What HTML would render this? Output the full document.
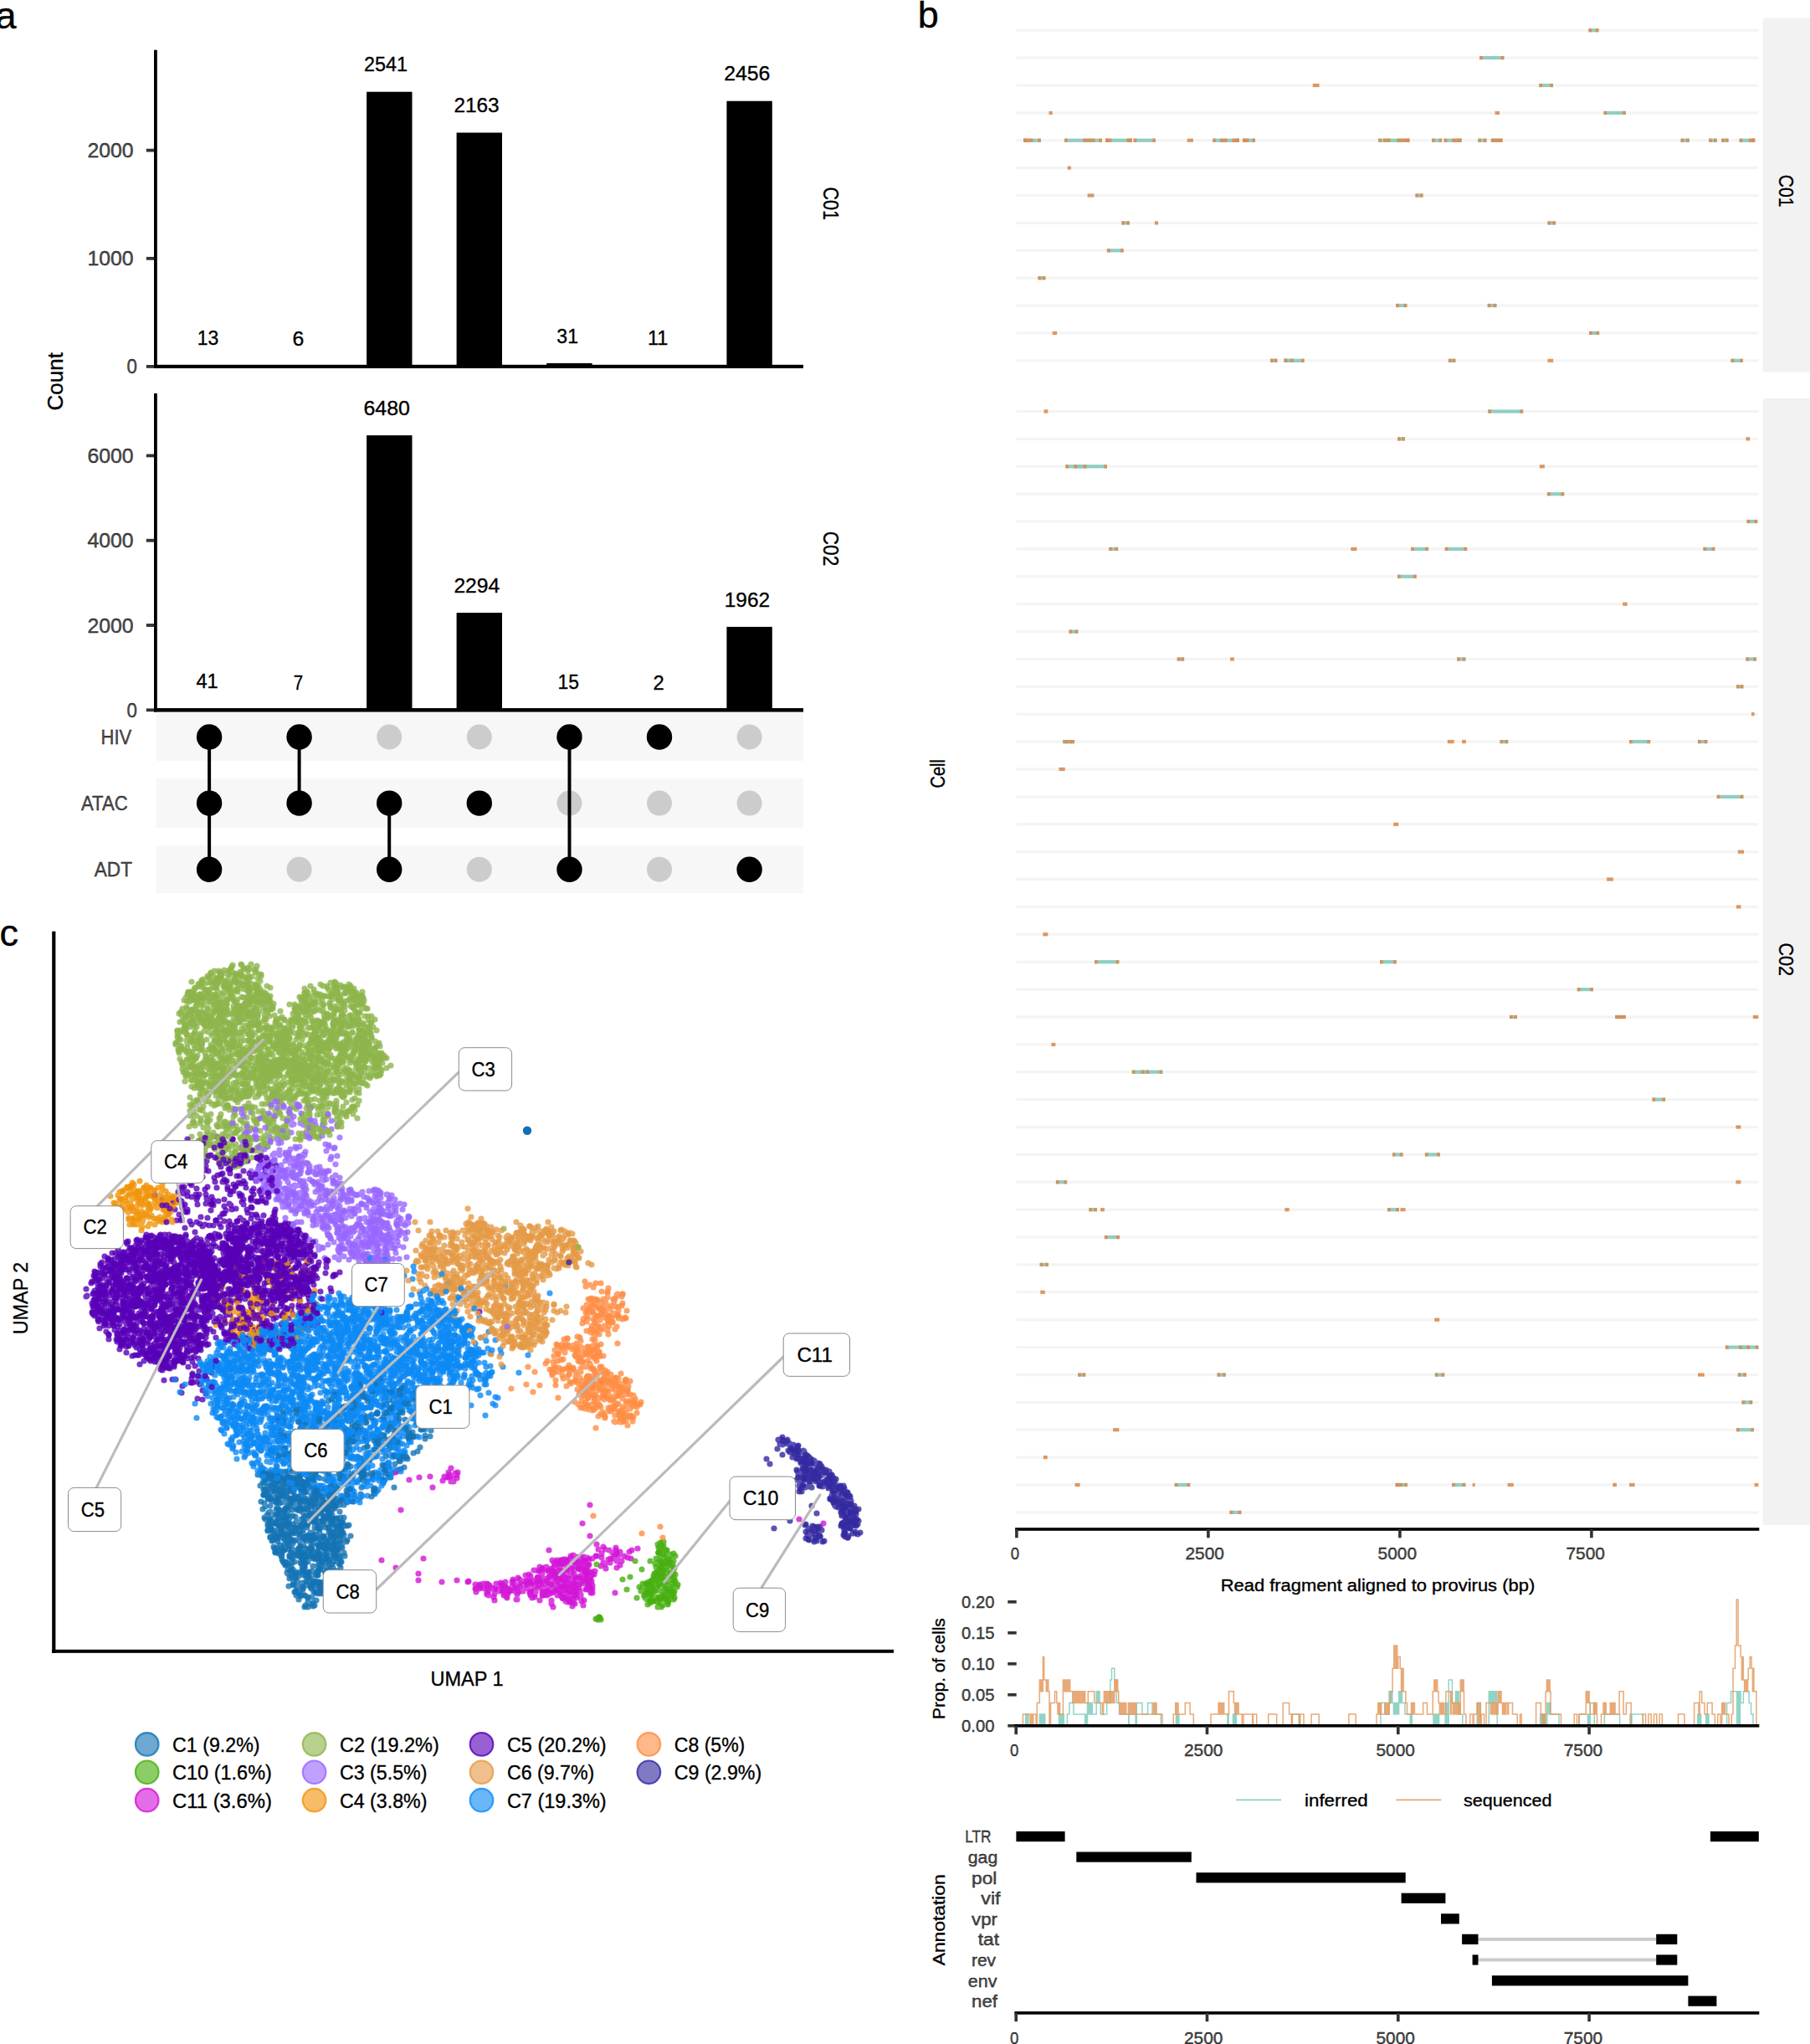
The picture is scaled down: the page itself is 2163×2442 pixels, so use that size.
<!DOCTYPE html>
<html><head><meta charset="utf-8"><title>Figure</title>
<style>
html,body{margin:0;padding:0;background:#fff}
svg{display:block;font-family:'Liberation Sans', sans-serif}
text{stroke:#000;stroke-width:.35px}
</style></head><body>
<svg width="2163" height="2442" viewBox="0 0 2163 2442">
<rect width="2163" height="2442" fill="#fff"/>
<text x="-5.6" y="33.6" font-size="45">a</text>
<rect x="438.1" y="109.7" width="54.4" height="328.2"/>
<rect x="545.6" y="158.5" width="54.4" height="279.4"/>
<rect x="653.2" y="433.9" width="54.4" height="4.0"/>
<rect x="868.4" y="120.7" width="54.4" height="317.2"/>
<rect x="184.0" y="59.7" width="3.8" height="380.3"/>
<rect x="184.0" y="435.8" width="776.0" height="4.2"/>
<rect x="174.8" y="436.0" width="9.2" height="3.8" fill="#333"/>
<text x="151.4" y="446.2" font-size="24.7" textLength="12.4" lengthAdjust="spacingAndGlyphs" fill="#4d4d4d" stroke="#4d4d4d">0</text>
<rect x="174.8" y="306.9" width="9.2" height="3.8" fill="#333"/>
<text x="104.4" y="317.2" font-size="24.7" textLength="55.2" lengthAdjust="spacingAndGlyphs" fill="#4d4d4d" stroke="#4d4d4d">1000</text>
<rect x="174.8" y="177.7" width="9.2" height="3.8" fill="#333"/>
<text x="104.4" y="188.1" font-size="24.7" textLength="55.2" lengthAdjust="spacingAndGlyphs" fill="#4d4d4d" stroke="#4d4d4d">2000</text>
<text x="235.7" y="411.9" font-size="24.7" textLength="25.6" lengthAdjust="spacingAndGlyphs">13</text>
<text x="349.6" y="412.8" font-size="24.7" textLength="13.8" lengthAdjust="spacingAndGlyphs">6</text>
<text x="435.0" y="85.4" font-size="24.7" textLength="52.0" lengthAdjust="spacingAndGlyphs">2541</text>
<text x="542.4" y="134.2" font-size="24.7" textLength="54.3" lengthAdjust="spacingAndGlyphs">2163</text>
<text x="665.3" y="409.6" font-size="24.7" textLength="25.7" lengthAdjust="spacingAndGlyphs">31</text>
<text x="773.9" y="412.2" font-size="24.7" textLength="24.4" lengthAdjust="spacingAndGlyphs">11</text>
<text x="865.2" y="96.4" font-size="24.7" textLength="55.2" lengthAdjust="spacingAndGlyphs">2456</text>
<rect x="438.1" y="520.1" width="54.4" height="328.2"/>
<rect x="545.6" y="732.1" width="54.4" height="116.2"/>
<rect x="868.4" y="748.9" width="54.4" height="99.4"/>
<rect x="184.0" y="470.0" width="3.8" height="380.4"/>
<rect x="184.0" y="846.2" width="776.0" height="4.2"/>
<rect x="174.8" y="846.4" width="9.2" height="3.8" fill="#333"/>
<text x="151.4" y="856.6" font-size="24.7" textLength="12.4" lengthAdjust="spacingAndGlyphs" fill="#4d4d4d" stroke="#4d4d4d">0</text>
<rect x="174.8" y="745.1" width="9.2" height="3.8" fill="#333"/>
<text x="104.4" y="755.5" font-size="24.7" textLength="55.2" lengthAdjust="spacingAndGlyphs" fill="#4d4d4d" stroke="#4d4d4d">2000</text>
<rect x="174.8" y="643.8" width="9.2" height="3.8" fill="#333"/>
<text x="104.4" y="654.2" font-size="24.7" textLength="55.2" lengthAdjust="spacingAndGlyphs" fill="#4d4d4d" stroke="#4d4d4d">4000</text>
<rect x="174.8" y="542.5" width="9.2" height="3.8" fill="#333"/>
<text x="104.4" y="552.9" font-size="24.7" textLength="55.2" lengthAdjust="spacingAndGlyphs" fill="#4d4d4d" stroke="#4d4d4d">6000</text>
<text x="234.5" y="821.9" font-size="24.7" textLength="26.2" lengthAdjust="spacingAndGlyphs">41</text>
<text x="350.8" y="823.6" font-size="24.7" textLength="11.4" lengthAdjust="spacingAndGlyphs">7</text>
<text x="434.4" y="495.8" font-size="24.7" textLength="55.5" lengthAdjust="spacingAndGlyphs">6480</text>
<text x="542.4" y="707.8" font-size="24.7" textLength="54.9" lengthAdjust="spacingAndGlyphs">2294</text>
<text x="666.5" y="823.2" font-size="24.7" textLength="25.5" lengthAdjust="spacingAndGlyphs">15</text>
<text x="780.4" y="823.9" font-size="24.7" textLength="13.2" lengthAdjust="spacingAndGlyphs">2</text>
<text x="865.8" y="724.6" font-size="24.7" textLength="54.2" lengthAdjust="spacingAndGlyphs">1962</text>
<text x="74.6" y="455.7" font-size="26" text-anchor="middle" textLength="69.4" lengthAdjust="spacingAndGlyphs" transform="rotate(-90 74.6 455.7)">Count</text>
<text x="984.3" y="243.2" font-size="26.5" text-anchor="middle" textLength="39.5" lengthAdjust="spacingAndGlyphs" transform="rotate(90 984.3 243.2)">C01</text>
<text x="984.3" y="655.5" font-size="26.5" text-anchor="middle" textLength="41.5" lengthAdjust="spacingAndGlyphs" transform="rotate(90 984.3 655.5)">C02</text>
<rect x="186.5" y="850.7" width="773.5" height="58.2" fill="#f7f7f7"/>
<rect x="186.5" y="930.4" width="773.5" height="58.5" fill="#f7f7f7"/>
<rect x="186.5" y="1010.0" width="773.5" height="57.0" fill="#f7f7f7"/>
<rect x="184.0" y="846.2" width="776.0" height="4.2"/>
<circle cx="357.6" cy="1038.7" r="15" fill="#ccc"/>
<circle cx="465.2" cy="880.5" r="15" fill="#ccc"/>
<circle cx="572.8" cy="880.5" r="15" fill="#ccc"/>
<circle cx="572.8" cy="1038.7" r="15" fill="#ccc"/>
<circle cx="680.5" cy="959.6" r="15" fill="#ccc"/>
<circle cx="788.0" cy="959.6" r="15" fill="#ccc"/>
<circle cx="788.0" cy="1038.7" r="15" fill="#ccc"/>
<circle cx="895.6" cy="880.5" r="15" fill="#ccc"/>
<circle cx="895.6" cy="959.6" r="15" fill="#ccc"/>
<rect x="248.1" y="880.5" width="4.0" height="158.2"/>
<circle cx="250.1" cy="880.5" r="15.2"/>
<circle cx="250.1" cy="959.6" r="15.2"/>
<circle cx="250.1" cy="1038.7" r="15.2"/>
<rect x="355.6" y="880.5" width="4.0" height="79.1"/>
<circle cx="357.6" cy="880.5" r="15.2"/>
<circle cx="357.6" cy="959.6" r="15.2"/>
<rect x="463.2" y="959.6" width="4.0" height="79.1"/>
<circle cx="465.2" cy="959.6" r="15.2"/>
<circle cx="465.2" cy="1038.7" r="15.2"/>
<circle cx="572.8" cy="959.6" r="15.2"/>
<rect x="678.5" y="880.5" width="4.0" height="158.2"/>
<circle cx="680.5" cy="880.5" r="15.2"/>
<circle cx="680.5" cy="1038.7" r="15.2"/>
<circle cx="788.0" cy="880.5" r="15.2"/>
<circle cx="895.6" cy="1038.7" r="15.2"/>
<text x="120.5" y="889.3" font-size="24.7" textLength="36.7" lengthAdjust="spacingAndGlyphs" fill="#4d4d4d" stroke="#4d4d4d">HIV</text>
<text x="97.0" y="968.4" font-size="24.7" textLength="55.7" lengthAdjust="spacingAndGlyphs" fill="#4d4d4d" stroke="#4d4d4d">ATAC</text>
<text x="112.8" y="1047.4" font-size="24.7" textLength="45.2" lengthAdjust="spacingAndGlyphs" fill="#4d4d4d" stroke="#4d4d4d">ADT</text>
<text x="1096.8" y="33.2" font-size="45">b</text>
<rect x="2106.7" y="21.2" width="60" height="423.3" rx="2.5" fill="#f2f2f2"/>
<rect x="2106.7" y="475.9" width="60" height="1346" rx="2.5" fill="#f2f2f2"/>
<text x="2125.7" y="228.2" font-size="24.7" text-anchor="middle" textLength="38.7" lengthAdjust="spacingAndGlyphs" transform="rotate(90 2125.7 228.2)">C01</text>
<text x="2125.7" y="1146.3" font-size="24.7" text-anchor="middle" textLength="39.5" lengthAdjust="spacingAndGlyphs" transform="rotate(90 2125.7 1146.3)">C02</text>
<text x="1128.8" y="924.3" font-size="24.7" text-anchor="middle" textLength="34.6" lengthAdjust="spacingAndGlyphs" transform="rotate(-90 1128.8 924.3)">Cell</text>
<rect x="1214.4" y="34.6" width="886.9" height="3.2" fill="#f4f4f4"/>
<rect x="1214.4" y="67.5" width="886.9" height="3.2" fill="#f4f4f4"/>
<rect x="1214.4" y="100.4" width="886.9" height="3.2" fill="#f4f4f4"/>
<rect x="1214.4" y="133.3" width="886.9" height="3.2" fill="#f4f4f4"/>
<rect x="1214.4" y="166.1" width="886.9" height="3.2" fill="#f4f4f4"/>
<rect x="1214.4" y="199.0" width="886.9" height="3.2" fill="#f4f4f4"/>
<rect x="1214.4" y="231.9" width="886.9" height="3.2" fill="#f4f4f4"/>
<rect x="1214.4" y="264.8" width="886.9" height="3.2" fill="#f4f4f4"/>
<rect x="1214.4" y="297.7" width="886.9" height="3.2" fill="#f4f4f4"/>
<rect x="1214.4" y="330.6" width="886.9" height="3.2" fill="#f4f4f4"/>
<rect x="1214.4" y="363.4" width="886.9" height="3.2" fill="#f4f4f4"/>
<rect x="1214.4" y="396.3" width="886.9" height="3.2" fill="#f4f4f4"/>
<rect x="1214.4" y="429.2" width="886.9" height="3.2" fill="#f4f4f4"/>
<rect x="1214.4" y="489.9" width="886.9" height="3.2" fill="#f4f4f4"/>
<rect x="1214.4" y="522.8" width="886.9" height="3.2" fill="#f4f4f4"/>
<rect x="1214.4" y="555.7" width="886.9" height="3.2" fill="#f4f4f4"/>
<rect x="1214.4" y="588.6" width="886.9" height="3.2" fill="#f4f4f4"/>
<rect x="1214.4" y="621.4" width="886.9" height="3.2" fill="#f4f4f4"/>
<rect x="1214.4" y="654.3" width="886.9" height="3.2" fill="#f4f4f4"/>
<rect x="1214.4" y="687.2" width="886.9" height="3.2" fill="#f4f4f4"/>
<rect x="1214.4" y="720.1" width="886.9" height="3.2" fill="#f4f4f4"/>
<rect x="1214.4" y="753.0" width="886.9" height="3.2" fill="#f4f4f4"/>
<rect x="1214.4" y="785.9" width="886.9" height="3.2" fill="#f4f4f4"/>
<rect x="1214.4" y="818.7" width="886.9" height="3.2" fill="#f4f4f4"/>
<rect x="1214.4" y="851.6" width="886.9" height="3.2" fill="#f4f4f4"/>
<rect x="1214.4" y="884.5" width="886.9" height="3.2" fill="#f4f4f4"/>
<rect x="1214.4" y="917.4" width="886.9" height="3.2" fill="#f4f4f4"/>
<rect x="1214.4" y="950.3" width="886.9" height="3.2" fill="#f4f4f4"/>
<rect x="1214.4" y="983.2" width="886.9" height="3.2" fill="#f4f4f4"/>
<rect x="1214.4" y="1016.1" width="886.9" height="3.2" fill="#f4f4f4"/>
<rect x="1214.4" y="1048.9" width="886.9" height="3.2" fill="#f4f4f4"/>
<rect x="1214.4" y="1081.8" width="886.9" height="3.2" fill="#f4f4f4"/>
<rect x="1214.4" y="1114.7" width="886.9" height="3.2" fill="#f4f4f4"/>
<rect x="1214.4" y="1147.6" width="886.9" height="3.2" fill="#f4f4f4"/>
<rect x="1214.4" y="1180.5" width="886.9" height="3.2" fill="#f4f4f4"/>
<rect x="1214.4" y="1213.4" width="886.9" height="3.2" fill="#f4f4f4"/>
<rect x="1214.4" y="1246.3" width="886.9" height="3.2" fill="#f4f4f4"/>
<rect x="1214.4" y="1279.1" width="886.9" height="3.2" fill="#f4f4f4"/>
<rect x="1214.4" y="1312.0" width="886.9" height="3.2" fill="#f4f4f4"/>
<rect x="1214.4" y="1344.9" width="886.9" height="3.2" fill="#f4f4f4"/>
<rect x="1214.4" y="1377.8" width="886.9" height="3.2" fill="#f4f4f4"/>
<rect x="1214.4" y="1410.7" width="886.9" height="3.2" fill="#f4f4f4"/>
<rect x="1214.4" y="1443.6" width="886.9" height="3.2" fill="#f4f4f4"/>
<rect x="1214.4" y="1476.5" width="886.9" height="3.2" fill="#f4f4f4"/>
<rect x="1214.4" y="1509.3" width="886.9" height="3.2" fill="#f4f4f4"/>
<rect x="1214.4" y="1542.2" width="886.9" height="3.2" fill="#f4f4f4"/>
<rect x="1214.4" y="1575.1" width="886.9" height="3.2" fill="#f4f4f4"/>
<rect x="1214.4" y="1608.0" width="886.9" height="3.2" fill="#f4f4f4"/>
<rect x="1214.4" y="1640.9" width="886.9" height="3.2" fill="#f4f4f4"/>
<rect x="1214.4" y="1673.8" width="886.9" height="3.2" fill="#f4f4f4"/>
<rect x="1214.4" y="1706.6" width="886.9" height="3.2" fill="#f4f4f4"/>
<rect x="1214.4" y="1739.5" width="886.9" height="3.2" fill="#f4f4f4"/>
<rect x="1214.4" y="1772.4" width="886.9" height="3.2" fill="#f4f4f4"/>
<rect x="1214.4" y="1805.3" width="886.9" height="3.2" fill="#f4f4f4"/>
<rect x="1898.5" y="34.1" width="12.0" height="4.2" fill="#86c9bd" fill-opacity=".9"/>
<rect x="1898.5" y="34.1" width="3.7" height="4.2" fill="#d98c50" fill-opacity=".9"/>
<rect x="1906.8" y="34.1" width="3.7" height="4.2" fill="#d98c50" fill-opacity=".9"/>
<rect x="1768.1" y="67.0" width="29.3" height="4.2" fill="#86c9bd" fill-opacity=".9"/>
<rect x="1768.1" y="67.0" width="3.7" height="4.2" fill="#d98c50" fill-opacity=".9"/>
<rect x="1793.7" y="67.0" width="3.7" height="4.2" fill="#d98c50" fill-opacity=".9"/>
<rect x="1568.8" y="99.9" width="7.8" height="4.2" fill="#d98c50" fill-opacity=".9"/>
<rect x="1839.3" y="99.9" width="16.8" height="4.2" fill="#86c9bd" fill-opacity=".9"/>
<rect x="1839.3" y="99.9" width="3.7" height="4.2" fill="#d98c50" fill-opacity=".9"/>
<rect x="1852.3" y="99.9" width="3.7" height="4.2" fill="#d98c50" fill-opacity=".9"/>
<rect x="1253.5" y="132.8" width="4.2" height="4.2" fill="#d98c50" fill-opacity=".9"/>
<rect x="1786.6" y="132.8" width="5.4" height="4.2" fill="#d98c50" fill-opacity=".9"/>
<rect x="1916.5" y="132.8" width="26.3" height="4.2" fill="#86c9bd" fill-opacity=".9"/>
<rect x="1916.5" y="132.8" width="3.7" height="4.2" fill="#d98c50" fill-opacity=".9"/>
<rect x="1939.1" y="132.8" width="3.7" height="4.2" fill="#d98c50" fill-opacity=".9"/>
<rect x="1223.0" y="165.6" width="20.9" height="4.2" fill="#86c9bd" fill-opacity=".9"/>
<rect x="1223.0" y="165.6" width="3.7" height="4.2" fill="#d98c50" fill-opacity=".9"/>
<rect x="1240.2" y="165.6" width="3.7" height="4.2" fill="#d98c50" fill-opacity=".9"/>
<rect x="1223.0" y="165.6" width="11.4" height="4.2" fill="#d98c50" fill-opacity=".9"/>
<rect x="1272.1" y="165.6" width="44.9" height="4.2" fill="#86c9bd" fill-opacity=".9"/>
<rect x="1272.1" y="165.6" width="3.7" height="4.2" fill="#d98c50" fill-opacity=".9"/>
<rect x="1313.2" y="165.6" width="3.7" height="4.2" fill="#d98c50" fill-opacity=".9"/>
<rect x="1294.2" y="165.6" width="14.4" height="4.2" fill="#d98c50" fill-opacity=".9"/>
<rect x="1321.1" y="165.6" width="31.7" height="4.2" fill="#86c9bd" fill-opacity=".9"/>
<rect x="1321.1" y="165.6" width="3.7" height="4.2" fill="#d98c50" fill-opacity=".9"/>
<rect x="1349.1" y="165.6" width="3.7" height="4.2" fill="#d98c50" fill-opacity=".9"/>
<rect x="1321.1" y="165.6" width="7.2" height="4.2" fill="#d98c50" fill-opacity=".9"/>
<rect x="1346.3" y="165.6" width="6.6" height="4.2" fill="#d98c50" fill-opacity=".9"/>
<rect x="1354.6" y="165.6" width="26.3" height="4.2" fill="#86c9bd" fill-opacity=".9"/>
<rect x="1354.6" y="165.6" width="3.7" height="4.2" fill="#d98c50" fill-opacity=".9"/>
<rect x="1377.3" y="165.6" width="3.7" height="4.2" fill="#d98c50" fill-opacity=".9"/>
<rect x="1418.7" y="165.6" width="7.2" height="4.2" fill="#d98c50" fill-opacity=".9"/>
<rect x="1449.2" y="165.6" width="31.7" height="4.2" fill="#86c9bd" fill-opacity=".9"/>
<rect x="1449.2" y="165.6" width="3.7" height="4.2" fill="#d98c50" fill-opacity=".9"/>
<rect x="1477.2" y="165.6" width="3.7" height="4.2" fill="#d98c50" fill-opacity=".9"/>
<rect x="1458.1" y="165.6" width="8.4" height="4.2" fill="#d98c50" fill-opacity=".9"/>
<rect x="1472.5" y="165.6" width="8.4" height="4.2" fill="#d98c50" fill-opacity=".9"/>
<rect x="1485.1" y="165.6" width="15.0" height="4.2" fill="#86c9bd" fill-opacity=".9"/>
<rect x="1485.1" y="165.6" width="3.7" height="4.2" fill="#d98c50" fill-opacity=".9"/>
<rect x="1496.3" y="165.6" width="3.7" height="4.2" fill="#d98c50" fill-opacity=".9"/>
<rect x="1485.1" y="165.6" width="7.2" height="4.2" fill="#d98c50" fill-opacity=".9"/>
<rect x="1647.2" y="165.6" width="37.1" height="4.2" fill="#86c9bd" fill-opacity=".9"/>
<rect x="1647.2" y="165.6" width="3.7" height="4.2" fill="#d98c50" fill-opacity=".9"/>
<rect x="1680.6" y="165.6" width="3.7" height="4.2" fill="#d98c50" fill-opacity=".9"/>
<rect x="1653.2" y="165.6" width="8.4" height="4.2" fill="#d98c50" fill-opacity=".9"/>
<rect x="1669.4" y="165.6" width="15.0" height="4.2" fill="#d98c50" fill-opacity=".9"/>
<rect x="1711.2" y="165.6" width="12.0" height="4.2" fill="#86c9bd" fill-opacity=".9"/>
<rect x="1711.2" y="165.6" width="3.7" height="4.2" fill="#d98c50" fill-opacity=".9"/>
<rect x="1719.5" y="165.6" width="3.7" height="4.2" fill="#d98c50" fill-opacity=".9"/>
<rect x="1725.6" y="165.6" width="20.9" height="4.2" fill="#86c9bd" fill-opacity=".9"/>
<rect x="1725.6" y="165.6" width="3.7" height="4.2" fill="#d98c50" fill-opacity=".9"/>
<rect x="1742.8" y="165.6" width="3.7" height="4.2" fill="#d98c50" fill-opacity=".9"/>
<rect x="1735.2" y="165.6" width="11.4" height="4.2" fill="#d98c50" fill-opacity=".9"/>
<rect x="1766.3" y="165.6" width="10.2" height="4.2" fill="#86c9bd" fill-opacity=".9"/>
<rect x="1766.3" y="165.6" width="3.7" height="4.2" fill="#d98c50" fill-opacity=".9"/>
<rect x="1772.8" y="165.6" width="3.7" height="4.2" fill="#d98c50" fill-opacity=".9"/>
<rect x="1781.8" y="165.6" width="13.8" height="4.2" fill="#86c9bd" fill-opacity=".9"/>
<rect x="1781.8" y="165.6" width="3.7" height="4.2" fill="#d98c50" fill-opacity=".9"/>
<rect x="1791.9" y="165.6" width="3.7" height="4.2" fill="#d98c50" fill-opacity=".9"/>
<rect x="1784.8" y="165.6" width="8.4" height="4.2" fill="#d98c50" fill-opacity=".9"/>
<rect x="2008.6" y="165.6" width="10.2" height="4.2" fill="#86c9bd" fill-opacity=".9"/>
<rect x="2008.6" y="165.6" width="3.7" height="4.2" fill="#d98c50" fill-opacity=".9"/>
<rect x="2015.1" y="165.6" width="3.7" height="4.2" fill="#d98c50" fill-opacity=".9"/>
<rect x="2042.1" y="165.6" width="9.6" height="4.2" fill="#86c9bd" fill-opacity=".9"/>
<rect x="2042.1" y="165.6" width="3.7" height="4.2" fill="#d98c50" fill-opacity=".9"/>
<rect x="2048.0" y="165.6" width="3.7" height="4.2" fill="#d98c50" fill-opacity=".9"/>
<rect x="2057.1" y="165.6" width="8.4" height="4.2" fill="#86c9bd" fill-opacity=".9"/>
<rect x="2057.1" y="165.6" width="3.7" height="4.2" fill="#d98c50" fill-opacity=".9"/>
<rect x="2061.8" y="165.6" width="3.7" height="4.2" fill="#d98c50" fill-opacity=".9"/>
<rect x="2078.6" y="165.6" width="18.5" height="4.2" fill="#86c9bd" fill-opacity=".9"/>
<rect x="2078.6" y="165.6" width="3.7" height="4.2" fill="#d98c50" fill-opacity=".9"/>
<rect x="2093.5" y="165.6" width="3.7" height="4.2" fill="#d98c50" fill-opacity=".9"/>
<rect x="2090.0" y="165.6" width="7.2" height="4.2" fill="#d98c50" fill-opacity=".9"/>
<rect x="1275.7" y="198.5" width="4.2" height="4.2" fill="#d98c50" fill-opacity=".9"/>
<rect x="1299.6" y="231.4" width="7.8" height="4.2" fill="#d98c50" fill-opacity=".9"/>
<rect x="1691.5" y="231.4" width="9.0" height="4.2" fill="#86c9bd" fill-opacity=".9"/>
<rect x="1691.5" y="231.4" width="3.7" height="4.2" fill="#d98c50" fill-opacity=".9"/>
<rect x="1696.8" y="231.4" width="3.7" height="4.2" fill="#d98c50" fill-opacity=".9"/>
<rect x="1340.3" y="264.3" width="9.6" height="4.2" fill="#86c9bd" fill-opacity=".9"/>
<rect x="1340.3" y="264.3" width="3.7" height="4.2" fill="#d98c50" fill-opacity=".9"/>
<rect x="1346.1" y="264.3" width="3.7" height="4.2" fill="#d98c50" fill-opacity=".9"/>
<rect x="1379.8" y="264.3" width="4.2" height="4.2" fill="#d98c50" fill-opacity=".9"/>
<rect x="1849.5" y="264.3" width="9.6" height="4.2" fill="#86c9bd" fill-opacity=".9"/>
<rect x="1849.5" y="264.3" width="3.7" height="4.2" fill="#d98c50" fill-opacity=".9"/>
<rect x="1855.3" y="264.3" width="3.7" height="4.2" fill="#d98c50" fill-opacity=".9"/>
<rect x="1322.9" y="297.2" width="19.7" height="4.2" fill="#86c9bd" fill-opacity=".9"/>
<rect x="1322.9" y="297.2" width="3.7" height="4.2" fill="#d98c50" fill-opacity=".9"/>
<rect x="1339.0" y="297.2" width="3.7" height="4.2" fill="#d98c50" fill-opacity=".9"/>
<rect x="1240.4" y="330.1" width="9.0" height="4.2" fill="#86c9bd" fill-opacity=".9"/>
<rect x="1240.4" y="330.1" width="3.7" height="4.2" fill="#d98c50" fill-opacity=".9"/>
<rect x="1245.6" y="330.1" width="3.7" height="4.2" fill="#d98c50" fill-opacity=".9"/>
<rect x="1668.2" y="362.9" width="13.2" height="4.2" fill="#86c9bd" fill-opacity=".9"/>
<rect x="1668.2" y="362.9" width="3.7" height="4.2" fill="#d98c50" fill-opacity=".9"/>
<rect x="1677.6" y="362.9" width="3.7" height="4.2" fill="#d98c50" fill-opacity=".9"/>
<rect x="1777.7" y="362.9" width="10.8" height="4.2" fill="#86c9bd" fill-opacity=".9"/>
<rect x="1777.7" y="362.9" width="3.7" height="4.2" fill="#d98c50" fill-opacity=".9"/>
<rect x="1784.7" y="362.9" width="3.7" height="4.2" fill="#d98c50" fill-opacity=".9"/>
<rect x="1257.7" y="395.8" width="5.4" height="4.2" fill="#d98c50" fill-opacity=".9"/>
<rect x="1899.1" y="395.8" width="12.0" height="4.2" fill="#86c9bd" fill-opacity=".9"/>
<rect x="1899.1" y="395.8" width="3.7" height="4.2" fill="#d98c50" fill-opacity=".9"/>
<rect x="1907.4" y="395.8" width="3.7" height="4.2" fill="#d98c50" fill-opacity=".9"/>
<rect x="1518.0" y="428.7" width="8.4" height="4.2" fill="#86c9bd" fill-opacity=".9"/>
<rect x="1518.0" y="428.7" width="3.7" height="4.2" fill="#d98c50" fill-opacity=".9"/>
<rect x="1522.7" y="428.7" width="3.7" height="4.2" fill="#d98c50" fill-opacity=".9"/>
<rect x="1534.7" y="428.7" width="23.9" height="4.2" fill="#86c9bd" fill-opacity=".9"/>
<rect x="1534.7" y="428.7" width="3.7" height="4.2" fill="#d98c50" fill-opacity=".9"/>
<rect x="1555.0" y="428.7" width="3.7" height="4.2" fill="#d98c50" fill-opacity=".9"/>
<rect x="1534.7" y="428.7" width="10.8" height="4.2" fill="#86c9bd" fill-opacity=".9"/>
<rect x="1534.7" y="428.7" width="3.7" height="4.2" fill="#d98c50" fill-opacity=".9"/>
<rect x="1541.8" y="428.7" width="3.7" height="4.2" fill="#d98c50" fill-opacity=".9"/>
<rect x="1731.0" y="428.7" width="8.4" height="4.2" fill="#86c9bd" fill-opacity=".9"/>
<rect x="1731.0" y="428.7" width="3.7" height="4.2" fill="#d98c50" fill-opacity=".9"/>
<rect x="1735.7" y="428.7" width="3.7" height="4.2" fill="#d98c50" fill-opacity=".9"/>
<rect x="1849.5" y="428.7" width="6.6" height="4.2" fill="#d98c50" fill-opacity=".9"/>
<rect x="2068.5" y="428.7" width="14.4" height="4.2" fill="#86c9bd" fill-opacity=".9"/>
<rect x="2068.5" y="428.7" width="3.7" height="4.2" fill="#d98c50" fill-opacity=".9"/>
<rect x="2079.1" y="428.7" width="3.7" height="4.2" fill="#d98c50" fill-opacity=".9"/>
<rect x="1247.5" y="489.4" width="4.8" height="4.2" fill="#d98c50" fill-opacity=".9"/>
<rect x="1778.3" y="489.4" width="41.9" height="4.2" fill="#86c9bd" fill-opacity=".9"/>
<rect x="1778.3" y="489.4" width="3.7" height="4.2" fill="#d98c50" fill-opacity=".9"/>
<rect x="1816.4" y="489.4" width="3.7" height="4.2" fill="#d98c50" fill-opacity=".9"/>
<rect x="1670.0" y="522.3" width="9.0" height="4.2" fill="#86c9bd" fill-opacity=".9"/>
<rect x="1670.0" y="522.3" width="3.7" height="4.2" fill="#d98c50" fill-opacity=".9"/>
<rect x="1675.2" y="522.3" width="3.7" height="4.2" fill="#d98c50" fill-opacity=".9"/>
<rect x="2086.4" y="522.3" width="4.8" height="4.2" fill="#d98c50" fill-opacity=".9"/>
<rect x="1273.3" y="555.2" width="49.7" height="4.2" fill="#86c9bd" fill-opacity=".9"/>
<rect x="1273.3" y="555.2" width="3.7" height="4.2" fill="#d98c50" fill-opacity=".9"/>
<rect x="1319.2" y="555.2" width="3.7" height="4.2" fill="#d98c50" fill-opacity=".9"/>
<rect x="1283.4" y="555.2" width="15.0" height="4.2" fill="#86c9bd" fill-opacity=".9"/>
<rect x="1283.4" y="555.2" width="3.7" height="4.2" fill="#d98c50" fill-opacity=".9"/>
<rect x="1294.7" y="555.2" width="3.7" height="4.2" fill="#d98c50" fill-opacity=".9"/>
<rect x="1839.9" y="555.2" width="6.0" height="4.2" fill="#d98c50" fill-opacity=".9"/>
<rect x="1848.9" y="588.1" width="20.3" height="4.2" fill="#86c9bd" fill-opacity=".9"/>
<rect x="1848.9" y="588.1" width="3.7" height="4.2" fill="#d98c50" fill-opacity=".9"/>
<rect x="1865.5" y="588.1" width="3.7" height="4.2" fill="#d98c50" fill-opacity=".9"/>
<rect x="2087.6" y="620.9" width="12.6" height="4.2" fill="#86c9bd" fill-opacity=".9"/>
<rect x="2087.6" y="620.9" width="3.7" height="4.2" fill="#d98c50" fill-opacity=".9"/>
<rect x="2096.5" y="620.9" width="3.7" height="4.2" fill="#d98c50" fill-opacity=".9"/>
<rect x="1325.3" y="653.8" width="10.8" height="4.2" fill="#86c9bd" fill-opacity=".9"/>
<rect x="1325.3" y="653.8" width="3.7" height="4.2" fill="#d98c50" fill-opacity=".9"/>
<rect x="1332.4" y="653.8" width="3.7" height="4.2" fill="#d98c50" fill-opacity=".9"/>
<rect x="1614.3" y="653.8" width="7.2" height="4.2" fill="#d98c50" fill-opacity=".9"/>
<rect x="1686.1" y="653.8" width="20.9" height="4.2" fill="#86c9bd" fill-opacity=".9"/>
<rect x="1686.1" y="653.8" width="3.7" height="4.2" fill="#d98c50" fill-opacity=".9"/>
<rect x="1703.4" y="653.8" width="3.7" height="4.2" fill="#d98c50" fill-opacity=".9"/>
<rect x="1726.8" y="653.8" width="26.3" height="4.2" fill="#86c9bd" fill-opacity=".9"/>
<rect x="1726.8" y="653.8" width="3.7" height="4.2" fill="#d98c50" fill-opacity=".9"/>
<rect x="1749.4" y="653.8" width="3.7" height="4.2" fill="#d98c50" fill-opacity=".9"/>
<rect x="2035.5" y="653.8" width="13.8" height="4.2" fill="#86c9bd" fill-opacity=".9"/>
<rect x="2035.5" y="653.8" width="3.7" height="4.2" fill="#d98c50" fill-opacity=".9"/>
<rect x="2045.6" y="653.8" width="3.7" height="4.2" fill="#d98c50" fill-opacity=".9"/>
<rect x="1670.0" y="686.7" width="22.7" height="4.2" fill="#86c9bd" fill-opacity=".9"/>
<rect x="1670.0" y="686.7" width="3.7" height="4.2" fill="#d98c50" fill-opacity=".9"/>
<rect x="1689.0" y="686.7" width="3.7" height="4.2" fill="#d98c50" fill-opacity=".9"/>
<rect x="1939.2" y="719.6" width="5.4" height="4.2" fill="#d98c50" fill-opacity=".9"/>
<rect x="1277.5" y="752.5" width="10.8" height="4.2" fill="#86c9bd" fill-opacity=".9"/>
<rect x="1277.5" y="752.5" width="3.7" height="4.2" fill="#d98c50" fill-opacity=".9"/>
<rect x="1284.5" y="752.5" width="3.7" height="4.2" fill="#d98c50" fill-opacity=".9"/>
<rect x="1406.7" y="785.4" width="8.4" height="4.2" fill="#86c9bd" fill-opacity=".9"/>
<rect x="1406.7" y="785.4" width="3.7" height="4.2" fill="#d98c50" fill-opacity=".9"/>
<rect x="1411.4" y="785.4" width="3.7" height="4.2" fill="#d98c50" fill-opacity=".9"/>
<rect x="1470.1" y="785.4" width="4.8" height="4.2" fill="#d98c50" fill-opacity=".9"/>
<rect x="1741.2" y="785.4" width="10.2" height="4.2" fill="#86c9bd" fill-opacity=".9"/>
<rect x="1741.2" y="785.4" width="3.7" height="4.2" fill="#d98c50" fill-opacity=".9"/>
<rect x="1747.6" y="785.4" width="3.7" height="4.2" fill="#d98c50" fill-opacity=".9"/>
<rect x="2086.4" y="785.4" width="12.6" height="4.2" fill="#86c9bd" fill-opacity=".9"/>
<rect x="2086.4" y="785.4" width="3.7" height="4.2" fill="#d98c50" fill-opacity=".9"/>
<rect x="2095.3" y="785.4" width="3.7" height="4.2" fill="#d98c50" fill-opacity=".9"/>
<rect x="2075.0" y="818.2" width="8.4" height="4.2" fill="#86c9bd" fill-opacity=".9"/>
<rect x="2075.0" y="818.2" width="3.7" height="4.2" fill="#d98c50" fill-opacity=".9"/>
<rect x="2079.7" y="818.2" width="3.7" height="4.2" fill="#d98c50" fill-opacity=".9"/>
<rect x="2093.0" y="851.1" width="3.6" height="4.2" fill="#d98c50" fill-opacity=".9"/>
<rect x="1270.3" y="884.0" width="13.8" height="4.2" fill="#86c9bd" fill-opacity=".9"/>
<rect x="1270.3" y="884.0" width="3.7" height="4.2" fill="#d98c50" fill-opacity=".9"/>
<rect x="1280.3" y="884.0" width="3.7" height="4.2" fill="#d98c50" fill-opacity=".9"/>
<rect x="1272.7" y="884.0" width="8.4" height="4.2" fill="#86c9bd" fill-opacity=".9"/>
<rect x="1272.7" y="884.0" width="3.7" height="4.2" fill="#d98c50" fill-opacity=".9"/>
<rect x="1277.3" y="884.0" width="3.7" height="4.2" fill="#d98c50" fill-opacity=".9"/>
<rect x="1729.8" y="884.0" width="7.8" height="4.2" fill="#d98c50" fill-opacity=".9"/>
<rect x="1747.1" y="884.0" width="4.8" height="4.2" fill="#d98c50" fill-opacity=".9"/>
<rect x="1792.6" y="884.0" width="9.6" height="4.2" fill="#86c9bd" fill-opacity=".9"/>
<rect x="1792.6" y="884.0" width="3.7" height="4.2" fill="#d98c50" fill-opacity=".9"/>
<rect x="1798.5" y="884.0" width="3.7" height="4.2" fill="#d98c50" fill-opacity=".9"/>
<rect x="1947.0" y="884.0" width="25.1" height="4.2" fill="#86c9bd" fill-opacity=".9"/>
<rect x="1947.0" y="884.0" width="3.7" height="4.2" fill="#d98c50" fill-opacity=".9"/>
<rect x="1968.4" y="884.0" width="3.7" height="4.2" fill="#d98c50" fill-opacity=".9"/>
<rect x="2029.0" y="884.0" width="11.4" height="4.2" fill="#86c9bd" fill-opacity=".9"/>
<rect x="2029.0" y="884.0" width="3.7" height="4.2" fill="#d98c50" fill-opacity=".9"/>
<rect x="2036.6" y="884.0" width="3.7" height="4.2" fill="#d98c50" fill-opacity=".9"/>
<rect x="1265.5" y="916.9" width="7.2" height="4.2" fill="#d98c50" fill-opacity=".9"/>
<rect x="2051.7" y="949.8" width="31.7" height="4.2" fill="#86c9bd" fill-opacity=".9"/>
<rect x="2051.7" y="949.8" width="3.7" height="4.2" fill="#d98c50" fill-opacity=".9"/>
<rect x="2079.7" y="949.8" width="3.7" height="4.2" fill="#d98c50" fill-opacity=".9"/>
<rect x="1665.2" y="982.7" width="6.0" height="4.2" fill="#d98c50" fill-opacity=".9"/>
<rect x="2076.8" y="1015.6" width="7.2" height="4.2" fill="#d98c50" fill-opacity=".9"/>
<rect x="1920.1" y="1048.4" width="7.8" height="4.2" fill="#d98c50" fill-opacity=".9"/>
<rect x="2075.0" y="1081.3" width="5.4" height="4.2" fill="#d98c50" fill-opacity=".9"/>
<rect x="1246.3" y="1114.2" width="6.0" height="4.2" fill="#d98c50" fill-opacity=".9"/>
<rect x="1308.0" y="1147.1" width="29.3" height="4.2" fill="#86c9bd" fill-opacity=".9"/>
<rect x="1308.0" y="1147.1" width="3.7" height="4.2" fill="#d98c50" fill-opacity=".9"/>
<rect x="1333.6" y="1147.1" width="3.7" height="4.2" fill="#d98c50" fill-opacity=".9"/>
<rect x="1649.0" y="1147.1" width="19.7" height="4.2" fill="#86c9bd" fill-opacity=".9"/>
<rect x="1649.0" y="1147.1" width="3.7" height="4.2" fill="#d98c50" fill-opacity=".9"/>
<rect x="1665.1" y="1147.1" width="3.7" height="4.2" fill="#d98c50" fill-opacity=".9"/>
<rect x="1884.8" y="1180.0" width="19.1" height="4.2" fill="#86c9bd" fill-opacity=".9"/>
<rect x="1884.8" y="1180.0" width="3.7" height="4.2" fill="#d98c50" fill-opacity=".9"/>
<rect x="1900.2" y="1180.0" width="3.7" height="4.2" fill="#d98c50" fill-opacity=".9"/>
<rect x="1804.0" y="1212.9" width="9.0" height="4.2" fill="#86c9bd" fill-opacity=".9"/>
<rect x="1804.0" y="1212.9" width="3.7" height="4.2" fill="#d98c50" fill-opacity=".9"/>
<rect x="1809.3" y="1212.9" width="3.7" height="4.2" fill="#d98c50" fill-opacity=".9"/>
<rect x="1930.2" y="1212.9" width="12.6" height="4.2" fill="#86c9bd" fill-opacity=".9"/>
<rect x="1930.2" y="1212.9" width="3.7" height="4.2" fill="#d98c50" fill-opacity=".9"/>
<rect x="1939.1" y="1212.9" width="3.7" height="4.2" fill="#d98c50" fill-opacity=".9"/>
<rect x="1933.2" y="1212.9" width="7.2" height="4.2" fill="#d98c50" fill-opacity=".9"/>
<rect x="2094.8" y="1212.9" width="6.6" height="4.2" fill="#d98c50" fill-opacity=".9"/>
<rect x="1256.5" y="1245.8" width="4.8" height="4.2" fill="#d98c50" fill-opacity=".9"/>
<rect x="1352.8" y="1278.6" width="36.5" height="4.2" fill="#86c9bd" fill-opacity=".9"/>
<rect x="1352.8" y="1278.6" width="3.7" height="4.2" fill="#d98c50" fill-opacity=".9"/>
<rect x="1385.6" y="1278.6" width="3.7" height="4.2" fill="#d98c50" fill-opacity=".9"/>
<rect x="1363.6" y="1278.6" width="9.6" height="4.2" fill="#86c9bd" fill-opacity=".9"/>
<rect x="1363.6" y="1278.6" width="3.7" height="4.2" fill="#d98c50" fill-opacity=".9"/>
<rect x="1369.5" y="1278.6" width="3.7" height="4.2" fill="#d98c50" fill-opacity=".9"/>
<rect x="1974.5" y="1311.5" width="15.6" height="4.2" fill="#86c9bd" fill-opacity=".9"/>
<rect x="1974.5" y="1311.5" width="3.7" height="4.2" fill="#d98c50" fill-opacity=".9"/>
<rect x="1986.4" y="1311.5" width="3.7" height="4.2" fill="#d98c50" fill-opacity=".9"/>
<rect x="2074.4" y="1344.4" width="6.0" height="4.2" fill="#d98c50" fill-opacity=".9"/>
<rect x="1664.0" y="1377.3" width="12.6" height="4.2" fill="#86c9bd" fill-opacity=".9"/>
<rect x="1664.0" y="1377.3" width="3.7" height="4.2" fill="#d98c50" fill-opacity=".9"/>
<rect x="1672.8" y="1377.3" width="3.7" height="4.2" fill="#d98c50" fill-opacity=".9"/>
<rect x="1702.9" y="1377.3" width="18.0" height="4.2" fill="#86c9bd" fill-opacity=".9"/>
<rect x="1702.9" y="1377.3" width="3.7" height="4.2" fill="#d98c50" fill-opacity=".9"/>
<rect x="1717.1" y="1377.3" width="3.7" height="4.2" fill="#d98c50" fill-opacity=".9"/>
<rect x="1261.9" y="1410.2" width="13.2" height="4.2" fill="#86c9bd" fill-opacity=".9"/>
<rect x="1261.9" y="1410.2" width="3.7" height="4.2" fill="#d98c50" fill-opacity=".9"/>
<rect x="1271.4" y="1410.2" width="3.7" height="4.2" fill="#d98c50" fill-opacity=".9"/>
<rect x="2074.4" y="1410.2" width="6.0" height="4.2" fill="#d98c50" fill-opacity=".9"/>
<rect x="1301.4" y="1443.1" width="9.6" height="4.2" fill="#86c9bd" fill-opacity=".9"/>
<rect x="1301.4" y="1443.1" width="3.7" height="4.2" fill="#d98c50" fill-opacity=".9"/>
<rect x="1307.3" y="1443.1" width="3.7" height="4.2" fill="#d98c50" fill-opacity=".9"/>
<rect x="1315.1" y="1443.1" width="4.8" height="4.2" fill="#d98c50" fill-opacity=".9"/>
<rect x="1535.3" y="1443.1" width="5.4" height="4.2" fill="#d98c50" fill-opacity=".9"/>
<rect x="1658.0" y="1443.1" width="13.8" height="4.2" fill="#86c9bd" fill-opacity=".9"/>
<rect x="1658.0" y="1443.1" width="3.7" height="4.2" fill="#d98c50" fill-opacity=".9"/>
<rect x="1668.1" y="1443.1" width="3.7" height="4.2" fill="#d98c50" fill-opacity=".9"/>
<rect x="1673.5" y="1443.1" width="6.0" height="4.2" fill="#d98c50" fill-opacity=".9"/>
<rect x="1319.9" y="1476.0" width="18.0" height="4.2" fill="#86c9bd" fill-opacity=".9"/>
<rect x="1319.9" y="1476.0" width="3.7" height="4.2" fill="#d98c50" fill-opacity=".9"/>
<rect x="1334.2" y="1476.0" width="3.7" height="4.2" fill="#d98c50" fill-opacity=".9"/>
<rect x="1242.7" y="1508.8" width="10.2" height="4.2" fill="#86c9bd" fill-opacity=".9"/>
<rect x="1242.7" y="1508.8" width="3.7" height="4.2" fill="#d98c50" fill-opacity=".9"/>
<rect x="1249.2" y="1508.8" width="3.7" height="4.2" fill="#d98c50" fill-opacity=".9"/>
<rect x="1243.3" y="1541.7" width="5.4" height="4.2" fill="#d98c50" fill-opacity=".9"/>
<rect x="1714.2" y="1574.6" width="6.0" height="4.2" fill="#d98c50" fill-opacity=".9"/>
<rect x="2061.9" y="1607.5" width="39.5" height="4.2" fill="#86c9bd" fill-opacity=".9"/>
<rect x="2061.9" y="1607.5" width="3.7" height="4.2" fill="#d98c50" fill-opacity=".9"/>
<rect x="2097.7" y="1607.5" width="3.7" height="4.2" fill="#d98c50" fill-opacity=".9"/>
<rect x="2078.0" y="1607.5" width="13.2" height="4.2" fill="#86c9bd" fill-opacity=".9"/>
<rect x="2078.0" y="1607.5" width="3.7" height="4.2" fill="#d98c50" fill-opacity=".9"/>
<rect x="2087.5" y="1607.5" width="3.7" height="4.2" fill="#d98c50" fill-opacity=".9"/>
<rect x="1288.2" y="1640.4" width="9.0" height="4.2" fill="#86c9bd" fill-opacity=".9"/>
<rect x="1288.2" y="1640.4" width="3.7" height="4.2" fill="#d98c50" fill-opacity=".9"/>
<rect x="1293.5" y="1640.4" width="3.7" height="4.2" fill="#d98c50" fill-opacity=".9"/>
<rect x="1454.6" y="1640.4" width="10.2" height="4.2" fill="#86c9bd" fill-opacity=".9"/>
<rect x="1454.6" y="1640.4" width="3.7" height="4.2" fill="#d98c50" fill-opacity=".9"/>
<rect x="1461.0" y="1640.4" width="3.7" height="4.2" fill="#d98c50" fill-opacity=".9"/>
<rect x="1714.8" y="1640.4" width="11.4" height="4.2" fill="#86c9bd" fill-opacity=".9"/>
<rect x="1714.8" y="1640.4" width="3.7" height="4.2" fill="#d98c50" fill-opacity=".9"/>
<rect x="1722.5" y="1640.4" width="3.7" height="4.2" fill="#d98c50" fill-opacity=".9"/>
<rect x="2029.0" y="1640.4" width="7.8" height="4.2" fill="#d98c50" fill-opacity=".9"/>
<rect x="2076.8" y="1640.4" width="10.2" height="4.2" fill="#86c9bd" fill-opacity=".9"/>
<rect x="2076.8" y="1640.4" width="3.7" height="4.2" fill="#d98c50" fill-opacity=".9"/>
<rect x="2083.3" y="1640.4" width="3.7" height="4.2" fill="#d98c50" fill-opacity=".9"/>
<rect x="2081.6" y="1673.3" width="12.6" height="4.2" fill="#86c9bd" fill-opacity=".9"/>
<rect x="2081.6" y="1673.3" width="3.7" height="4.2" fill="#d98c50" fill-opacity=".9"/>
<rect x="2090.5" y="1673.3" width="3.7" height="4.2" fill="#d98c50" fill-opacity=".9"/>
<rect x="1330.1" y="1706.1" width="7.2" height="4.2" fill="#d98c50" fill-opacity=".9"/>
<rect x="2075.0" y="1706.1" width="20.9" height="4.2" fill="#86c9bd" fill-opacity=".9"/>
<rect x="2075.0" y="1706.1" width="3.7" height="4.2" fill="#d98c50" fill-opacity=".9"/>
<rect x="2092.3" y="1706.1" width="3.7" height="4.2" fill="#d98c50" fill-opacity=".9"/>
<rect x="1246.9" y="1739.0" width="4.8" height="4.2" fill="#d98c50" fill-opacity=".9"/>
<rect x="1284.6" y="1771.9" width="6.0" height="4.2" fill="#d98c50" fill-opacity=".9"/>
<rect x="1403.7" y="1771.9" width="18.5" height="4.2" fill="#86c9bd" fill-opacity=".9"/>
<rect x="1403.7" y="1771.9" width="3.7" height="4.2" fill="#d98c50" fill-opacity=".9"/>
<rect x="1418.5" y="1771.9" width="3.7" height="4.2" fill="#d98c50" fill-opacity=".9"/>
<rect x="1667.6" y="1771.9" width="14.4" height="4.2" fill="#86c9bd" fill-opacity=".9"/>
<rect x="1667.6" y="1771.9" width="3.7" height="4.2" fill="#d98c50" fill-opacity=".9"/>
<rect x="1678.2" y="1771.9" width="3.7" height="4.2" fill="#d98c50" fill-opacity=".9"/>
<rect x="1668.8" y="1771.9" width="7.2" height="4.2" fill="#d98c50" fill-opacity=".9"/>
<rect x="1735.2" y="1771.9" width="16.2" height="4.2" fill="#86c9bd" fill-opacity=".9"/>
<rect x="1735.2" y="1771.9" width="3.7" height="4.2" fill="#d98c50" fill-opacity=".9"/>
<rect x="1747.6" y="1771.9" width="3.7" height="4.2" fill="#d98c50" fill-opacity=".9"/>
<rect x="1759.7" y="1771.9" width="3.0" height="4.2" fill="#d98c50" fill-opacity=".9"/>
<rect x="1801.6" y="1771.9" width="7.2" height="4.2" fill="#d98c50" fill-opacity=".9"/>
<rect x="1927.2" y="1771.9" width="4.8" height="4.2" fill="#d98c50" fill-opacity=".9"/>
<rect x="1947.0" y="1771.9" width="6.6" height="4.2" fill="#d98c50" fill-opacity=".9"/>
<rect x="2096.6" y="1771.9" width="4.8" height="4.2" fill="#d98c50" fill-opacity=".9"/>
<rect x="1469.5" y="1804.8" width="13.8" height="4.2" fill="#86c9bd" fill-opacity=".9"/>
<rect x="1469.5" y="1804.8" width="3.7" height="4.2" fill="#d98c50" fill-opacity=".9"/>
<rect x="1479.6" y="1804.8" width="3.7" height="4.2" fill="#d98c50" fill-opacity=".9"/>
<rect x="1213.1" y="1825.2" width="889.2" height="3.6"/>
<rect x="1213.1" y="1827.0" width="3.6" height="10.3" fill="#333"/>
<text x="1207.8" y="1863.1" font-size="20.5" textLength="10.4" lengthAdjust="spacingAndGlyphs" fill="#4d4d4d" stroke="#4d4d4d">0</text>
<rect x="1442.1" y="1827.0" width="3.6" height="10.3" fill="#333"/>
<text x="1416.4" y="1863.1" font-size="20.5" textLength="46.5" lengthAdjust="spacingAndGlyphs" fill="#4d4d4d" stroke="#4d4d4d">2500</text>
<rect x="1671.1" y="1827.0" width="3.6" height="10.3" fill="#333"/>
<text x="1646.6" y="1863.1" font-size="20.5" textLength="46.5" lengthAdjust="spacingAndGlyphs" fill="#4d4d4d" stroke="#4d4d4d">5000</text>
<rect x="1900.1" y="1827.0" width="3.6" height="10.3" fill="#333"/>
<text x="1871.5" y="1863.1" font-size="20.5" textLength="46.5" lengthAdjust="spacingAndGlyphs" fill="#4d4d4d" stroke="#4d4d4d">7500</text>
<text x="1458.7" y="1901.0" font-size="20.5" textLength="375.5" lengthAdjust="spacingAndGlyphs">Read fragment aligned to provirus (bp)</text>
<rect x="1204.3" y="2060.0" width="10.4" height="3.6" fill="#333"/>
<text x="1149.1" y="2069.1" font-size="20.5" textLength="39.4" lengthAdjust="spacingAndGlyphs" fill="#4d4d4d" stroke="#4d4d4d">0.00</text>
<rect x="1204.3" y="2023.0" width="10.4" height="3.6" fill="#333"/>
<text x="1149.1" y="2032.1" font-size="20.5" textLength="39.4" lengthAdjust="spacingAndGlyphs" fill="#4d4d4d" stroke="#4d4d4d">0.05</text>
<rect x="1204.3" y="1986.0" width="10.4" height="3.6" fill="#333"/>
<text x="1149.1" y="1995.1" font-size="20.5" textLength="39.4" lengthAdjust="spacingAndGlyphs" fill="#4d4d4d" stroke="#4d4d4d">0.10</text>
<rect x="1204.3" y="1949.0" width="10.4" height="3.6" fill="#333"/>
<text x="1149.1" y="1958.1" font-size="20.5" textLength="39.4" lengthAdjust="spacingAndGlyphs" fill="#4d4d4d" stroke="#4d4d4d">0.15</text>
<rect x="1204.3" y="1912.0" width="10.4" height="3.6" fill="#333"/>
<text x="1149.1" y="1921.1" font-size="20.5" textLength="39.4" lengthAdjust="spacingAndGlyphs" fill="#4d4d4d" stroke="#4d4d4d">0.20</text>
<text x="1128.8" y="1993.6" font-size="20.5" text-anchor="middle" textLength="120.8" lengthAdjust="spacingAndGlyphs" transform="rotate(-90 1128.8 1993.6)">Prop. of cells</text>
<path d="M1214.9 2061.8H1225.7V2048.1H1227.0V2061.8H1228.3V2048.1H1229.0V2061.8H1242.3V2048.1H1243.6V2061.8H1244.9V2048.1H1246.2V2061.8H1247.5V2048.1H1248.8V2061.8H1265.5V2048.1H1266.8V2061.8H1268.1V2048.1H1269.4V2061.8H1270.7V2048.1H1271.3V2061.8H1275.4V2048.1H1277.9V2034.4H1282.9V2048.1H1296.6V2061.8H1297.9V2048.1H1299.2V2061.8H1299.5V2034.4H1300.8V2048.1H1302.1V2034.4H1303.4V2048.1H1304.7V2034.4H1305.3V2048.1H1310.2V2020.7H1311.5V2034.4H1312.8V2020.7H1314.1V2034.4H1315.2V2048.1H1322.7V2034.4H1326.8V2007.0H1328.5V1993.3H1331.8V2007.0H1334.3V2034.4H1337.6V2048.1H1348.8V2061.8H1349.2V2048.1H1357.1V2061.8H1358.3V2034.4H1364.9V2048.1H1371.6V2034.4H1377.0V2048.1H1387.3V2061.8H1405.5V2048.1H1406.8V2061.8H1408.1V2048.1H1408.9V2061.8H1466.9V2048.1H1468.2V2061.8H1473.5V2048.1H1474.8V2061.8H1476.1V2048.1H1477.4V2061.8H1543.9V2048.1H1552.2V2061.8H1650.0V2034.4H1655.0V2048.1H1660.0V2020.7H1661.3V2034.4H1662.6V2020.7H1663.9V2034.4H1665.4V2048.1H1666.7V2034.4H1668.0V2048.1H1669.3V2034.4H1670.6V2048.1H1671.6V2020.7H1672.9V2034.4H1674.2V2020.7H1675.5V2034.4H1679.0V2048.1H1685.3V2061.8H1686.6V2048.1H1687.3V2061.8H1713.0V2048.1H1714.3V2061.8H1715.6V2048.1H1716.9V2061.8H1718.2V2048.1H1719.6V2061.8H1727.1V2034.4H1728.4V2061.8H1729.7V2034.4H1731.0V2061.8H1731.2V2007.0H1735.4V2034.4H1739.5V2020.7H1740.8V2034.4H1742.1V2020.7H1743.4V2034.4H1743.7V2048.1H1747.8V2061.8H1765.2V2034.4H1769.4V2061.8H1779.3V2020.7H1780.6V2034.4H1781.9V2020.7H1783.2V2034.4H1784.5V2020.7H1785.8V2034.4H1787.1V2020.7H1788.4V2034.4H1789.2V2061.8H1840.6V2048.1H1841.9V2061.8H1843.2V2048.1H1844.5V2061.8H1845.8V2048.1H1847.2V2061.8H1848.9V2034.4H1850.2V2048.1H1851.5V2034.4H1852.8V2048.1H1863.0V2061.8H1887.0V2048.1H1897.4V2061.8H1898.7V2048.1H1900.0V2061.8H1900.3V2034.4H1905.3V2061.8H1917.4V2048.1H1935.6V2061.8H1948.0V2048.1H1949.3V2061.8H1950.0V2048.1H1963.3V2061.8H2028.7V2048.1H2030.0V2061.8H2031.3V2048.1H2032.6V2061.8H2038.7V2048.1H2040.0V2061.8H2041.3V2048.1H2042.0V2061.8H2063.6V2034.4H2068.5V2020.7H2075.6V2061.8H2076.9V2020.7H2078.2V2061.8H2079.5V2020.7H2080.1V2034.4H2083.4V2020.7H2090.1V2034.4H2092.6V2048.1H2095.0V2061.8H2102.1" fill="none" stroke="#7fcbbd" stroke-width="1.5" stroke-opacity=".85" stroke-linejoin="miter"/>
<path d="M1214.9 2061.8H1222.4V2048.1H1231.1V2061.8H1232.4V2048.1H1233.7V2061.8H1234.8V2048.1H1238.1V2061.8H1239.3V2034.4H1242.3V2007.0H1243.6V2020.7H1244.9V2007.0H1246.2V2020.7H1246.4V1979.6H1247.7V2007.0H1250.2V2020.7H1251.5V2007.0H1252.8V2020.7H1254.0V2061.8H1255.5V2034.4H1260.5V2020.7H1262.7V2034.4H1264.0V2048.1H1265.3V2034.4H1266.6V2048.1H1270.4V2007.0H1271.7V2020.7H1273.0V2007.0H1274.3V2020.7H1275.6V2007.0H1276.9V2020.7H1278.2V2007.0H1278.7V2020.7H1281.7V2034.4H1283.0V2020.7H1284.3V2034.4H1285.4V2020.7H1286.7V2034.4H1288.0V2020.7H1289.3V2034.4H1290.6V2020.7H1291.2V2034.4H1292.8V2020.7H1294.1V2034.4H1295.4V2020.7H1296.7V2034.4H1300.3V2020.7H1307.7V2034.4H1317.3V2048.1H1318.6V2034.4H1319.3V2020.7H1320.6V2034.4H1321.9V2020.7H1323.2V2034.4H1324.5V2020.7H1325.8V2034.4H1327.1V2020.7H1328.4V2034.4H1329.7V2020.7H1331.0V2034.4H1331.8V2007.0H1333.1V2020.7H1334.4V2007.0H1335.7V2020.7H1336.7V2034.4H1338.0V2048.1H1339.3V2034.4H1340.6V2048.1H1341.9V2034.4H1343.2V2048.1H1344.5V2034.4H1345.8V2048.1H1348.4V2034.4H1349.7V2048.1H1351.0V2034.4H1352.3V2048.1H1353.6V2034.4H1354.9V2048.1H1356.2V2034.4H1357.5V2048.1H1378.2V2034.4H1379.5V2048.1H1380.8V2034.4H1382.1V2048.1H1389.0V2061.8H1402.2V2048.1H1404.7V2034.4H1406.0V2048.1H1407.3V2034.4H1408.0V2048.1H1416.3V2034.4H1422.1V2048.1H1426.3V2061.8H1447.0V2048.1H1456.1V2034.4H1457.4V2048.1H1458.7V2034.4H1460.0V2048.1H1461.3V2034.4H1462.7V2048.1H1468.5V2020.7H1474.3V2034.4H1475.6V2048.1H1476.9V2034.4H1478.2V2048.1H1479.5V2034.4H1480.1V2048.1H1484.3V2061.8H1485.9V2048.1H1496.7V2061.8H1497.5V2048.1H1501.7V2061.8H1515.7V2048.1H1525.7V2061.8H1533.2V2034.4H1540.6V2048.1H1543.4V2061.8H1544.4V2048.1H1552.7V2061.8H1553.9V2048.1H1558.0V2061.8H1567.1V2048.1H1576.2V2061.8H1611.9V2048.1H1620.2V2061.8H1645.0V2048.1H1646.7V2034.4H1648.0V2048.1H1649.3V2034.4H1650.6V2048.1H1655.0V2034.4H1656.3V2048.1H1657.6V2034.4H1658.9V2048.1H1660.2V2034.4H1661.6V2020.7H1664.1V1993.3H1665.8V1965.9H1667.1V1993.3H1668.4V1965.9H1669.7V1993.3H1670.7V1979.6H1673.2V1993.3H1674.5V2020.7H1675.8V1993.3H1677.1V2020.7H1679.8V2034.4H1681.5V2048.1H1686.5V2034.4H1687.8V2048.1H1689.1V2034.4H1690.4V2048.1H1700.6V2034.4H1705.5V2048.1H1712.2V2020.7H1713.8V2007.0H1715.1V2020.7H1716.4V2007.0H1717.7V2020.7H1719.1V2034.4H1720.4V2048.1H1721.7V2034.4H1723.0V2048.1H1724.3V2034.4H1725.4V2048.1H1727.9V2020.7H1733.4V2048.1H1734.7V2020.7H1735.4V2034.4H1736.7V2048.1H1738.0V2034.4H1739.3V2048.1H1740.6V2034.4H1741.9V2048.1H1743.2V2034.4H1744.5V2048.1H1745.3V2007.0H1746.6V2020.7H1747.9V2007.0H1749.2V2020.7H1749.5V2048.1H1751.9V2061.8H1756.9V2048.1H1760.2V2061.8H1761.1V2048.1H1765.2V2034.4H1766.5V2061.8H1767.8V2034.4H1769.1V2061.8H1770.2V2048.1H1773.5V2061.8H1776.0V2034.4H1781.4V2048.1H1782.7V2034.4H1784.0V2048.1H1785.3V2034.4H1786.6V2048.1H1787.9V2034.4H1789.2V2048.1H1790.1V2020.7H1791.4V2034.4H1792.7V2020.7H1794.0V2034.4H1795.5V2048.1H1796.8V2034.4H1798.1V2048.1H1799.4V2034.4H1801.3V2048.1H1802.6V2034.4H1807.5V2048.1H1813.2V2061.8H1816.5V2048.1H1818.2V2061.8H1835.6V2034.4H1841.4V2048.1H1842.7V2061.8H1844.0V2048.1H1845.3V2061.8H1846.6V2048.1H1847.2V2020.7H1848.4V2007.0H1849.7V2020.7H1851.0V2007.0H1852.2V2020.7H1853.0V2048.1H1865.5V2061.8H1881.2V2048.1H1884.5V2061.8H1887.0V2048.1H1895.3V2020.7H1896.6V2034.4H1897.9V2020.7H1899.2V2034.4H1900.3V2048.1H1904.4V2034.4H1905.7V2048.1H1907.0V2034.4H1908.3V2048.1H1908.6V2061.8H1913.5V2048.1H1916.0V2034.4H1917.3V2048.1H1918.6V2034.4H1919.3V2048.1H1924.3V2034.4H1925.6V2048.1H1926.9V2034.4H1928.2V2048.1H1929.5V2034.4H1930.1V2048.1H1935.1V2020.7H1940.1V2048.1H1943.4V2034.4H1949.2V2061.8H1963.3V2048.1H1966.6V2061.8H1969.9V2048.1H1973.2V2061.8H1976.5V2048.1H1979.8V2061.8H1983.1V2048.1H1986.4V2061.8H2005.5V2048.1H2013.0V2061.8H2024.6V2034.4H2030.0V2048.1H2031.2V2020.7H2033.7V2034.4H2037.0V2048.1H2040.3V2034.4H2046.1V2048.1H2049.4V2061.8H2052.7V2048.1H2056.0V2061.8H2057.7V2034.4H2059.0V2048.1H2060.3V2034.4H2061.6V2048.1H2066.0V2061.8H2069.3V2048.1H2071.0V1993.3H2073.5V1965.9H2075.2V1911.1H2077.1V1965.9H2080.1V1979.6H2081.4V2007.0H2082.7V1979.6H2083.4V2007.0H2084.7V2020.7H2086.0V2007.0H2087.3V2020.7H2088.6V2007.0H2089.2V1993.3H2091.2V1979.6H2093.1V1993.3H2094.4V2020.7H2095.7V1993.3H2095.9V2020.7H2098.9V2061.8H2102.1" fill="none" stroke="#e39a5f" stroke-width="1.5" stroke-opacity=".85" stroke-linejoin="miter"/>
<rect x="1212.4" y="2060.0" width="889.9" height="3.6"/>
<rect x="1212.4" y="2061.8" width="3.6" height="10.3" fill="#333"/>
<text x="1207.1" y="2097.9" font-size="20.5" textLength="10.4" lengthAdjust="spacingAndGlyphs" fill="#4d4d4d" stroke="#4d4d4d">0</text>
<rect x="1440.7" y="2061.8" width="3.6" height="10.3" fill="#333"/>
<text x="1415.0" y="2097.9" font-size="20.5" textLength="46.5" lengthAdjust="spacingAndGlyphs" fill="#4d4d4d" stroke="#4d4d4d">2500</text>
<rect x="1669.0" y="2061.8" width="3.6" height="10.3" fill="#333"/>
<text x="1644.5" y="2097.9" font-size="20.5" textLength="46.5" lengthAdjust="spacingAndGlyphs" fill="#4d4d4d" stroke="#4d4d4d">5000</text>
<rect x="1897.3" y="2061.8" width="3.6" height="10.3" fill="#333"/>
<text x="1868.7" y="2097.9" font-size="20.5" textLength="46.5" lengthAdjust="spacingAndGlyphs" fill="#4d4d4d" stroke="#4d4d4d">7500</text>
<rect x="1477" y="2149.6" width="54" height="1.6" fill="#86c9bd"/>
<text x="1559.0" y="2158.2" font-size="20.5" textLength="75.8" lengthAdjust="spacingAndGlyphs">inferred</text>
<rect x="1668.3" y="2149.6" width="54" height="1.6" fill="#e0a070"/>
<text x="1748.9" y="2158.2" font-size="20.5" textLength="105.6" lengthAdjust="spacingAndGlyphs">sequenced</text>
<rect x="1214.4" y="2188.0" width="58.2" height="12.2"/>
<rect x="2043.9" y="2188.0" width="57.9" height="12.2"/>
<text x="1153.2" y="2201.3" font-size="20.5" textLength="31.4" lengthAdjust="spacingAndGlyphs" fill="#4d4d4d" stroke="#4d4d4d">LTR</text>
<rect x="1286.3" y="2212.5" width="137.5" height="12.2"/>
<text x="1156.8" y="2225.8" font-size="20.5" textLength="35.5" lengthAdjust="spacingAndGlyphs" fill="#4d4d4d" stroke="#4d4d4d">gag</text>
<rect x="1429.5" y="2237.2" width="250.2" height="12.2"/>
<text x="1161.0" y="2250.5" font-size="20.5" textLength="30.4" lengthAdjust="spacingAndGlyphs" fill="#4d4d4d" stroke="#4d4d4d">pol</text>
<rect x="1674.6" y="2261.7" width="52.8" height="12.2"/>
<text x="1172.3" y="2275.0" font-size="20.5" textLength="23.3" lengthAdjust="spacingAndGlyphs" fill="#4d4d4d" stroke="#4d4d4d">vif</text>
<rect x="1722.0" y="2286.3" width="21.8" height="12.2"/>
<text x="1161.0" y="2299.6" font-size="20.5" textLength="31.0" lengthAdjust="spacingAndGlyphs" fill="#4d4d4d" stroke="#4d4d4d">vpr</text>
<rect x="1766.5" y="2314.9" width="212.7" height="4.0" fill="#ccc"/>
<rect x="1747.1" y="2310.8" width="19.4" height="12.2"/>
<rect x="1979.2" y="2310.8" width="25.1" height="12.2"/>
<text x="1168.8" y="2324.1" font-size="20.5" textLength="25.3" lengthAdjust="spacingAndGlyphs" fill="#4d4d4d" stroke="#4d4d4d">tat</text>
<rect x="1766.5" y="2339.5" width="212.7" height="4.0" fill="#ccc"/>
<rect x="1759.6" y="2335.4" width="6.9" height="12.2"/>
<rect x="1979.2" y="2335.4" width="25.1" height="12.2"/>
<text x="1161.0" y="2348.7" font-size="20.5" textLength="29.0" lengthAdjust="spacingAndGlyphs" fill="#4d4d4d" stroke="#4d4d4d">rev</text>
<rect x="1782.9" y="2360.2" width="234.5" height="12.2"/>
<text x="1156.8" y="2373.5" font-size="20.5" textLength="34.6" lengthAdjust="spacingAndGlyphs" fill="#4d4d4d" stroke="#4d4d4d">env</text>
<rect x="2017.4" y="2384.6" width="34.0" height="12.2"/>
<text x="1161.0" y="2397.9" font-size="20.5" textLength="31.0" lengthAdjust="spacingAndGlyphs" fill="#4d4d4d" stroke="#4d4d4d">nef</text>
<text x="1128.8" y="2293.8" font-size="20.5" text-anchor="middle" textLength="109.0" lengthAdjust="spacingAndGlyphs" transform="rotate(-90 1128.8 2293.8)">Annotation</text>
<rect x="1212.4" y="2403.1" width="889.9" height="3.6"/>
<rect x="1212.4" y="2404.9" width="3.6" height="10.3" fill="#333"/>
<text x="1207.1" y="2441.6" font-size="20.5" textLength="10.4" lengthAdjust="spacingAndGlyphs" fill="#4d4d4d" stroke="#4d4d4d">0</text>
<rect x="1440.7" y="2404.9" width="3.6" height="10.3" fill="#333"/>
<text x="1415.0" y="2441.6" font-size="20.5" textLength="46.5" lengthAdjust="spacingAndGlyphs" fill="#4d4d4d" stroke="#4d4d4d">2500</text>
<rect x="1669.0" y="2404.9" width="3.6" height="10.3" fill="#333"/>
<text x="1644.5" y="2441.6" font-size="20.5" textLength="46.5" lengthAdjust="spacingAndGlyphs" fill="#4d4d4d" stroke="#4d4d4d">5000</text>
<rect x="1897.3" y="2404.9" width="3.6" height="10.3" fill="#333"/>
<text x="1868.7" y="2441.6" font-size="20.5" textLength="46.5" lengthAdjust="spacingAndGlyphs" fill="#4d4d4d" stroke="#4d4d4d">7500</text>
<text x="-0.5" y="1130.3" font-size="45">c</text>
<path d="M229 1591h0M214 1545h0M194 1433h0M308 1527h0M136 1584h0M180 1613h0M255 1440h0M370 1528h0M192 1526h0M310 1528h0M309 1513h0M308 1384h0M225 1506h0M278 1511h0M286 1578h0M327 1594h0M183 1573h0M238 1585h0M365 1542h0M316 1435h0M213 1375h0M115 1553h0M330 1539h0M244 1521h0M122 1508h0M287 1572h0M124 1569h0M336 1603h0M166 1556h0M315 1452h0M267 1491h0M339 1513h0M359 1539h0M131 1519h0M275 1503h0M278 1578h0M296 1536h0M159 1500h0M315 1581h0M277 1476h0M325 1477h0M181 1597h0M290 1527h0M317 1512h0M145 1513h0M356 1487h0M187 1491h0M307 1383h0M146 1496h0M184 1608h0M272 1501h0M138 1516h0M210 1648h0M179 1580h0M184 1550h0M130 1575h0M376 1499h0M360 1497h0M184 1484h0M263 1582h0M271 1478h0M242 1672h0M215 1564h0M286 1599h0M337 1549h0M223 1532h0M222 1477h0M197 1612h0M352 1515h0M227 1403h0M312 1557h0M159 1554h0M406 1520h0M174 1515h0M361 1543h0M332 1474h0M197 1533h0M295 1462h0M197 1632h0M161 1561h0M270 1571h0M281 1534h0M249 1497h0M245 1527h0M238 1505h0M112 1560h0M328 1511h0M253 1640h0M359 1528h0M243 1532h0M304 1602h0M338 1498h0M233 1518h0M201 1550h0M151 1601h0M315 1476h0M284 1543h0M192 1535h0M245 1527h0M221 1557h0M340 1470h0M268 1409h0M206 1558h0M168 1616h0M378 1516h0M334 1488h0M319 1558h0M198 1590h0M298 1502h0M275 1427h0M274 1459h0M196 1506h0M234 1585h0M134 1543h0M253 1430h0M205 1590h0M138 1528h0M247 1527h0M335 1515h0M255 1464h0M334 1551h0M219 1495h0M185 1605h0M144 1539h0M245 1421h0M365 1571h0M320 1414h0M186 1555h0M112 1553h0M271 1523h0M340 1475h0M238 1595h0M372 1563h0M337 1544h0M160 1498h0M219 1619h0M208 1521h0M286 1525h0M298 1478h0M291 1510h0M239 1654h0M153 1505h0M269 1523h0M237 1603h0M379 1527h0M338 1530h0M267 1521h0M222 1522h0M113 1572h0M268 1368h0M210 1618h0M167 1559h0M271 1489h0M119 1529h0M250 1564h0M246 1360h0M248 1517h0M220 1486h0M118 1546h0M357 1559h0M192 1592h0M314 1465h0M139 1550h0M193 1608h0M140 1603h0" stroke="#5800b8" stroke-width="7.2" stroke-linecap="round" stroke-opacity=".8" fill="none"/>
<path d="M376 1782h0M424 1704h0M398 1873h0M391 1690h0M383 1783h0M388 1803h0M377 1838h0M389 1814h0M339 1852h0M320 1823h0M399 1875h0M340 1821h0M406 1825h0M479 1706h0M352 1800h0M338 1814h0M386 1794h0M369 1850h0M323 1799h0M386 1817h0M359 1779h0M381 1856h0M376 1817h0M357 1788h0M364 1906h0M360 1779h0M373 1892h0M460 1670h0M359 1857h0M329 1854h0M386 1746h0M355 1770h0M365 1817h0M350 1811h0M327 1836h0M408 1832h0M361 1891h0M364 1812h0M525 1688h0M429 1757h0M402 1691h0M332 1837h0M335 1822h0M325 1794h0M347 1799h0M409 1844h0M359 1847h0M330 1839h0M332 1717h0M464 1720h0M357 1802h0M349 1798h0M354 1825h0M332 1770h0M344 1737h0M371 1896h0M400 1847h0M363 1772h0M355 1859h0M360 1823h0M379 1878h0M380 1792h0M390 1886h0M367 1878h0M329 1839h0M405 1858h0M420 1685h0M395 1883h0M404 1879h0M316 1779h0M333 1835h0M361 1788h0M406 1793h0M396 1779h0M369 1773h0M395 1814h0M390 1863h0M383 1739h0M331 1839h0M357 1858h0M377 1806h0M365 1860h0M417 1722h0M343 1773h0M435 1749h0M408 1819h0M350 1769h0M346 1820h0M362 1832h0M400 1783h0M401 1842h0M357 1800h0M374 1790h0M352 1801h0M411 1840h0M355 1744h0M414 1842h0M406 1821h0M331 1778h0M382 1837h0M483 1753h0M379 1891h0M361 1862h0M342 1768h0M489 1719h0M394 1783h0M321 1762h0M400 1861h0M358 1879h0M376 1802h0M385 1900h0M392 1849h0M352 1902h0M334 1823h0M417 1822h0M355 1761h0M320 1791h0M447 1781h0M327 1762h0M360 1787h0M353 1840h0M377 1902h0M434 1748h0M344 1765h0M414 1680h0M387 1779h0M406 1860h0M473 1758h0M326 1833h0M349 1840h0M384 1865h0M341 1869h0M437 1669h0M387 1821h0M427 1719h0M365 1860h0M381 1864h0M418 1692h0M353 1885h0M386 1836h0M396 1702h0M331 1801h0M393 1801h0M379 1750h0M408 1827h0M367 1859h0M414 1695h0M397 1820h0M362 1723h0M476 1756h0M363 1867h0M333 1808h0M351 1894h0M355 1768h0M400 1797h0M338 1787h0M368 1804h0M387 1811h0M352 1788h0M365 1822h0M386 1845h0M336 1859h0M421 1717h0M400 1717h0M397 1874h0M329 1793h0M406 1836h0M467 1765h0M354 1790h0M317 1781h0M392 1674h0M338 1784h0M400 1881h0M370 1810h0M471 1677h0M365 1857h0M469 1760h0M405 1735h0M391 1756h0M323 1837h0" stroke="#1473b4" stroke-width="7.2" stroke-linecap="round" stroke-opacity=".8" fill="none"/>
<path d="M216 1242h0M419 1285h0M379 1251h0M275 1231h0M358 1204h0M237 1176h0M356 1221h0M238 1289h0M261 1257h0M454 1250h0M421 1284h0M456 1279h0M235 1207h0M248 1309h0M288 1202h0M350 1269h0M390 1281h0M292 1157h0M266 1252h0M217 1253h0M239 1247h0M294 1310h0M322 1289h0M246 1268h0M322 1271h0M371 1258h0M373 1243h0M340 1356h0M370 1256h0M244 1182h0M400 1291h0M435 1204h0M320 1273h0M242 1299h0M368 1202h0M342 1229h0M334 1268h0M256 1287h0M428 1223h0M287 1234h0M389 1246h0M278 1369h0M328 1267h0M337 1262h0M323 1238h0M280 1171h0M371 1178h0M300 1193h0M261 1314h0M315 1330h0M242 1293h0M236 1274h0M387 1312h0M236 1196h0M365 1217h0M408 1346h0M441 1227h0M300 1234h0M348 1292h0M284 1317h0M422 1219h0M394 1318h0M245 1284h0M412 1186h0M318 1229h0M258 1232h0M407 1328h0M305 1162h0M282 1285h0M287 1161h0M391 1270h0M302 1305h0M315 1333h0M291 1192h0M271 1283h0M360 1194h0M241 1193h0M377 1188h0M327 1301h0M371 1255h0M304 1256h0M411 1304h0M426 1201h0M359 1271h0M448 1253h0M271 1252h0M264 1310h0M376 1220h0M244 1380h0M408 1235h0M295 1251h0M418 1181h0M390 1301h0M441 1276h0M315 1298h0M325 1307h0M256 1243h0M407 1267h0M243 1385h0M404 1195h0M433 1205h0M298 1168h0M212 1231h0M289 1267h0M379 1263h0M232 1235h0M239 1215h0M403 1277h0M263 1302h0M324 1277h0M415 1281h0M414 1240h0M320 1267h0M338 1239h0M238 1272h0M329 1311h0M334 1224h0M288 1303h0M252 1263h0M383 1278h0M284 1185h0M285 1303h0M253 1237h0M232 1186h0M447 1263h0M444 1259h0M446 1276h0M374 1227h0M295 1212h0M251 1197h0M385 1222h0M432 1204h0M340 1245h0M235 1246h0M310 1307h0M232 1328h0M306 1205h0M334 1249h0M406 1234h0M265 1284h0M314 1237h0M227 1187h0M383 1254h0M340 1218h0M236 1261h0M214 1254h0M300 1273h0M424 1255h0M262 1341h0M345 1230h0M438 1262h0M374 1274h0M382 1304h0M381 1247h0M291 1356h0M413 1263h0M222 1215h0M304 1339h0M290 1166h0M244 1232h0M391 1178h0M297 1184h0M296 1323h0M329 1298h0M244 1270h0M275 1348h0" stroke="#8db54b" stroke-width="7.2" stroke-linecap="round" stroke-opacity=".8" fill="none"/>
<path d="M363 1712h0M371 1746h0M459 1715h0M349 1862h0M383 1807h0M380 1846h0M343 1781h0M377 1788h0M351 1780h0M363 1692h0M479 1755h0M328 1782h0M450 1654h0M382 1766h0M344 1840h0M336 1784h0M392 1814h0M356 1766h0M400 1855h0M335 1764h0M360 1782h0M363 1859h0M336 1758h0M401 1883h0M376 1783h0M474 1724h0M376 1754h0M401 1799h0M408 1860h0M424 1789h0M331 1836h0M342 1816h0M322 1815h0M452 1663h0M412 1859h0M362 1896h0M385 1837h0M400 1858h0M478 1661h0M404 1862h0M385 1817h0M344 1880h0M360 1824h0M333 1826h0M386 1858h0M366 1798h0M328 1850h0M374 1765h0M360 1792h0M330 1854h0M371 1796h0M343 1844h0M421 1717h0M343 1879h0M343 1789h0M382 1807h0M454 1718h0M400 1790h0M385 1778h0M366 1811h0M357 1850h0M363 1869h0M343 1813h0M334 1770h0M383 1711h0M343 1800h0M331 1752h0M402 1832h0M411 1834h0M332 1852h0M485 1655h0M397 1791h0M453 1761h0M395 1719h0M401 1836h0M450 1740h0M373 1895h0M393 1831h0M367 1841h0M330 1810h0M341 1811h0M502 1729h0M354 1832h0M368 1920h0M487 1673h0M345 1822h0M357 1911h0M378 1912h0M361 1877h0M451 1738h0M388 1900h0M451 1689h0M371 1839h0M393 1863h0M370 1852h0M387 1846h0M337 1854h0M347 1792h0M433 1753h0M382 1892h0M390 1841h0M388 1767h0M398 1866h0M392 1764h0M347 1766h0M358 1836h0M491 1686h0M337 1808h0M324 1827h0M478 1648h0M515 1709h0M375 1815h0M362 1860h0M323 1806h0M460 1768h0M388 1892h0M389 1861h0M360 1774h0M377 1863h0M471 1701h0M308 1762h0M412 1791h0M366 1841h0M321 1807h0M503 1708h0M360 1711h0M364 1872h0M389 1708h0M402 1814h0M368 1836h0M356 1803h0M327 1735h0M475 1671h0M334 1796h0M404 1851h0M365 1882h0M349 1882h0M315 1786h0M350 1825h0M348 1872h0M332 1791h0M347 1793h0M362 1730h0M353 1767h0M387 1876h0M393 1825h0M346 1847h0M399 1833h0M321 1779h0M363 1813h0M431 1789h0M397 1804h0M346 1778h0M394 1869h0M381 1804h0M380 1879h0M405 1860h0M363 1870h0M350 1859h0M334 1730h0M431 1785h0M367 1771h0M392 1804h0M481 1688h0M390 1851h0M496 1687h0M320 1775h0M447 1784h0M365 1790h0M457 1681h0M335 1853h0M364 1771h0M409 1789h0M342 1783h0M348 1840h0M340 1780h0M360 1868h0M338 1768h0M451 1651h0" stroke="#1473b4" stroke-width="7.2" stroke-linecap="round" stroke-opacity=".8" fill="none"/>
<path d="M294 1663h0M432 1571h0M427 1771h0M331 1592h0M376 1707h0M373 1564h0M452 1619h0M467 1699h0M440 1654h0M482 1716h0M568 1630h0M252 1628h0M464 1606h0M308 1757h0M556 1589h0M410 1736h0M298 1595h0M508 1637h0M354 1616h0M369 1770h0M374 1600h0M367 1633h0M339 1674h0M297 1680h0M346 1634h0M339 1585h0M443 1609h0M508 1640h0M372 1779h0M550 1668h0M524 1629h0M525 1678h0M426 1701h0M457 1601h0M360 1702h0M403 1634h0M542 1624h0M328 1588h0M497 1569h0M420 1627h0M368 1587h0M356 1580h0M346 1671h0M579 1654h0M263 1659h0M443 1634h0M397 1723h0M469 1741h0M331 1640h0M341 1716h0M314 1642h0M561 1656h0M323 1640h0M445 1766h0M533 1674h0M287 1612h0M339 1738h0M491 1562h0M430 1715h0M441 1592h0M486 1617h0M489 1620h0M437 1682h0M465 1606h0M383 1664h0M586 1644h0M531 1611h0M353 1710h0M347 1684h0M309 1731h0M290 1656h0M316 1717h0M542 1643h0M359 1586h0M462 1575h0M417 1565h0M316 1615h0M300 1603h0M372 1717h0M316 1594h0M349 1684h0M277 1635h0M437 1576h0M324 1714h0M283 1714h0M377 1748h0M407 1625h0M307 1695h0M374 1743h0M415 1581h0M488 1674h0M369 1697h0M474 1663h0M337 1746h0M396 1626h0M420 1658h0M368 1734h0M411 1617h0M447 1603h0M523 1651h0M415 1590h0M534 1633h0M431 1715h0M546 1621h0M401 1689h0M394 1742h0M433 1693h0M566 1632h0M281 1662h0M565 1613h0M364 1730h0M454 1615h0M480 1735h0M471 1629h0M403 1580h0M405 1607h0M347 1715h0M296 1680h0M257 1621h0M499 1618h0M416 1778h0M371 1669h0M407 1787h0M549 1620h0M522 1565h0M458 1704h0M362 1670h0M303 1627h0M371 1604h0M315 1602h0M405 1651h0M278 1729h0M373 1674h0M417 1624h0M474 1692h0M285 1656h0M425 1587h0M401 1723h0M392 1619h0M310 1613h0M335 1624h0M426 1591h0M318 1684h0M420 1657h0M323 1591h0M392 1650h0M349 1676h0M339 1586h0M448 1561h0M327 1715h0M433 1610h0M381 1688h0M325 1698h0M447 1657h0M545 1641h0M322 1671h0M450 1644h0M330 1764h0M268 1699h0M309 1685h0M401 1633h0M507 1653h0M375 1700h0M357 1649h0M490 1590h0" stroke="#0d8af5" stroke-width="7.2" stroke-linecap="round" stroke-opacity=".8" fill="none"/>
<path d="M263 1573h0M181 1527h0M128 1557h0M258 1540h0M219 1542h0M249 1503h0M348 1565h0M152 1532h0M312 1487h0M315 1500h0M164 1481h0M170 1579h0M319 1581h0M218 1440h0M204 1521h0M129 1505h0M273 1517h0M202 1521h0M190 1608h0M191 1481h0M316 1402h0M287 1528h0M209 1480h0M148 1560h0M357 1484h0M207 1502h0M149 1591h0M226 1582h0M231 1613h0M346 1478h0M147 1513h0M310 1550h0M235 1585h0M276 1423h0M255 1591h0M225 1633h0M119 1547h0M163 1585h0M141 1585h0M271 1519h0M210 1410h0M317 1523h0M331 1471h0M234 1497h0M204 1597h0M213 1626h0M231 1587h0M328 1555h0M281 1522h0M321 1483h0M289 1467h0M260 1537h0M147 1555h0M237 1623h0M213 1549h0M154 1575h0M327 1553h0M348 1497h0M242 1597h0M308 1537h0M237 1501h0M140 1593h0M215 1618h0M120 1565h0M285 1537h0M213 1492h0M337 1478h0M321 1527h0M395 1539h0M219 1565h0M338 1510h0M339 1489h0M215 1519h0M249 1399h0M240 1528h0M229 1430h0M180 1515h0M146 1506h0M118 1576h0M282 1493h0M268 1433h0M329 1460h0M215 1521h0M215 1599h0M169 1489h0M336 1572h0M310 1393h0M199 1586h0M253 1533h0M245 1463h0M248 1455h0M186 1541h0M200 1492h0M242 1465h0M210 1477h0M363 1528h0M229 1560h0M212 1597h0M142 1577h0M158 1537h0M222 1596h0M261 1576h0M339 1470h0M237 1510h0M234 1615h0M205 1609h0M209 1404h0M302 1469h0M275 1590h0M214 1496h0M218 1585h0M194 1541h0M351 1602h0M363 1539h0M257 1519h0M267 1506h0M234 1588h0M289 1467h0M150 1561h0M244 1577h0M185 1514h0M245 1533h0M347 1537h0M340 1504h0M240 1613h0M170 1571h0M203 1573h0M392 1506h0M291 1467h0M229 1573h0M144 1528h0M253 1631h0M134 1578h0M240 1561h0M197 1490h0M219 1552h0M119 1545h0M190 1581h0M211 1458h0M352 1587h0M230 1489h0M175 1478h0M277 1506h0M239 1509h0M254 1438h0M308 1489h0M350 1570h0M162 1561h0M189 1479h0M202 1591h0M253 1513h0M150 1501h0M295 1575h0M151 1589h0M373 1530h0M274 1385h0M237 1532h0M322 1486h0M190 1573h0M372 1507h0M171 1599h0M203 1583h0M113 1542h0M162 1493h0M183 1517h0" stroke="#5800b8" stroke-width="7.2" stroke-linecap="round" stroke-opacity=".8" fill="none"/>
<path d="M1020 1808h0M997 1769h0M1006 1820h0M962 1767h0M962 1747h0M1007 1803h0M1021 1799h0M1018 1811h0M996 1779h0M963 1821h0M970 1828h0M994 1763h0M991 1763h0M1016 1816h0M948 1726h0M994 1763h0M1019 1801h0M1018 1813h0M976 1808h0M948 1732h0M1011 1786h0M1004 1775h0M978 1836h0M1008 1834h0M993 1775h0M1005 1783h0M1016 1826h0M1017 1797h0M1007 1798h0M982 1771h0M1021 1815h0M973 1767h0M1001 1785h0M1012 1821h0M942 1733h0M979 1829h0M1022 1830h0M1014 1821h0M989 1772h0M1023 1804h0M1019 1822h0M962 1766h0M986 1759h0M987 1758h0M1000 1779h0M973 1761h0M943 1724h0M991 1769h0M967 1770h0M999 1793h0M996 1772h0M963 1752h0M935 1720h0M934 1720h0M1015 1787h0M1009 1778h0M978 1830h0M955 1782h0M997 1778h0M990 1776h0M979 1754h0M1016 1807h0M1017 1793h0M953 1742h0M996 1766h0M983 1758h0M935 1738h0M941 1725h0M980 1836h0M996 1795h0M972 1760h0M1016 1811h0M949 1730h0M930 1720h0M963 1830h0M1023 1820h0M1012 1813h0M980 1749h0M995 1769h0M978 1826h0M953 1734h0M959 1743h0M940 1722h0M1009 1832h0M961 1766h0M980 1824h0M1014 1802h0M1000 1782h0M974 1840h0M948 1729h0M959 1754h0M980 1774h0M962 1741h0M970 1748h0M1013 1824h0M1009 1807h0M1023 1817h0M979 1752h0M987 1756h0M960 1743h0M997 1781h0M1013 1788h0M954 1733h0M964 1757h0M1013 1803h0M982 1828h0M1001 1786h0M996 1791h0M1013 1837h0M995 1767h0M959 1775h0M1010 1802h0M999 1783h0M947 1741h0M1020 1812h0M1009 1824h0M978 1765h0M1011 1801h0M988 1767h0M1025 1833h0M957 1746h0M966 1839h0M971 1823h0M980 1827h0M979 1828h0M970 1799h0M977 1756h0M952 1731h0M998 1772h0M980 1775h0M963 1754h0M997 1787h0M992 1791h0" stroke="#3228a0" stroke-width="7.2" stroke-linecap="round" stroke-opacity=".8" fill="none"/>
<path d="M448 1472h0M322 1423h0M445 1511h0M424 1466h0M405 1417h0M456 1479h0M476 1469h0M369 1434h0M461 1493h0M311 1393h0M455 1449h0M361 1393h0M300 1329h0M391 1466h0M392 1475h0M359 1342h0M470 1504h0M389 1349h0M408 1483h0M409 1464h0M360 1412h0M433 1468h0M394 1438h0M443 1515h0M452 1501h0M476 1488h0M369 1400h0M428 1496h0M452 1493h0M391 1399h0M370 1340h0M468 1428h0M407 1454h0M374 1412h0M382 1431h0M452 1457h0M390 1452h0M344 1427h0M413 1455h0M296 1358h0M442 1486h0M433 1484h0M477 1504h0M478 1438h0M464 1503h0M401 1458h0M488 1455h0M405 1479h0M417 1484h0M442 1448h0M345 1424h0M332 1431h0M449 1484h0M474 1462h0M464 1441h0M365 1427h0M360 1390h0M377 1403h0M460 1500h0M391 1444h0M378 1463h0M354 1431h0M334 1413h0M332 1424h0M368 1448h0M384 1419h0M435 1499h0M432 1438h0M428 1441h0M411 1447h0M351 1427h0M431 1464h0M378 1395h0M457 1476h0M408 1423h0M450 1484h0M447 1467h0M407 1427h0M316 1393h0M389 1428h0M400 1413h0M317 1419h0M319 1432h0M420 1496h0M438 1439h0M378 1400h0M346 1417h0M328 1385h0M386 1456h0M400 1371h0M407 1489h0M400 1460h0M366 1431h0M415 1436h0M401 1404h0M341 1379h0M342 1404h0M375 1440h0M348 1435h0M351 1396h0M477 1476h0M333 1421h0M332 1413h0M353 1393h0M341 1433h0M448 1430h0M382 1418h0M365 1416h0M392 1487h0M469 1452h0M407 1431h0M456 1506h0M358 1425h0M386 1491h0M366 1477h0M354 1408h0M313 1395h0M339 1435h0M370 1481h0M452 1435h0M318 1425h0M422 1488h0M362 1413h0M357 1382h0M403 1473h0M326 1380h0M334 1418h0M404 1445h0M419 1421h0M450 1459h0M333 1350h0M444 1502h0M460 1481h0M363 1344h0M457 1461h0M483 1439h0M350 1445h0M364 1420h0M436 1484h0M390 1442h0M446 1422h0M322 1358h0M406 1476h0M412 1476h0M457 1460h0M343 1442h0M426 1493h0M374 1457h0M455 1501h0M437 1506h0M466 1452h0M478 1470h0M397 1407h0M328 1378h0M334 1374h0M448 1468h0M453 1446h0M418 1472h0M341 1399h0M449 1468h0M431 1472h0M405 1469h0M355 1460h0M359 1430h0M324 1408h0M429 1514h0M336 1398h0M298 1351h0M451 1459h0M317 1418h0M395 1456h0" stroke="#9966ff" stroke-width="7.2" stroke-linecap="round" stroke-opacity=".8" fill="none"/>
<path d="M239 1509h0M162 1592h0M123 1527h0M253 1521h0M280 1507h0M258 1541h0M319 1532h0M247 1588h0M252 1476h0M189 1611h0M242 1583h0M184 1620h0M179 1593h0M274 1513h0M146 1517h0M314 1520h0M310 1525h0M171 1514h0M348 1506h0M185 1523h0M150 1549h0M237 1394h0M192 1566h0M199 1561h0M133 1515h0M244 1496h0M258 1458h0M296 1387h0M304 1476h0M194 1525h0M216 1549h0M142 1498h0M276 1521h0M250 1504h0M372 1516h0M175 1592h0M134 1497h0M235 1507h0M195 1630h0M161 1584h0M177 1530h0M218 1487h0M212 1625h0M213 1424h0M186 1522h0M314 1494h0M151 1527h0M325 1482h0M223 1592h0M331 1566h0M381 1508h0M193 1532h0M277 1513h0M331 1478h0M209 1596h0M160 1596h0M137 1550h0M188 1611h0M276 1385h0M250 1502h0M336 1517h0M232 1504h0M239 1487h0M253 1489h0M267 1387h0M345 1575h0M325 1485h0M339 1568h0M250 1499h0M209 1445h0M198 1535h0M230 1498h0M326 1493h0M160 1546h0M196 1481h0M289 1546h0M153 1495h0M234 1491h0M224 1535h0M215 1500h0M148 1543h0M325 1506h0M215 1497h0M163 1517h0M205 1531h0M273 1500h0M213 1390h0M310 1473h0M221 1573h0M192 1575h0M277 1510h0M369 1488h0M155 1501h0M195 1569h0M194 1549h0M184 1514h0M263 1510h0M204 1504h0M377 1514h0M269 1412h0M201 1581h0M240 1509h0M203 1520h0M364 1496h0M368 1527h0M176 1617h0M266 1412h0M307 1532h0M318 1486h0M155 1558h0M318 1546h0M151 1582h0M359 1523h0M236 1430h0M246 1362h0M326 1494h0M270 1485h0M155 1578h0M179 1485h0M253 1559h0M258 1561h0M164 1580h0M148 1567h0M277 1587h0M155 1508h0M319 1498h0M217 1623h0M352 1495h0M335 1561h0M242 1552h0M167 1605h0M226 1500h0M273 1553h0M271 1385h0M295 1501h0M347 1507h0M178 1620h0M160 1560h0M214 1591h0M292 1476h0M274 1503h0M302 1532h0M212 1585h0M125 1522h0M221 1522h0M311 1382h0M132 1568h0M342 1522h0M229 1547h0M217 1664h0M304 1571h0M307 1519h0M269 1567h0M190 1523h0M248 1551h0M312 1461h0M127 1579h0M238 1638h0M114 1555h0M176 1554h0M249 1564h0M254 1524h0M254 1536h0M351 1585h0" stroke="#5800b8" stroke-width="7.2" stroke-linecap="round" stroke-opacity=".8" fill="none"/>
<path d="M262 1668h0M530 1685h0M448 1563h0M375 1722h0M303 1661h0M258 1661h0M525 1650h0M447 1611h0M482 1743h0M389 1630h0M536 1585h0M413 1574h0M461 1754h0M410 1616h0M350 1630h0M356 1643h0M529 1570h0M409 1560h0M372 1605h0M270 1624h0M526 1595h0M275 1645h0M350 1746h0M440 1669h0M421 1722h0M406 1609h0M533 1619h0M529 1638h0M526 1578h0M421 1718h0M520 1673h0M469 1627h0M451 1764h0M356 1592h0M434 1749h0M427 1687h0M268 1702h0M420 1593h0M294 1652h0M456 1564h0M278 1679h0M522 1610h0M509 1582h0M261 1628h0M500 1601h0M338 1704h0M377 1692h0M475 1573h0M386 1695h0M467 1643h0M518 1647h0M461 1565h0M357 1694h0M468 1651h0M332 1766h0M354 1731h0M346 1598h0M377 1708h0M537 1620h0M425 1683h0M398 1717h0M467 1537h0M492 1657h0M311 1656h0M352 1612h0M421 1667h0M243 1648h0M352 1599h0M442 1642h0M392 1554h0M387 1599h0M504 1647h0M303 1602h0M563 1679h0M392 1705h0M510 1585h0M377 1728h0M259 1673h0M279 1669h0M284 1693h0M496 1660h0M283 1709h0M377 1716h0M325 1698h0M444 1573h0M564 1618h0M487 1640h0M386 1742h0M546 1553h0M558 1660h0M501 1650h0M517 1639h0M463 1582h0M295 1637h0M515 1626h0M537 1593h0M500 1634h0M343 1745h0M440 1671h0M468 1718h0M375 1756h0M302 1617h0M513 1564h0M380 1586h0M355 1633h0M370 1638h0M467 1602h0M484 1623h0M380 1595h0M483 1524h0M404 1775h0M500 1640h0M329 1592h0M455 1571h0M537 1683h0M309 1611h0M379 1732h0M542 1565h0M297 1651h0M292 1728h0M456 1650h0M581 1654h0M523 1688h0M433 1558h0M410 1658h0M423 1714h0M508 1567h0M535 1603h0M324 1684h0M433 1619h0M472 1694h0M472 1644h0M270 1620h0M273 1691h0M395 1584h0M310 1605h0M458 1667h0M346 1660h0M380 1726h0M337 1707h0M354 1662h0M358 1603h0M448 1648h0M444 1661h0M476 1610h0M451 1723h0M460 1600h0M353 1584h0M490 1636h0M435 1605h0M242 1632h0M317 1651h0M433 1765h0M471 1609h0M522 1597h0M264 1692h0M456 1597h0M400 1662h0M457 1730h0M481 1725h0M414 1671h0M339 1689h0M482 1662h0M343 1686h0M528 1629h0M366 1681h0" stroke="#0d8af5" stroke-width="7.2" stroke-linecap="round" stroke-opacity=".8" fill="none"/>
<path d="M282 1686h0M476 1731h0M401 1654h0M310 1587h0M341 1731h0M268 1621h0M443 1672h0M439 1567h0M490 1612h0M394 1579h0M360 1651h0M402 1572h0M472 1593h0M303 1599h0M347 1599h0M475 1634h0M368 1637h0M448 1597h0M450 1600h0M414 1727h0M388 1611h0M415 1605h0M421 1780h0M419 1599h0M598 1612h0M476 1578h0M432 1696h0M460 1757h0M393 1595h0M511 1688h0M527 1566h0M483 1678h0M469 1704h0M575 1598h0M422 1655h0M406 1600h0M535 1578h0M584 1591h0M440 1633h0M535 1571h0M401 1744h0M535 1635h0M407 1606h0M424 1641h0M494 1673h0M556 1591h0M377 1569h0M392 1563h0M468 1654h0M469 1623h0M400 1642h0M533 1574h0M380 1646h0M405 1715h0M373 1629h0M412 1582h0M392 1620h0M402 1712h0M516 1628h0M396 1788h0M287 1686h0M447 1571h0M520 1572h0M329 1592h0M495 1615h0M271 1616h0M470 1673h0M405 1595h0M263 1637h0M332 1744h0M408 1572h0M409 1638h0M302 1697h0M463 1662h0M375 1753h0M424 1598h0M384 1757h0M350 1663h0M252 1677h0M415 1649h0M512 1615h0M468 1592h0M398 1559h0M429 1750h0M519 1593h0M378 1648h0M384 1588h0M499 1640h0M372 1726h0M337 1679h0M303 1621h0M324 1667h0M404 1655h0M564 1627h0M487 1566h0M455 1646h0M464 1765h0M388 1750h0M468 1688h0M539 1603h0M413 1635h0M285 1627h0M318 1633h0M507 1631h0M431 1577h0M350 1716h0M336 1622h0M296 1727h0M428 1684h0M537 1642h0M353 1597h0M560 1654h0M429 1643h0M367 1625h0M523 1550h0M462 1677h0M345 1595h0M348 1717h0M411 1605h0M386 1614h0M412 1706h0M259 1616h0M558 1584h0M379 1683h0M351 1603h0M326 1708h0M558 1617h0M470 1640h0M381 1741h0M442 1623h0M465 1693h0M515 1605h0M314 1616h0M500 1660h0M340 1601h0M364 1783h0M574 1667h0M415 1612h0M448 1649h0M436 1623h0M402 1698h0M303 1663h0M451 1708h0M410 1730h0M472 1605h0M557 1596h0M270 1630h0M443 1705h0M260 1605h0M377 1754h0M514 1634h0M407 1754h0M362 1620h0M305 1699h0M415 1692h0M572 1628h0M381 1750h0M501 1672h0M504 1578h0M402 1562h0M377 1648h0M426 1604h0M477 1616h0M378 1558h0M324 1640h0" stroke="#0d8af5" stroke-width="7.2" stroke-linecap="round" stroke-opacity=".8" fill="none"/>
<path d="M681 1897h0M599 1898h0M479 1804h0M639 1908h0M695 1868h0M713 1845h0M735 1903h0M619 1885h0M666 1894h0M656 1852h0M676 1896h0M456 1864h0M642 1888h0M676 1887h0M708 1862h0M687 1897h0M648 1896h0M655 1905h0M675 1909h0M694 1860h0M701 1881h0M672 1895h0M536 1759h0M501 1765h0M600 1900h0M687 1867h0M653 1889h0M662 1879h0M657 1904h0M680 1900h0M723 1851h0M643 1884h0M673 1878h0M630 1895h0M681 1914h0M574 1894h0M682 1898h0M628 1882h0M741 1870h0M715 1851h0M673 1877h0M640 1876h0M542 1770h0M646 1893h0M708 1879h0M647 1875h0M656 1892h0M699 1874h0M664 1900h0M560 1889h0M517 1777h0M634 1901h0M514 1764h0M669 1866h0M701 1887h0M724 1874h0M673 1879h0M615 1901h0M625 1901h0M529 1769h0M645 1894h0M547 1759h0M708 1881h0M622 1892h0M694 1862h0M473 1873h0M736 1857h0M638 1876h0M677 1899h0M684 1902h0M654 1903h0M728 1852h0M609 1901h0M685 1896h0M686 1892h0M705 1798h0M661 1877h0M692 1869h0M634 1883h0M701 1869h0M658 1885h0M649 1902h0M708 1898h0M613 1887h0M689 1863h0M689 1909h0M692 1868h0M678 1865h0M705 1886h0M546 1888h0M648 1906h0M703 1894h0M598 1891h0M711 1877h0M645 1872h0M698 1912h0M655 1877h0M664 1887h0M697 1918h0M611 1900h0M604 1895h0M599 1898h0M719 1861h0M663 1890h0M618 1911h0M631 1898h0M658 1892h0M754 1862h0M677 1877h0M655 1889h0M645 1912h0M656 1886h0M671 1868h0M612 1895h0M653 1898h0M634 1891h0M631 1897h0M597 1901h0M691 1874h0M675 1909h0M604 1890h0M657 1882h0M677 1867h0M696 1871h0M666 1881h0M685 1858h0M675 1908h0M689 1860h0M626 1898h0M689 1903h0M630 1887h0M629 1891h0M670 1906h0M679 1910h0M732 1855h0M665 1864h0M700 1865h0M660 1864h0M617 1911h0M984 1820h0M668 1864h0M537 1765h0M712 1859h0M677 1908h0M539 1770h0M670 1885h0M694 1885h0M618 1905h0M584 1900h0M591 1904h0M595 1899h0M623 1901h0M718 1871h0M579 1898h0M688 1885h0M685 1899h0M702 1881h0M500 1888h0M700 1878h0M673 1883h0M736 1852h0M691 1873h0M697 1871h0" stroke="#d214d7" stroke-width="7.2" stroke-linecap="round" stroke-opacity=".8" fill="none"/>
<path d="M314 1270h0M253 1251h0M246 1226h0M279 1294h0M297 1179h0M279 1282h0M446 1227h0M283 1167h0M451 1280h0M346 1328h0M386 1178h0M334 1238h0M432 1254h0M251 1297h0M278 1230h0M237 1243h0M282 1345h0M370 1350h0M355 1284h0M311 1260h0M279 1215h0M263 1237h0M426 1305h0M264 1331h0M214 1241h0M231 1187h0M260 1233h0M421 1188h0M378 1274h0M316 1275h0M222 1229h0M415 1304h0M303 1209h0M231 1339h0M396 1204h0M346 1279h0M406 1304h0M265 1274h0M279 1228h0M275 1390h0M387 1305h0M388 1285h0M221 1280h0M367 1185h0M389 1269h0M249 1168h0M347 1278h0M272 1369h0M239 1191h0M216 1209h0M289 1311h0M381 1287h0M425 1241h0M371 1302h0M281 1314h0M248 1218h0M268 1291h0M235 1277h0M213 1254h0M366 1204h0M439 1233h0M421 1259h0M361 1204h0M428 1270h0M423 1220h0M391 1330h0M421 1234h0M295 1322h0M231 1191h0M355 1290h0M340 1219h0M340 1307h0M234 1263h0M415 1235h0M408 1213h0M408 1226h0M358 1289h0M354 1325h0M241 1247h0M373 1227h0M449 1251h0M365 1284h0M334 1217h0M229 1209h0M386 1327h0M317 1198h0M393 1271h0M317 1189h0M363 1200h0M399 1208h0M456 1264h0M448 1268h0M258 1282h0M362 1223h0M264 1222h0M277 1302h0M420 1224h0M364 1270h0M375 1291h0M455 1277h0M278 1211h0M263 1245h0M344 1265h0M287 1181h0M315 1294h0M330 1285h0M448 1283h0M382 1295h0M404 1236h0M373 1345h0M354 1253h0M262 1287h0M297 1361h0M440 1214h0M264 1235h0M301 1200h0M314 1334h0M250 1282h0M324 1201h0M396 1188h0M381 1226h0M250 1368h0M281 1325h0M360 1192h0M228 1270h0M335 1348h0M259 1207h0M366 1189h0M338 1254h0M310 1223h0M442 1258h0M381 1193h0M372 1280h0M338 1312h0M268 1276h0M438 1205h0M389 1261h0M417 1328h0M417 1244h0M298 1300h0M265 1217h0M440 1231h0M428 1249h0M322 1195h0M344 1237h0M380 1239h0M260 1319h0M225 1224h0M275 1365h0M313 1200h0M403 1222h0M336 1249h0M304 1199h0M229 1266h0M225 1185h0M375 1208h0M358 1238h0M282 1173h0M357 1289h0M295 1342h0M456 1259h0M392 1323h0M260 1184h0M231 1191h0M261 1363h0M400 1328h0" stroke="#8db54b" stroke-width="7.2" stroke-linecap="round" stroke-opacity=".8" fill="none"/>
<path d="M674 1883h0M659 1874h0M669 1896h0M662 1867h0M704 1863h0M678 1873h0M683 1907h0M665 1887h0M674 1895h0M612 1890h0M706 1898h0M708 1894h0M649 1906h0M955 1815h0M569 1893h0M702 1887h0M663 1881h0M762 1850h0M689 1867h0M650 1873h0M666 1906h0M643 1897h0M648 1902h0M489 1768h0M637 1901h0M689 1872h0M686 1879h0M500 1880h0M685 1914h0M666 1867h0M605 1905h0M652 1875h0M663 1882h0M705 1835h0M644 1877h0M670 1897h0M568 1898h0M688 1905h0M692 1897h0M661 1920h0M697 1890h0M702 1884h0M685 1896h0M473 1759h0M616 1897h0M685 1894h0M687 1883h0M593 1892h0M635 1892h0M695 1892h0M723 1869h0M603 1904h0M667 1890h0M673 1909h0M582 1905h0M682 1862h0M652 1886h0M599 1894h0M704 1869h0M708 1903h0M683 1873h0M700 1881h0M661 1877h0M703 1899h0M640 1890h0M670 1870h0M683 1894h0M531 1764h0M707 1901h0M546 1766h0M675 1900h0M661 1901h0M669 1902h0M684 1919h0M736 1849h0M750 1861h0M584 1906h0M672 1909h0M688 1898h0M672 1877h0M703 1879h0M672 1887h0M642 1885h0M663 1883h0M610 1900h0M706 1891h0M677 1867h0M673 1863h0M683 1893h0M737 1855h0M654 1891h0M675 1886h0M573 1898h0M647 1886h0M650 1892h0M618 1898h0M668 1906h0M729 1867h0M721 1867h0M644 1877h0M706 1884h0M680 1886h0M698 1864h0M619 1902h0M656 1884h0M667 1866h0M730 1862h0M675 1892h0M640 1902h0M639 1905h0M601 1901h0M664 1866h0M651 1902h0M658 1899h0M606 1898h0M684 1888h0M676 1897h0M650 1892h0M661 1897h0M693 1875h0M634 1890h0M642 1886h0M606 1909h0M701 1898h0M632 1881h0M668 1882h0M678 1864h0M668 1874h0M582 1892h0M585 1894h0M672 1899h0M737 1855h0M681 1903h0M673 1886h0M568 1893h0M641 1890h0M700 1892h0M701 1875h0M686 1895h0M634 1906h0M591 1912h0M693 1883h0M648 1892h0M699 1876h0M653 1872h0M663 1869h0M688 1869h0M533 1765h0M690 1893h0M696 1880h0M637 1888h0M668 1883h0M710 1881h0M633 1903h0M663 1900h0M682 1892h0M669 1872h0M592 1897h0M682 1904h0M653 1872h0M650 1887h0M755 1852h0M629 1893h0M679 1911h0" stroke="#d214d7" stroke-width="7.2" stroke-linecap="round" stroke-opacity=".8" fill="none"/>
<path d="M178 1454h0M167 1423h0M290 1576h0M302 1592h0M152 1419h0M160 1446h0M201 1451h0M156 1438h0M340 1578h0M184 1456h0M138 1438h0M272 1558h0M302 1585h0M340 1570h0M266 1537h0M304 1574h0M292 1545h0M327 1539h0M166 1456h0M321 1601h0M165 1424h0M145 1446h0M160 1463h0M205 1431h0M335 1539h0M199 1434h0M144 1432h0M174 1449h0M200 1447h0M335 1530h0M196 1455h0M339 1554h0M308 1575h0M172 1419h0M194 1460h0M273 1564h0M370 1525h0M202 1435h0M180 1444h0M258 1583h0M319 1580h0M316 1603h0M153 1428h0M154 1457h0M167 1411h0M169 1451h0M307 1538h0M153 1438h0M174 1434h0M362 1520h0M152 1418h0M262 1559h0M341 1586h0M208 1437h0M212 1435h0M201 1427h0M279 1576h0M341 1547h0M287 1580h0M195 1445h0M331 1599h0M204 1448h0M159 1447h0M362 1574h0M181 1429h0M174 1449h0M326 1536h0M155 1463h0M158 1456h0M293 1588h0M325 1557h0M302 1575h0M285 1582h0M359 1524h0M198 1450h0M176 1423h0M202 1449h0M191 1454h0M164 1431h0M164 1449h0M299 1574h0M315 1574h0M198 1460h0M138 1440h0M195 1437h0M327 1511h0M156 1417h0M175 1430h0M290 1584h0M379 1559h0M300 1558h0M209 1429h0M208 1434h0M337 1524h0M192 1426h0M285 1521h0M206 1429h0M311 1541h0M195 1438h0M287 1593h0M175 1452h0M194 1420h0M158 1457h0M158 1413h0M294 1567h0M205 1438h0M203 1438h0M190 1459h0M207 1439h0M207 1441h0M178 1419h0M195 1438h0M176 1438h0M281 1516h0M146 1424h0M155 1441h0M310 1584h0M376 1542h0" stroke="#f0930a" stroke-width="7.2" stroke-linecap="round" stroke-opacity=".8" fill="none"/>
<path d="M425 1612h0M436 1746h0M366 1636h0M425 1575h0M480 1667h0M391 1721h0M291 1697h0M599 1617h0M408 1596h0M411 1599h0M466 1700h0M368 1568h0M447 1646h0M400 1664h0M365 1586h0M515 1567h0M396 1593h0M453 1585h0M354 1645h0M391 1638h0M325 1630h0M380 1688h0M328 1619h0M243 1645h0M424 1786h0M294 1627h0M355 1776h0M507 1602h0M280 1626h0M584 1642h0M364 1774h0M274 1670h0M449 1646h0M573 1616h0M455 1731h0M459 1580h0M482 1575h0M379 1603h0M368 1567h0M396 1740h0M378 1624h0M508 1669h0M528 1598h0M500 1636h0M344 1721h0M362 1712h0M452 1759h0M320 1702h0M574 1648h0M373 1629h0M323 1732h0M407 1652h0M543 1577h0M430 1611h0M467 1581h0M376 1772h0M417 1609h0M340 1593h0M399 1698h0M391 1563h0M459 1661h0M417 1732h0M522 1652h0M332 1698h0M325 1702h0M317 1756h0M319 1719h0M266 1700h0M462 1582h0M403 1730h0M296 1649h0M444 1556h0M485 1577h0M394 1621h0M353 1734h0M525 1556h0M300 1640h0M281 1700h0M426 1679h0M366 1755h0M332 1627h0M572 1642h0M254 1651h0M428 1792h0M453 1731h0M431 1755h0M592 1601h0M358 1647h0M447 1630h0M392 1784h0M441 1610h0M347 1705h0M425 1711h0M257 1643h0M379 1624h0M390 1735h0M304 1723h0M420 1694h0M428 1723h0M285 1680h0M424 1571h0M532 1668h0M256 1642h0M367 1699h0M239 1630h0M493 1629h0M370 1734h0M448 1785h0M305 1594h0M461 1569h0M484 1735h0M461 1624h0M516 1580h0M419 1779h0M479 1675h0M417 1693h0M382 1756h0M380 1601h0M373 1637h0M314 1718h0M276 1720h0M287 1710h0M354 1588h0M271 1644h0M313 1654h0M436 1633h0M455 1574h0M382 1620h0M289 1672h0M468 1586h0M343 1603h0M390 1731h0M370 1575h0M533 1611h0M309 1588h0M382 1713h0M292 1667h0M558 1661h0M530 1639h0M559 1584h0M318 1590h0M514 1687h0M318 1704h0M543 1588h0M328 1682h0M324 1681h0M367 1771h0M279 1704h0M317 1718h0M312 1733h0M404 1664h0M320 1612h0M336 1695h0M271 1682h0M504 1567h0M482 1586h0M286 1659h0M319 1591h0M254 1688h0M446 1768h0M338 1593h0M494 1691h0M355 1654h0M455 1756h0M498 1701h0" stroke="#0d8af5" stroke-width="7.2" stroke-linecap="round" stroke-opacity=".8" fill="none"/>
<path d="M636 1909h0M698 1868h0M646 1877h0M615 1892h0M702 1861h0M737 1873h0M688 1904h0M621 1887h0M679 1901h0M693 1905h0M659 1912h0M625 1889h0M719 1856h0M690 1894h0M559 1890h0M583 1893h0M665 1869h0M694 1872h0M702 1890h0M740 1857h0M535 1765h0M607 1899h0M700 1879h0M670 1900h0M688 1891h0M670 1902h0M699 1878h0M680 1883h0M701 1880h0M634 1902h0M661 1874h0M667 1900h0M707 1878h0M689 1900h0M684 1898h0M682 1859h0M692 1874h0M690 1900h0M582 1903h0M659 1893h0M685 1909h0M683 1879h0M673 1910h0M689 1890h0M671 1868h0M703 1870h0M678 1914h0M677 1894h0M697 1864h0M699 1886h0M588 1897h0M574 1896h0M705 1893h0M680 1902h0M727 1863h0M703 1878h0M654 1901h0M546 1762h0M640 1893h0M614 1889h0M705 1897h0M697 1867h0M660 1903h0M664 1884h0M677 1875h0M638 1895h0M700 1899h0M646 1889h0M695 1913h0M676 1863h0M639 1896h0M734 1859h0M687 1894h0M672 1897h0M739 1863h0M696 1820h0M721 1848h0M746 1859h0M539 1754h0M694 1905h0M675 1891h0M690 1902h0M688 1866h0M575 1893h0M589 1898h0M706 1903h0M605 1907h0M582 1897h0M618 1896h0M667 1868h0M682 1914h0M741 1854h0M600 1892h0M673 1866h0M601 1900h0M607 1904h0M633 1889h0M578 1892h0M732 1862h0M702 1875h0M694 1872h0M693 1874h0M687 1916h0M659 1916h0M688 1906h0M684 1874h0M603 1895h0M743 1865h0M539 1764h0M680 1891h0M694 1908h0M673 1869h0M574 1893h0M663 1870h0M590 1908h0M544 1760h0M668 1876h0M569 1898h0M688 1887h0M682 1898h0M569 1902h0M506 1862h0M676 1913h0M528 1890h0M638 1895h0M648 1874h0M542 1763h0M677 1894h0M706 1891h0M693 1901h0M691 1886h0M687 1901h0M699 1873h0M695 1890h0M662 1880h0M682 1877h0M660 1880h0M621 1895h0M629 1889h0M676 1910h0M653 1906h0M706 1890h0M656 1876h0M713 1859h0M666 1878h0M572 1895h0M691 1866h0M591 1899h0M671 1864h0M602 1906h0M664 1869h0M707 1889h0M648 1880h0M698 1860h0M537 1762h0M682 1881h0M674 1905h0M737 1865h0M634 1904h0M692 1893h0M752 1854h0M690 1902h0M670 1888h0" stroke="#d214d7" stroke-width="7.2" stroke-linecap="round" stroke-opacity=".8" fill="none"/>
<path d="M175 1567h0M123 1569h0M314 1510h0M149 1505h0M315 1556h0M318 1522h0M309 1529h0M287 1429h0M248 1502h0M246 1506h0M312 1608h0M181 1564h0M352 1526h0M295 1512h0M243 1580h0M287 1541h0M349 1473h0M246 1665h0M127 1514h0M296 1494h0M143 1537h0M202 1634h0M356 1471h0M206 1527h0M368 1585h0M205 1500h0M281 1493h0M288 1486h0M151 1616h0M352 1590h0M192 1541h0M341 1552h0M229 1537h0M207 1436h0M338 1572h0M136 1583h0M175 1595h0M321 1388h0M259 1358h0M200 1555h0M249 1548h0M279 1415h0M320 1524h0M239 1532h0M255 1543h0M308 1532h0M359 1578h0M226 1504h0M353 1474h0M329 1462h0M307 1494h0M213 1544h0M324 1525h0M262 1462h0M241 1574h0M289 1472h0M123 1555h0M168 1544h0M352 1541h0M231 1520h0M276 1524h0M325 1597h0M245 1585h0M287 1501h0M184 1497h0M109 1533h0M169 1556h0M209 1607h0M164 1494h0M176 1525h0M196 1517h0M218 1401h0M263 1528h0M158 1538h0M257 1523h0M225 1521h0M299 1473h0M228 1511h0M370 1494h0M166 1529h0M256 1516h0M194 1539h0M300 1442h0M206 1480h0M202 1518h0M312 1503h0M160 1560h0M256 1561h0M357 1506h0M268 1604h0M229 1541h0M366 1520h0M141 1577h0M332 1480h0M255 1527h0M168 1597h0M380 1580h0M179 1496h0M235 1479h0M168 1527h0M231 1550h0M336 1582h0M240 1494h0M247 1514h0M196 1630h0M250 1534h0M231 1546h0M320 1607h0M293 1534h0M203 1584h0M246 1550h0M237 1501h0M224 1518h0M290 1514h0M334 1547h0M165 1521h0M207 1545h0M204 1559h0M317 1543h0M297 1517h0M334 1533h0M234 1522h0M235 1433h0M219 1502h0M294 1370h0M330 1574h0M284 1480h0M119 1548h0M291 1399h0M129 1503h0M225 1523h0M361 1536h0M270 1496h0M281 1514h0M248 1486h0M214 1451h0M209 1578h0M281 1540h0M243 1506h0M331 1494h0M152 1503h0M239 1508h0M279 1582h0M281 1471h0M228 1652h0M230 1570h0M224 1448h0M334 1548h0M249 1565h0M282 1480h0M236 1512h0M139 1534h0M147 1602h0M193 1509h0M252 1545h0M240 1513h0M230 1495h0M327 1474h0M282 1523h0M210 1570h0M304 1589h0M130 1567h0M276 1545h0M239 1462h0" stroke="#5800b8" stroke-width="7.2" stroke-linecap="round" stroke-opacity=".8" fill="none"/>
<path d="M475 1580h0M381 1646h0M385 1629h0M250 1655h0M493 1695h0M266 1682h0M524 1584h0M378 1707h0M492 1575h0M395 1689h0M517 1667h0M493 1528h0M536 1600h0M299 1697h0M544 1580h0M366 1678h0M468 1722h0M283 1640h0M412 1586h0M316 1688h0M339 1697h0M409 1570h0M399 1559h0M452 1729h0M505 1589h0M477 1711h0M515 1609h0M284 1666h0M395 1612h0M283 1702h0M392 1568h0M455 1578h0M308 1596h0M360 1589h0M291 1616h0M486 1569h0M385 1640h0M397 1753h0M495 1631h0M563 1590h0M285 1638h0M524 1623h0M448 1631h0M504 1682h0M279 1693h0M364 1603h0M485 1708h0M484 1670h0M498 1576h0M263 1619h0M573 1574h0M358 1670h0M373 1600h0M346 1720h0M470 1512h0M442 1640h0M414 1768h0M356 1714h0M281 1662h0M444 1672h0M518 1659h0M373 1712h0M247 1639h0M364 1667h0M559 1605h0M459 1696h0M416 1715h0M383 1636h0M307 1710h0M294 1639h0M267 1623h0M267 1671h0M479 1636h0M361 1635h0M358 1777h0M415 1586h0M329 1618h0M301 1665h0M370 1768h0M453 1656h0M506 1629h0M341 1694h0M387 1641h0M442 1601h0M483 1658h0M403 1721h0M264 1693h0M385 1716h0M302 1696h0M508 1586h0M389 1603h0M532 1614h0M518 1621h0M478 1740h0M285 1645h0M347 1704h0M394 1598h0M302 1694h0M432 1588h0M411 1773h0M404 1594h0M276 1684h0M405 1674h0M312 1753h0M428 1565h0M474 1585h0M502 1692h0M411 1586h0M309 1613h0M554 1604h0M469 1656h0M462 1577h0M513 1579h0M428 1673h0M347 1650h0M271 1677h0M315 1618h0M331 1598h0M568 1605h0M503 1645h0M339 1603h0M551 1599h0M545 1669h0M381 1689h0M452 1616h0M325 1731h0M435 1561h0M349 1642h0M358 1709h0M421 1687h0M378 1570h0M433 1709h0M417 1624h0M347 1653h0M396 1731h0M291 1654h0M427 1617h0M463 1686h0M407 1633h0M411 1549h0M540 1610h0M461 1623h0M340 1731h0M409 1622h0M363 1741h0M410 1787h0M521 1569h0M286 1638h0M352 1737h0M557 1631h0M446 1741h0M425 1626h0M278 1691h0M460 1615h0M268 1624h0M359 1618h0M370 1597h0M413 1724h0M500 1660h0M288 1695h0M258 1634h0M361 1612h0M463 1618h0M367 1672h0M521 1567h0" stroke="#0d8af5" stroke-width="7.2" stroke-linecap="round" stroke-opacity=".8" fill="none"/>
<path d="M808 1894h0M802 1899h0M795 1873h0M790 1853h0M777 1904h0M806 1901h0M777 1912h0M791 1868h0M786 1880h0M799 1907h0M806 1884h0M809 1896h0M786 1894h0M783 1896h0M790 1884h0M767 1898h0M799 1913h0M782 1889h0M790 1880h0M804 1896h0M793 1847h0M775 1903h0M806 1909h0M776 1892h0M804 1870h0M773 1892h0M782 1913h0M787 1912h0M792 1857h0M792 1918h0M789 1882h0M801 1906h0M785 1877h0M787 1909h0M773 1892h0M799 1903h0M784 1889h0M782 1913h0M797 1852h0M793 1905h0M772 1903h0M783 1901h0M768 1892h0M801 1867h0M794 1898h0M799 1869h0M782 1885h0M798 1914h0M782 1880h0M788 1875h0M779 1902h0M794 1911h0M806 1889h0M778 1889h0M793 1876h0M789 1845h0M799 1900h0M787 1855h0M807 1881h0M715 1934h0M790 1853h0M796 1899h0M749 1899h0M787 1849h0M767 1900h0M717 1933h0M782 1881h0M778 1904h0M792 1878h0M712 1934h0M784 1872h0M802 1867h0M766 1901h0M777 1865h0M787 1913h0M787 1874h0M798 1917h0M786 1888h0M791 1883h0M788 1915h0M798 1894h0M806 1908h0" stroke="#46af0f" stroke-width="7.2" stroke-linecap="round" stroke-opacity=".8" fill="none"/>
<path d="M378 1273h0M269 1285h0M241 1191h0M410 1255h0M366 1209h0M408 1205h0M379 1250h0M332 1277h0M239 1342h0M259 1207h0M370 1342h0M268 1313h0M449 1276h0M253 1234h0M356 1275h0M334 1274h0M400 1265h0M441 1245h0M296 1361h0M250 1366h0M405 1294h0M345 1255h0M399 1246h0M224 1266h0M419 1267h0M373 1285h0M370 1331h0M235 1333h0M436 1268h0M260 1346h0M366 1324h0M277 1310h0M423 1181h0M310 1208h0M402 1338h0M367 1185h0M297 1310h0M256 1304h0M272 1212h0M311 1242h0M316 1265h0M375 1290h0M321 1196h0M271 1193h0M282 1259h0M275 1254h0M239 1299h0M395 1239h0M448 1244h0M423 1202h0M345 1248h0M457 1270h0M268 1215h0M249 1233h0M357 1354h0M360 1302h0M386 1342h0M308 1169h0M366 1235h0M314 1243h0M246 1192h0M243 1221h0M436 1259h0M444 1214h0M318 1218h0M366 1297h0M391 1180h0M455 1265h0M356 1280h0M250 1219h0M326 1352h0M309 1178h0M387 1211h0M258 1284h0M236 1213h0M307 1188h0M399 1211h0M274 1234h0M266 1269h0M254 1295h0M433 1185h0M248 1336h0M282 1353h0M317 1247h0M371 1314h0M343 1273h0M217 1250h0M355 1253h0M253 1359h0M344 1282h0M396 1213h0M264 1372h0M352 1269h0M408 1226h0M368 1252h0M362 1209h0M369 1204h0M408 1309h0M249 1309h0M361 1257h0M214 1256h0M298 1308h0M454 1284h0M348 1288h0M277 1302h0M345 1241h0M216 1233h0M451 1248h0M299 1261h0M267 1346h0M356 1222h0M363 1298h0M264 1164h0M393 1253h0M311 1304h0M427 1287h0M321 1347h0M339 1287h0M274 1193h0M232 1249h0M428 1239h0M274 1268h0M224 1247h0M361 1332h0M308 1225h0M248 1190h0M337 1271h0M372 1279h0M348 1218h0M430 1240h0M400 1282h0M391 1318h0M265 1194h0M322 1214h0M253 1254h0M218 1277h0M218 1219h0M263 1380h0M267 1362h0M369 1213h0M325 1269h0M452 1266h0M268 1207h0M354 1290h0M331 1288h0M225 1284h0M317 1367h0M244 1275h0M323 1283h0M252 1290h0M241 1247h0M358 1360h0M334 1318h0M336 1242h0M311 1256h0M359 1204h0M321 1200h0M309 1164h0M298 1254h0M376 1232h0M437 1239h0M223 1243h0M366 1307h0M232 1333h0M278 1250h0M424 1294h0" stroke="#8db54b" stroke-width="7.2" stroke-linecap="round" stroke-opacity=".8" fill="none"/>
<path d="M320 1283h0M337 1237h0M325 1258h0M430 1264h0M442 1288h0M387 1255h0M441 1248h0M333 1266h0M294 1308h0M421 1233h0M346 1240h0M258 1232h0M231 1271h0M271 1205h0M303 1286h0M332 1311h0M394 1198h0M296 1374h0M382 1263h0M386 1305h0M229 1285h0M263 1211h0M412 1254h0M402 1175h0M418 1305h0M275 1175h0M429 1217h0M290 1253h0M422 1298h0M405 1252h0M308 1187h0M397 1245h0M430 1285h0M339 1236h0M354 1255h0M406 1335h0M427 1220h0M366 1209h0M272 1181h0M230 1244h0M395 1287h0M246 1316h0M372 1354h0M276 1188h0M391 1212h0M364 1187h0M287 1272h0M327 1279h0M309 1184h0M417 1278h0M395 1285h0M284 1351h0M424 1312h0M326 1261h0M263 1303h0M340 1266h0M356 1237h0M372 1273h0M232 1341h0M309 1242h0M390 1272h0M432 1275h0M299 1183h0M271 1322h0M251 1253h0M215 1221h0M339 1250h0M239 1255h0M433 1239h0M437 1295h0M391 1288h0M327 1310h0M428 1236h0M344 1238h0M455 1283h0M301 1264h0M301 1167h0M351 1294h0M277 1224h0M392 1306h0M237 1196h0M383 1291h0M229 1173h0M268 1242h0M285 1221h0M236 1241h0M299 1283h0M335 1241h0M352 1263h0M380 1325h0M352 1259h0M299 1234h0M391 1250h0M301 1245h0M301 1322h0M300 1175h0M412 1215h0M382 1315h0M233 1181h0M450 1231h0M366 1309h0M284 1217h0M278 1190h0M213 1237h0M281 1163h0M291 1269h0M403 1346h0M419 1192h0M353 1296h0M347 1251h0M438 1244h0M343 1248h0M335 1273h0M415 1181h0M316 1286h0M247 1340h0M297 1176h0M353 1216h0M454 1263h0M250 1368h0M342 1272h0M283 1202h0M227 1222h0M291 1283h0M238 1245h0M250 1168h0M434 1231h0M309 1337h0M404 1220h0M363 1208h0M364 1292h0M266 1355h0M422 1204h0M434 1235h0M340 1240h0M235 1227h0M290 1295h0M342 1267h0M278 1242h0M224 1238h0M339 1272h0M263 1216h0M290 1286h0M308 1296h0M224 1238h0M327 1250h0M236 1292h0M335 1246h0M256 1299h0M438 1245h0M254 1217h0M270 1176h0M310 1185h0M414 1248h0M354 1215h0M252 1222h0M354 1278h0M272 1346h0M300 1243h0M271 1264h0M293 1259h0M314 1327h0M260 1358h0M387 1190h0M387 1303h0M407 1192h0" stroke="#8db54b" stroke-width="7.2" stroke-linecap="round" stroke-opacity=".8" fill="none"/>
<path d="M451 1612h0M396 1706h0M386 1688h0M397 1789h0M437 1696h0M303 1752h0M550 1634h0M311 1612h0M376 1631h0M440 1735h0M450 1614h0M450 1727h0M349 1734h0M521 1652h0M462 1701h0M496 1607h0M281 1705h0M372 1691h0M363 1777h0M476 1698h0M413 1707h0M424 1657h0M316 1722h0M389 1562h0M472 1721h0M276 1644h0M409 1576h0M403 1560h0M470 1700h0M275 1628h0M262 1660h0M416 1794h0M349 1724h0M254 1626h0M481 1640h0M443 1680h0M298 1634h0M411 1717h0M455 1724h0M400 1681h0M332 1691h0M566 1626h0M572 1619h0M303 1715h0M501 1683h0M398 1721h0M360 1686h0M485 1670h0M255 1683h0M315 1682h0M415 1697h0M542 1676h0M465 1654h0M438 1722h0M296 1693h0M354 1636h0M417 1588h0M429 1585h0M423 1794h0M541 1603h0M464 1666h0M324 1595h0M300 1633h0M360 1603h0M334 1664h0M338 1716h0M398 1769h0M446 1698h0M457 1656h0M572 1659h0M423 1582h0M424 1741h0M377 1684h0M415 1692h0M481 1579h0M379 1620h0M564 1634h0M335 1669h0M555 1543h0M467 1605h0M471 1641h0M363 1731h0M319 1648h0M282 1735h0M371 1583h0M370 1693h0M329 1756h0M543 1615h0M334 1641h0M279 1654h0M340 1669h0M540 1601h0M380 1562h0M543 1648h0M460 1698h0M392 1549h0M552 1590h0M257 1665h0M383 1731h0M367 1716h0M356 1657h0M359 1768h0M460 1599h0M264 1606h0M418 1670h0M435 1593h0M361 1653h0M456 1706h0M427 1558h0M416 1732h0M503 1607h0M312 1728h0M429 1575h0M409 1642h0M400 1637h0M453 1709h0M556 1622h0M397 1692h0M383 1775h0M489 1641h0M407 1548h0M283 1607h0M283 1686h0M381 1693h0M393 1624h0M427 1572h0M455 1696h0M402 1676h0M462 1679h0M595 1670h0M332 1644h0M272 1645h0M292 1741h0M477 1720h0M459 1687h0M349 1692h0M267 1653h0M511 1619h0M604 1536h0M385 1608h0M437 1603h0M287 1614h0M561 1615h0M423 1743h0M366 1596h0M299 1719h0M373 1647h0M500 1581h0M486 1680h0M439 1787h0M358 1760h0M486 1631h0M498 1663h0M433 1586h0M376 1700h0M372 1570h0M545 1631h0M533 1598h0M392 1663h0M391 1784h0M472 1740h0M566 1625h0M466 1765h0M471 1678h0M452 1766h0" stroke="#0d8af5" stroke-width="7.2" stroke-linecap="round" stroke-opacity=".8" fill="none"/>
<path d="M602 1468h0M346 1310h0M380 1358h0M235 1292h0M277 1283h0M337 1215h0M283 1172h0M416 1262h0M325 1309h0M334 1249h0M431 1231h0M303 1192h0M296 1160h0M337 1253h0M227 1333h0M254 1251h0M334 1281h0M389 1226h0M286 1215h0M234 1275h0M278 1162h0M310 1196h0M349 1276h0M210 1246h0M349 1279h0M309 1262h0M311 1172h0M256 1291h0M294 1168h0M241 1171h0M242 1209h0M346 1231h0M375 1352h0M247 1294h0M425 1251h0M355 1308h0M308 1211h0M264 1213h0M338 1336h0M399 1219h0M250 1183h0M379 1247h0M337 1293h0M285 1249h0M317 1290h0M312 1257h0M239 1188h0M291 1276h0M269 1340h0M367 1282h0M292 1303h0M283 1237h0M343 1271h0M339 1240h0M215 1265h0M322 1332h0M385 1255h0M405 1192h0M437 1259h0M361 1279h0M414 1276h0M364 1186h0M335 1306h0M374 1300h0M405 1264h0M307 1198h0M309 1328h0M276 1385h0M242 1364h0M376 1197h0M352 1200h0M390 1306h0M333 1325h0M230 1257h0M434 1223h0M315 1364h0M452 1273h0M297 1228h0M316 1271h0M333 1257h0M392 1305h0M224 1258h0M413 1332h0M402 1319h0M433 1222h0M336 1245h0M429 1210h0M270 1296h0M272 1265h0M305 1323h0M247 1263h0M279 1246h0M301 1383h0M342 1244h0M266 1308h0M229 1187h0M429 1190h0M311 1197h0M291 1158h0M272 1320h0M317 1338h0M229 1358h0M394 1191h0M391 1253h0M307 1176h0M370 1298h0M395 1244h0M379 1268h0M398 1242h0M357 1261h0M265 1263h0M385 1253h0M385 1309h0M267 1363h0M274 1159h0M267 1229h0M322 1238h0M429 1200h0M263 1303h0M329 1274h0M259 1229h0M240 1368h0M352 1205h0M358 1191h0M343 1254h0M418 1265h0M406 1301h0M293 1261h0M252 1163h0M299 1197h0M264 1382h0M269 1343h0M456 1262h0M282 1232h0M358 1232h0M331 1238h0M343 1311h0M416 1227h0M268 1286h0M289 1167h0M256 1160h0M386 1256h0M228 1273h0M235 1297h0M265 1282h0M308 1244h0M436 1275h0M259 1191h0M439 1297h0M241 1242h0M388 1291h0M310 1275h0M271 1247h0M356 1212h0M288 1311h0M282 1256h0M270 1383h0M252 1267h0M289 1206h0M304 1278h0M407 1222h0M363 1191h0M384 1269h0M410 1322h0M401 1182h0M241 1202h0M317 1319h0" stroke="#8db54b" stroke-width="7.2" stroke-linecap="round" stroke-opacity=".8" fill="none"/>
<path d="M531 1673h0M566 1621h0M374 1607h0M318 1723h0M269 1685h0M459 1698h0M430 1598h0M419 1764h0M252 1662h0M278 1717h0M553 1632h0M404 1620h0M427 1602h0M265 1658h0M449 1607h0M276 1700h0M336 1681h0M337 1655h0M382 1731h0M448 1697h0M285 1689h0M410 1736h0M543 1540h0M376 1647h0M476 1702h0M286 1703h0M476 1705h0M366 1715h0M283 1653h0M465 1748h0M492 1604h0M369 1590h0M517 1612h0M287 1636h0M452 1609h0M292 1694h0M343 1741h0M437 1559h0M322 1668h0M261 1632h0M491 1590h0M499 1608h0M517 1641h0M308 1727h0M517 1696h0M360 1695h0M276 1695h0M405 1653h0M463 1703h0M474 1676h0M455 1660h0M407 1550h0M249 1630h0M339 1749h0M458 1702h0M463 1710h0M295 1712h0M482 1612h0M400 1751h0M503 1558h0M412 1658h0M328 1642h0M523 1637h0M362 1710h0M507 1612h0M301 1717h0M501 1619h0M320 1690h0M406 1680h0M570 1660h0M483 1705h0M414 1764h0M400 1683h0M307 1604h0M487 1609h0M445 1631h0M365 1732h0M459 1631h0M435 1758h0M489 1607h0M356 1603h0M328 1715h0M356 1621h0M333 1639h0M261 1694h0M391 1694h0M329 1682h0M495 1604h0M355 1573h0M469 1640h0M340 1712h0M547 1627h0M421 1677h0M416 1692h0M422 1561h0M358 1568h0M312 1685h0M576 1616h0M494 1686h0M353 1720h0M442 1642h0M371 1672h0M383 1683h0M268 1622h0M258 1624h0M383 1644h0M407 1556h0M419 1715h0M368 1708h0M254 1633h0M299 1727h0M369 1741h0M388 1686h0M376 1621h0M287 1680h0M374 1727h0M469 1664h0M375 1781h0M532 1586h0M504 1677h0M394 1573h0M360 1762h0M438 1721h0M539 1617h0M564 1589h0M442 1568h0M429 1594h0M378 1592h0M362 1783h0M491 1602h0M364 1684h0M519 1562h0M535 1590h0M348 1611h0M329 1744h0M400 1743h0M328 1706h0M318 1628h0M495 1664h0M361 1650h0M308 1655h0M447 1607h0M363 1736h0M265 1675h0M502 1604h0M528 1591h0M274 1636h0M361 1753h0M405 1702h0M408 1717h0M565 1587h0M405 1609h0M545 1583h0M303 1749h0M434 1651h0M458 1699h0M487 1605h0M430 1648h0M364 1738h0M387 1757h0M310 1620h0M304 1665h0M349 1611h0M372 1572h0M357 1727h0" stroke="#0d8af5" stroke-width="7.2" stroke-linecap="round" stroke-opacity=".8" fill="none"/>
<path d="M257 1298h0M283 1307h0M443 1282h0M387 1190h0M274 1389h0M390 1311h0M240 1278h0M259 1250h0M293 1206h0M252 1286h0M444 1284h0M434 1192h0M366 1272h0M258 1170h0M342 1344h0M314 1294h0M304 1375h0M228 1186h0M417 1327h0M426 1199h0M288 1244h0M291 1202h0M223 1196h0M228 1290h0M347 1304h0M381 1265h0M303 1359h0M286 1325h0M339 1346h0M373 1262h0M418 1226h0M388 1250h0M408 1291h0M338 1246h0M234 1285h0M273 1344h0M432 1233h0M248 1270h0M389 1230h0M426 1193h0M357 1233h0M297 1225h0M424 1254h0M377 1233h0M400 1250h0M298 1214h0M263 1246h0M293 1208h0M285 1207h0M432 1239h0M246 1303h0M397 1245h0M252 1270h0M434 1240h0M262 1214h0M300 1348h0M396 1248h0M331 1301h0M214 1211h0M404 1186h0M408 1308h0M363 1249h0M264 1197h0M265 1290h0M256 1285h0M254 1226h0M266 1294h0M331 1218h0M402 1179h0M411 1200h0M350 1224h0M347 1267h0M236 1194h0M381 1360h0M323 1301h0M263 1299h0M348 1323h0M346 1200h0M296 1261h0M348 1225h0M380 1299h0M428 1223h0M225 1283h0M339 1244h0M411 1179h0M363 1284h0M312 1376h0M285 1372h0M259 1382h0M343 1350h0M295 1191h0M281 1376h0M318 1290h0M303 1216h0M398 1241h0M326 1310h0M431 1266h0M293 1310h0M357 1320h0M440 1219h0M314 1283h0M286 1222h0M290 1371h0M259 1208h0M256 1174h0M419 1182h0M275 1234h0M444 1265h0M310 1289h0M267 1213h0M318 1205h0M229 1322h0M381 1240h0M433 1247h0M353 1361h0M242 1282h0M388 1216h0M227 1210h0M417 1296h0M375 1288h0M366 1341h0M310 1376h0M324 1315h0M277 1155h0M425 1270h0M418 1289h0M220 1228h0M434 1267h0M214 1258h0M287 1173h0M436 1214h0M241 1250h0M221 1224h0M329 1279h0M282 1293h0M262 1276h0M258 1309h0M376 1303h0M378 1240h0M335 1313h0M361 1354h0M237 1275h0M332 1275h0M352 1309h0M319 1225h0M429 1315h0M401 1239h0M352 1281h0M314 1198h0M232 1192h0M351 1249h0M400 1202h0M256 1300h0M448 1273h0M300 1222h0M367 1202h0M330 1218h0M326 1203h0M361 1242h0M268 1233h0M320 1234h0M326 1235h0M292 1176h0M351 1290h0M235 1222h0M443 1260h0M362 1291h0" stroke="#8db54b" stroke-width="7.2" stroke-linecap="round" stroke-opacity=".8" fill="none"/>
<path d="M802 1880h0M798 1915h0M787 1878h0M801 1857h0M764 1896h0M713 1869h0M788 1875h0M799 1861h0M794 1884h0M781 1912h0M753 1884h0M773 1905h0M797 1889h0M787 1855h0M796 1857h0M792 1893h0M788 1910h0M777 1901h0M800 1865h0M787 1918h0M786 1880h0M780 1906h0M786 1908h0M790 1866h0M716 1932h0M797 1863h0M791 1872h0M807 1859h0M804 1903h0M770 1906h0M795 1868h0M789 1865h0M796 1866h0M797 1866h0M803 1888h0M744 1887h0M778 1891h0M772 1904h0M789 1880h0M790 1886h0M796 1852h0M796 1865h0M793 1842h0M804 1885h0M789 1885h0M793 1905h0M791 1904h0M767 1875h0M774 1897h0M800 1858h0M805 1880h0M801 1871h0M804 1904h0M787 1882h0M801 1880h0M772 1893h0M759 1865h0M792 1906h0M777 1915h0M778 1896h0M799 1866h0M777 1913h0M773 1893h0M797 1863h0M788 1900h0M802 1886h0M784 1862h0M805 1911h0M791 1877h0M801 1879h0M799 1902h0M780 1906h0M790 1882h0M781 1901h0M797 1890h0M798 1865h0M781 1883h0M795 1910h0M776 1897h0M786 1920h0M790 1920h0M796 1885h0M806 1873h0" stroke="#46af0f" stroke-width="7.2" stroke-linecap="round" stroke-opacity=".8" fill="none"/>
<path d="M447 1444h0M347 1390h0M382 1394h0M456 1448h0M321 1330h0M420 1486h0M418 1444h0M394 1454h0M312 1403h0M457 1481h0M464 1467h0M389 1423h0M418 1468h0M403 1473h0M352 1416h0M405 1489h0M341 1387h0M475 1483h0M465 1466h0M387 1401h0M366 1353h0M439 1489h0M418 1493h0M399 1484h0M391 1425h0M386 1465h0M450 1507h0M371 1358h0M439 1507h0M363 1411h0M456 1445h0M404 1453h0M443 1464h0M403 1468h0M345 1440h0M393 1370h0M415 1480h0M452 1471h0M345 1377h0M298 1361h0M314 1389h0M451 1488h0M447 1474h0M290 1364h0M405 1496h0M384 1460h0M440 1498h0M431 1466h0M406 1492h0M403 1465h0M455 1450h0M396 1382h0M335 1428h0M377 1344h0M365 1448h0M450 1445h0M446 1445h0M400 1424h0M312 1407h0M363 1421h0M448 1468h0M389 1367h0M396 1349h0M470 1491h0M306 1404h0M358 1370h0M334 1427h0M451 1501h0M367 1492h0M429 1507h0M329 1390h0M351 1343h0M446 1459h0M362 1445h0M399 1372h0M318 1407h0M462 1485h0M479 1472h0M468 1478h0M453 1442h0M430 1477h0M332 1415h0M383 1401h0M443 1479h0M354 1319h0M366 1428h0M395 1479h0M466 1453h0M429 1462h0M390 1375h0M312 1403h0M352 1387h0M460 1451h0M305 1349h0M436 1455h0M424 1470h0M484 1464h0M420 1446h0M440 1468h0M373 1411h0M422 1445h0M486 1502h0M396 1339h0M411 1476h0M421 1425h0M376 1415h0M409 1420h0M366 1421h0M300 1399h0M355 1389h0M473 1497h0M466 1491h0M438 1443h0M444 1483h0M414 1480h0M340 1420h0M362 1416h0M328 1386h0M374 1464h0M412 1448h0M356 1445h0M421 1501h0M403 1381h0M318 1388h0M393 1467h0M349 1344h0M388 1402h0M336 1392h0M336 1360h0M369 1438h0M333 1366h0M415 1492h0M289 1370h0M419 1423h0M390 1409h0M353 1417h0M314 1411h0M455 1448h0M328 1398h0M347 1422h0M388 1452h0M408 1457h0M329 1348h0M445 1509h0M465 1452h0M348 1338h0M391 1472h0M453 1423h0M436 1471h0M435 1430h0M448 1448h0M372 1439h0M401 1451h0M357 1416h0M403 1344h0M403 1413h0M450 1487h0M360 1398h0M334 1432h0M378 1414h0M320 1370h0M416 1485h0M440 1487h0M367 1357h0M389 1433h0M355 1392h0M330 1433h0M384 1445h0M432 1456h0M431 1504h0M280 1329h0" stroke="#9966ff" stroke-width="7.2" stroke-linecap="round" stroke-opacity=".8" fill="none"/>
<path d="M370 1247h0M293 1255h0M297 1244h0M248 1186h0M375 1193h0M410 1235h0M247 1211h0M370 1265h0M302 1330h0M221 1217h0M319 1283h0M385 1195h0M343 1275h0M317 1216h0M340 1236h0M410 1311h0M240 1237h0M403 1281h0M401 1246h0M311 1188h0M233 1253h0M306 1294h0M427 1214h0M226 1346h0M331 1266h0M272 1209h0M400 1323h0M288 1273h0M351 1219h0M370 1334h0M351 1273h0M404 1223h0M370 1255h0M267 1276h0M233 1194h0M279 1202h0M249 1214h0M434 1259h0M410 1293h0M245 1226h0M296 1235h0M327 1251h0M227 1256h0M332 1275h0M420 1218h0M346 1241h0M323 1230h0M368 1335h0M233 1190h0M358 1282h0M254 1177h0M307 1280h0M259 1271h0M257 1243h0M405 1263h0M321 1284h0M243 1368h0M422 1323h0M408 1330h0M405 1248h0M252 1162h0M314 1272h0M381 1248h0M323 1238h0M284 1381h0M286 1393h0M296 1293h0M279 1251h0M233 1232h0M316 1238h0M436 1234h0M348 1295h0M268 1221h0M443 1252h0M326 1283h0M361 1296h0M294 1307h0M334 1274h0M393 1280h0M415 1286h0M406 1230h0M410 1197h0M314 1287h0M361 1307h0M315 1289h0M428 1193h0M253 1196h0M344 1358h0M271 1222h0M278 1226h0M421 1203h0M375 1255h0M333 1253h0M325 1272h0M223 1278h0M444 1221h0M352 1312h0M298 1188h0M292 1225h0M273 1373h0M321 1339h0M250 1306h0M346 1283h0M277 1324h0M245 1194h0M335 1317h0M371 1228h0M277 1303h0M300 1252h0M321 1260h0M418 1291h0M297 1324h0M352 1220h0M420 1284h0M331 1246h0M269 1345h0M338 1268h0M414 1334h0M256 1275h0M271 1349h0M387 1334h0M367 1278h0M423 1267h0M307 1154h0M406 1284h0M382 1268h0M223 1235h0M320 1274h0M300 1240h0M215 1249h0M343 1252h0M329 1253h0M440 1245h0M455 1267h0M262 1360h0M223 1203h0M309 1268h0M453 1246h0M270 1313h0M297 1291h0M223 1266h0M412 1280h0M249 1197h0M413 1284h0M316 1304h0M383 1221h0M323 1240h0M438 1266h0M425 1193h0M270 1305h0M242 1305h0M293 1231h0M383 1256h0M221 1233h0M359 1284h0M437 1258h0M252 1217h0M246 1370h0M279 1345h0M300 1181h0M404 1303h0M321 1318h0M400 1187h0M247 1309h0M344 1336h0M430 1194h0" stroke="#8db54b" stroke-width="7.2" stroke-linecap="round" stroke-opacity=".8" fill="none"/>
<path d="M190 1438h0M296 1527h0M198 1441h0M269 1579h0M177 1465h0M156 1418h0M198 1457h0M188 1443h0M289 1590h0M328 1568h0M193 1434h0M342 1570h0M170 1466h0M340 1570h0M153 1448h0M283 1587h0M163 1425h0M334 1593h0M308 1587h0M170 1440h0M187 1433h0M195 1439h0M373 1526h0M287 1562h0M310 1570h0M313 1552h0M316 1506h0M157 1442h0M315 1517h0M268 1555h0M350 1552h0M180 1419h0M167 1435h0M201 1449h0M160 1415h0M376 1565h0M366 1587h0M207 1431h0M167 1439h0M159 1457h0M186 1442h0M165 1463h0M311 1574h0M167 1457h0M179 1428h0M171 1439h0M276 1581h0M154 1455h0M350 1597h0M145 1447h0M198 1444h0M144 1442h0M296 1586h0M343 1605h0M170 1460h0M142 1442h0M159 1462h0M185 1431h0M162 1423h0M155 1447h0M342 1577h0M340 1513h0M300 1551h0M185 1463h0M187 1456h0M368 1560h0M279 1591h0M164 1425h0M179 1462h0M301 1591h0M179 1446h0M169 1433h0M365 1583h0M198 1437h0M288 1524h0M175 1416h0M353 1533h0M196 1457h0M146 1433h0M268 1548h0M346 1515h0M204 1440h0M192 1431h0M270 1559h0M198 1423h0M292 1578h0M181 1452h0M283 1554h0M291 1586h0M303 1535h0M334 1545h0M147 1445h0M282 1511h0M355 1598h0M196 1445h0M199 1445h0M302 1568h0M167 1438h0M141 1446h0M345 1565h0M180 1452h0M282 1552h0M148 1422h0M304 1555h0M171 1457h0M159 1426h0M313 1554h0M194 1431h0M151 1435h0M185 1422h0M302 1568h0M152 1419h0M167 1427h0M132 1429h0M211 1437h0M160 1421h0M310 1563h0M179 1441h0" stroke="#f0930a" stroke-width="7.2" stroke-linecap="round" stroke-opacity=".8" fill="none"/>
<path d="M661 1494h0M644 1516h0M653 1592h0M618 1494h0M517 1507h0M503 1514h0M545 1489h0M606 1583h0M520 1503h0M673 1480h0M568 1469h0M557 1462h0M631 1588h0M546 1531h0M555 1498h0M639 1471h0M615 1506h0M590 1570h0M577 1512h0M564 1477h0M604 1531h0M644 1587h0M625 1610h0M620 1488h0M606 1510h0M518 1483h0M613 1551h0M639 1499h0M652 1595h0M566 1494h0M599 1595h0M526 1513h0M609 1484h0M533 1530h0M540 1532h0M520 1537h0M636 1471h0M607 1602h0M564 1463h0M626 1469h0M577 1508h0M635 1547h0M650 1491h0M622 1554h0M605 1590h0M623 1468h0M586 1509h0M617 1460h0M646 1596h0M648 1593h0M614 1512h0M646 1513h0M566 1485h0M707 1511h0M568 1520h0M580 1596h0M656 1505h0M632 1517h0M633 1574h0M581 1470h0M610 1507h0M527 1506h0M601 1489h0M634 1497h0M632 1508h0M575 1522h0M633 1539h0M640 1603h0M540 1480h0M624 1559h0M603 1573h0M544 1533h0M602 1580h0M539 1485h0M649 1578h0M527 1545h0M638 1543h0M581 1528h0M628 1601h0M569 1512h0M679 1509h0M691 1490h0M525 1477h0M572 1461h0M584 1514h0M636 1499h0M603 1497h0M639 1570h0M587 1510h0M578 1468h0M611 1484h0M691 1502h0M559 1481h0M657 1476h0M588 1566h0M620 1560h0M621 1597h0M668 1479h0M598 1536h0M659 1482h0M640 1493h0M639 1570h0M568 1496h0M651 1516h0M613 1537h0M542 1536h0M570 1480h0M537 1508h0M571 1551h0M642 1572h0M565 1548h0M541 1558h0M550 1528h0M593 1567h0M551 1541h0M654 1511h0M590 1517h0M661 1477h0M626 1583h0M619 1597h0M632 1570h0M607 1561h0M672 1490h0M624 1550h0M547 1527h0M594 1537h0M602 1487h0M622 1575h0M611 1534h0M654 1482h0M613 1609h0M586 1508h0M547 1473h0M516 1545h0M630 1529h0M590 1508h0M538 1488h0M561 1517h0M629 1568h0M623 1605h0M663 1504h0M639 1586h0M612 1480h0M582 1528h0M591 1540h0M654 1516h0M581 1564h0M622 1495h0M682 1482h0M662 1566h0M539 1506h0M636 1472h0M531 1478h0M576 1488h0M619 1532h0M596 1541h0M626 1473h0M652 1576h0M544 1551h0M598 1569h0M609 1562h0M689 1514h0M594 1573h0M550 1528h0M530 1516h0M649 1519h0M633 1591h0M635 1606h0M530 1507h0M616 1606h0M628 1519h0M610 1598h0M676 1568h0M636 1523h0M653 1468h0M647 1510h0M591 1496h0M606 1594h0M630 1511h0M515 1475h0M583 1487h0M575 1456h0" stroke="#e59a45" stroke-width="7.2" stroke-linecap="round" stroke-opacity=".8" fill="none"/>
<path d="M268 1713h0M431 1618h0M404 1626h0M275 1611h0M513 1679h0M444 1767h0M331 1632h0M526 1584h0M522 1622h0M384 1725h0M305 1611h0M278 1702h0M344 1603h0M423 1691h0M451 1721h0M412 1711h0M265 1620h0M267 1610h0M476 1585h0M429 1671h0M580 1691h0M405 1700h0M384 1561h0M429 1650h0M357 1605h0M462 1663h0M556 1677h0M452 1780h0M524 1568h0M481 1615h0M502 1607h0M419 1579h0M483 1577h0M448 1666h0M493 1640h0M433 1763h0M395 1581h0M363 1677h0M399 1729h0M254 1629h0M543 1613h0M414 1626h0M422 1644h0M400 1553h0M295 1602h0M534 1601h0M394 1726h0M375 1749h0M568 1638h0M543 1644h0M305 1627h0M289 1632h0M516 1554h0M592 1669h0M325 1593h0M496 1643h0M309 1615h0M352 1610h0M374 1604h0M433 1685h0M333 1664h0M385 1674h0M378 1676h0M397 1642h0M247 1637h0M539 1620h0M351 1679h0M351 1615h0M505 1564h0M501 1608h0M362 1582h0M490 1588h0M519 1679h0M376 1572h0M260 1681h0M391 1728h0M337 1591h0M469 1686h0M303 1724h0M486 1600h0M308 1618h0M536 1595h0M469 1658h0M525 1670h0M368 1589h0M514 1608h0M312 1733h0M386 1597h0M246 1641h0M549 1632h0M487 1663h0M302 1689h0M395 1788h0M322 1717h0M421 1740h0M264 1641h0M293 1687h0M351 1579h0M490 1603h0M313 1671h0M255 1651h0M342 1680h0M433 1722h0M317 1587h0M417 1583h0M334 1696h0M478 1627h0M322 1737h0M295 1733h0M528 1613h0M455 1559h0M394 1719h0M363 1616h0M428 1741h0M333 1736h0M480 1704h0M315 1661h0M504 1628h0M391 1769h0M392 1632h0M295 1698h0M488 1584h0M346 1756h0M427 1669h0M244 1640h0M301 1661h0M526 1648h0M357 1665h0M407 1588h0M362 1710h0M420 1776h0M589 1677h0M428 1595h0M360 1654h0M456 1763h0M536 1592h0M380 1765h0M339 1732h0M408 1663h0M418 1689h0M375 1729h0M471 1642h0M263 1638h0M409 1763h0M444 1608h0M508 1608h0M450 1622h0M350 1734h0M333 1610h0M548 1671h0M437 1737h0M341 1585h0M374 1572h0M357 1734h0M362 1701h0M554 1588h0M303 1633h0M416 1640h0M657 1545h0M525 1663h0M537 1655h0M347 1753h0M353 1727h0M343 1605h0M517 1582h0" stroke="#0d8af5" stroke-width="7.2" stroke-linecap="round" stroke-opacity=".8" fill="none"/>
<path d="M383 1599h0M572 1612h0M470 1654h0M390 1760h0M402 1635h0M508 1680h0M294 1704h0M275 1618h0M302 1684h0M292 1645h0M411 1681h0M516 1640h0M430 1657h0M353 1586h0M443 1607h0M435 1720h0M446 1675h0M274 1642h0M510 1650h0M295 1689h0M479 1739h0M436 1711h0M311 1759h0M533 1575h0M416 1750h0M269 1604h0M557 1618h0M259 1656h0M544 1668h0M586 1617h0M322 1636h0M420 1554h0M535 1569h0M303 1638h0M318 1730h0M426 1638h0M489 1685h0M348 1671h0M408 1554h0M429 1611h0M337 1603h0M378 1564h0M300 1632h0M400 1677h0M466 1683h0M391 1749h0M374 1626h0M451 1687h0M345 1675h0M382 1640h0M316 1683h0M460 1564h0M530 1627h0M277 1621h0M344 1583h0M465 1590h0M508 1620h0M509 1655h0M468 1702h0M304 1606h0M278 1731h0M320 1597h0M382 1778h0M395 1791h0M269 1668h0M442 1706h0M470 1738h0M271 1624h0M535 1634h0M352 1736h0M530 1557h0M482 1655h0M489 1705h0M451 1571h0M441 1586h0M537 1611h0M291 1722h0M381 1699h0M330 1769h0M498 1618h0M620 1640h0M434 1585h0M430 1759h0M447 1678h0M282 1633h0M531 1669h0M279 1598h0M247 1636h0M359 1620h0M506 1574h0M448 1560h0M308 1626h0M291 1619h0M528 1622h0M435 1669h0M365 1688h0M239 1627h0M342 1660h0M374 1601h0M368 1627h0M430 1654h0M421 1723h0M357 1630h0M460 1669h0M293 1705h0M351 1642h0M350 1679h0M322 1695h0M529 1677h0M340 1690h0M523 1647h0M353 1713h0M400 1570h0M337 1697h0M549 1606h0M508 1629h0M327 1695h0M395 1603h0M404 1721h0M526 1575h0M298 1623h0M429 1662h0M405 1545h0M330 1583h0M376 1694h0M409 1715h0M450 1713h0M356 1623h0M374 1621h0M421 1566h0M333 1741h0M425 1703h0M545 1662h0M463 1638h0M269 1678h0M537 1595h0M498 1699h0M345 1704h0M360 1708h0M536 1609h0M406 1738h0M458 1735h0M334 1684h0M520 1674h0M416 1588h0M333 1622h0M312 1696h0M443 1678h0M318 1609h0M348 1587h0M292 1674h0M433 1693h0M554 1593h0M407 1618h0M425 1567h0M473 1666h0M255 1626h0M479 1613h0M360 1718h0M403 1612h0M276 1634h0M309 1672h0M393 1731h0M402 1581h0M426 1770h0" stroke="#0d8af5" stroke-width="7.2" stroke-linecap="round" stroke-opacity=".8" fill="none"/>
<path d="M496 1692h0M413 1588h0M282 1598h0M509 1630h0M539 1659h0M421 1660h0M297 1600h0M470 1576h0M405 1606h0M272 1652h0M450 1584h0M380 1703h0M307 1671h0M270 1638h0M415 1784h0M376 1692h0M430 1592h0M417 1686h0M569 1621h0M434 1581h0M398 1601h0M524 1614h0M298 1701h0M341 1589h0M315 1594h0M404 1597h0M297 1621h0M486 1703h0M309 1610h0M301 1673h0M519 1661h0M434 1581h0M323 1666h0M363 1701h0M407 1702h0M520 1649h0M390 1668h0M520 1655h0M472 1653h0M371 1627h0M458 1581h0M379 1565h0M342 1577h0M424 1759h0M233 1677h0M484 1664h0M526 1589h0M416 1600h0M482 1657h0M278 1647h0M495 1587h0M467 1653h0M321 1607h0M418 1719h0M307 1602h0M426 1647h0M411 1588h0M463 1612h0M383 1576h0M439 1754h0M333 1656h0M412 1756h0M413 1682h0M345 1668h0M540 1623h0M425 1689h0M443 1670h0M526 1591h0M348 1646h0M352 1739h0M529 1581h0M543 1595h0M408 1706h0M318 1655h0M350 1634h0M570 1640h0M517 1577h0M601 1633h0M515 1585h0M360 1671h0M468 1684h0M326 1594h0M408 1771h0M272 1633h0M467 1611h0M299 1624h0M462 1650h0M390 1590h0M296 1637h0M249 1628h0M517 1620h0M437 1682h0M532 1565h0M357 1649h0M505 1580h0M404 1670h0M400 1699h0M359 1613h0M367 1601h0M339 1698h0M372 1565h0M339 1715h0M427 1623h0M372 1715h0M334 1642h0M276 1662h0M428 1608h0M469 1575h0M468 1729h0M465 1569h0M328 1631h0M474 1615h0M492 1640h0M464 1628h0M264 1708h0M580 1648h0M344 1627h0M555 1602h0M300 1693h0M312 1611h0M466 1567h0M358 1610h0M439 1601h0M442 1577h0M248 1626h0M364 1726h0M322 1723h0M429 1553h0M387 1620h0M309 1730h0M349 1664h0M318 1668h0M287 1633h0M424 1587h0M548 1584h0M383 1701h0M450 1675h0M484 1632h0M324 1733h0M562 1586h0M442 1616h0M558 1592h0M326 1661h0M493 1626h0M298 1601h0M312 1600h0M384 1622h0M370 1631h0M376 1637h0M300 1664h0M301 1683h0M361 1693h0M331 1715h0M332 1636h0M522 1678h0M477 1609h0M305 1679h0M428 1633h0M350 1737h0M353 1654h0M296 1714h0M334 1648h0M437 1645h0M333 1715h0M311 1762h0M363 1653h0" stroke="#0d8af5" stroke-width="7.2" stroke-linecap="round" stroke-opacity=".8" fill="none"/>
<path d="M203 1565h0M246 1598h0M112 1524h0M171 1537h0M348 1497h0M375 1584h0M196 1488h0M166 1569h0M130 1594h0M185 1514h0M309 1539h0M180 1537h0M332 1475h0M356 1534h0M137 1563h0M247 1508h0M283 1459h0M237 1509h0M226 1371h0M338 1570h0M137 1575h0M222 1519h0M264 1527h0M293 1477h0M176 1622h0M308 1474h0M234 1559h0M352 1589h0M147 1501h0M289 1479h0M257 1539h0M319 1526h0M111 1570h0M260 1384h0M166 1553h0M313 1596h0M103 1540h0M225 1383h0M198 1488h0M375 1535h0M159 1575h0M224 1429h0M235 1603h0M138 1559h0M299 1472h0M375 1573h0M249 1527h0M243 1501h0M135 1562h0M335 1489h0M267 1490h0M182 1532h0M253 1526h0M171 1518h0M227 1599h0M295 1509h0M193 1618h0M331 1528h0M123 1515h0M271 1511h0M185 1587h0M187 1489h0M123 1567h0M195 1531h0M167 1630h0M217 1558h0M221 1556h0M321 1496h0M292 1584h0M275 1402h0M271 1411h0M290 1480h0M218 1509h0M248 1568h0M187 1488h0M218 1574h0M262 1506h0M255 1522h0M251 1588h0M160 1553h0M252 1554h0M148 1604h0M326 1585h0M153 1540h0M401 1523h0M201 1586h0M230 1560h0M230 1643h0M233 1582h0M138 1525h0M325 1458h0M181 1564h0M169 1566h0M248 1480h0M369 1551h0M253 1515h0M283 1499h0M325 1471h0M197 1569h0M219 1569h0M126 1549h0M164 1505h0M288 1467h0M200 1499h0M118 1526h0M273 1520h0M373 1565h0M233 1540h0M191 1553h0M192 1572h0M249 1513h0M243 1517h0M256 1522h0M247 1537h0M170 1555h0M212 1484h0M365 1577h0M135 1510h0M354 1515h0M185 1521h0M241 1532h0M263 1506h0M162 1497h0M319 1578h0M295 1544h0M196 1522h0M273 1546h0M112 1545h0M222 1584h0M145 1575h0M376 1501h0M323 1564h0M180 1489h0M240 1606h0M185 1550h0M130 1518h0M324 1571h0M323 1612h0M268 1560h0M215 1611h0M142 1518h0M151 1600h0M250 1381h0M156 1568h0M162 1544h0M141 1598h0M339 1519h0M250 1502h0M197 1546h0M324 1548h0M331 1496h0M237 1495h0M225 1501h0M261 1475h0M161 1539h0M167 1520h0M354 1528h0M197 1475h0M134 1541h0M307 1544h0M358 1553h0M312 1427h0M232 1576h0M117 1551h0M356 1496h0" stroke="#5800b8" stroke-width="7.2" stroke-linecap="round" stroke-opacity=".8" fill="none"/>
<path d="M353 1262h0M424 1282h0M295 1335h0M331 1347h0M425 1277h0M271 1199h0M273 1248h0M299 1375h0M358 1248h0M292 1328h0M443 1222h0M406 1247h0M317 1235h0M414 1225h0M245 1222h0M346 1259h0M273 1342h0M423 1257h0M273 1161h0M290 1295h0M417 1194h0M309 1224h0M403 1305h0M273 1223h0M326 1337h0M307 1371h0M341 1253h0M248 1166h0M386 1236h0M315 1270h0M374 1236h0M259 1277h0M277 1299h0M298 1359h0M242 1174h0M434 1224h0M230 1244h0M381 1348h0M312 1279h0M221 1292h0M324 1323h0M227 1189h0M344 1249h0M279 1334h0M406 1206h0M307 1290h0M444 1240h0M309 1301h0M433 1254h0M330 1268h0M285 1308h0M320 1341h0M313 1319h0M330 1220h0M346 1301h0M433 1196h0M398 1234h0M256 1256h0M433 1294h0M252 1173h0M261 1285h0M237 1363h0M366 1286h0M429 1224h0M422 1186h0M351 1272h0M224 1188h0M424 1326h0M381 1255h0M217 1269h0M268 1303h0M399 1179h0M273 1345h0M419 1202h0M379 1239h0M366 1222h0M432 1283h0M398 1223h0M235 1252h0M293 1268h0M259 1239h0M212 1239h0M303 1281h0M308 1268h0M246 1182h0M380 1288h0M404 1346h0M379 1205h0M390 1190h0M429 1231h0M248 1267h0M449 1269h0M261 1160h0M296 1156h0M337 1300h0M292 1267h0M265 1207h0M431 1284h0M308 1192h0M286 1265h0M432 1254h0M260 1174h0M426 1270h0M433 1294h0M260 1169h0M313 1264h0M441 1247h0M363 1266h0M330 1227h0M318 1187h0M297 1172h0M434 1199h0M238 1292h0M417 1290h0M270 1267h0M407 1259h0M293 1368h0M372 1244h0M268 1176h0M335 1301h0M370 1191h0M331 1249h0M385 1245h0M254 1271h0M257 1373h0M428 1223h0M341 1245h0M224 1211h0M256 1287h0M276 1312h0M257 1180h0M454 1267h0M311 1284h0M395 1251h0M308 1213h0M299 1223h0M287 1164h0M376 1313h0M372 1266h0M296 1281h0M431 1281h0M339 1247h0M308 1197h0M307 1338h0M264 1167h0M413 1226h0M379 1281h0M357 1264h0M325 1360h0M407 1180h0M329 1250h0M328 1213h0M262 1241h0M363 1276h0M405 1233h0M309 1187h0M338 1269h0M431 1258h0M421 1285h0M248 1342h0M391 1306h0M409 1268h0M378 1301h0M364 1268h0M324 1287h0M293 1288h0M380 1223h0" stroke="#8db54b" stroke-width="7.2" stroke-linecap="round" stroke-opacity=".8" fill="none"/>
<path d="M287 1165h0M276 1279h0M294 1202h0M394 1200h0M277 1221h0M237 1209h0M293 1262h0M272 1236h0M318 1208h0M309 1307h0M414 1235h0M295 1257h0M340 1296h0M423 1222h0M324 1282h0M395 1174h0M365 1212h0M276 1179h0M346 1316h0M323 1365h0M288 1361h0M266 1368h0M323 1259h0M337 1249h0M431 1280h0M306 1274h0M278 1239h0M435 1242h0M270 1186h0M388 1222h0M326 1350h0M306 1361h0M377 1285h0M266 1186h0M383 1331h0M245 1284h0M328 1306h0M405 1194h0M338 1358h0M326 1227h0M359 1337h0M382 1301h0M221 1223h0M224 1252h0M330 1244h0M275 1286h0M357 1253h0M381 1220h0M327 1339h0M300 1236h0M272 1294h0M366 1201h0M310 1360h0M271 1197h0M243 1294h0M309 1294h0M411 1252h0M288 1218h0M335 1208h0M222 1230h0M292 1322h0M250 1174h0M229 1223h0M425 1224h0M261 1199h0M259 1256h0M339 1234h0M329 1251h0M268 1341h0M435 1274h0M386 1306h0M352 1312h0M278 1340h0M247 1306h0M352 1281h0M277 1306h0M391 1217h0M437 1247h0M249 1354h0M343 1305h0M282 1367h0M381 1189h0M244 1378h0M356 1283h0M332 1235h0M361 1271h0M274 1185h0M259 1319h0M357 1253h0M268 1178h0M239 1377h0M298 1210h0M347 1317h0M262 1247h0M397 1190h0M295 1197h0M419 1213h0M365 1193h0M412 1187h0M281 1284h0M302 1213h0M394 1262h0M395 1260h0M450 1286h0M375 1270h0M399 1214h0M407 1269h0M324 1206h0M372 1322h0M315 1246h0M376 1246h0M297 1243h0M452 1258h0M304 1224h0M322 1312h0M329 1334h0M334 1242h0M343 1257h0M218 1205h0M356 1239h0M282 1174h0M427 1320h0M365 1195h0M419 1302h0M324 1292h0M289 1261h0M253 1278h0M375 1288h0M247 1186h0M429 1276h0M257 1188h0M365 1293h0M257 1319h0M423 1261h0M287 1338h0M277 1383h0M299 1304h0M354 1276h0M393 1301h0M285 1258h0M237 1243h0M341 1271h0M340 1266h0M376 1270h0M307 1263h0M411 1267h0M421 1322h0M276 1184h0M392 1333h0M227 1311h0M323 1291h0M411 1247h0M350 1278h0M424 1186h0M334 1276h0M427 1271h0M408 1229h0M314 1262h0M353 1208h0M243 1322h0M383 1352h0M355 1276h0M240 1284h0M305 1234h0M246 1213h0M297 1318h0M231 1206h0" stroke="#8db54b" stroke-width="7.2" stroke-linecap="round" stroke-opacity=".8" fill="none"/>
<path d="M434 1248h0M238 1215h0M230 1220h0M371 1260h0M272 1277h0M364 1292h0M425 1295h0M302 1288h0M286 1292h0M359 1228h0M377 1240h0M264 1294h0M351 1234h0M410 1220h0M450 1284h0M374 1355h0M289 1238h0M309 1252h0M304 1225h0M330 1238h0M402 1275h0M428 1239h0M394 1356h0M430 1241h0M371 1246h0M277 1233h0M402 1205h0M425 1220h0M312 1166h0M274 1180h0M334 1229h0M400 1306h0M284 1210h0M336 1228h0M262 1197h0M241 1176h0M429 1278h0M261 1270h0M341 1266h0M279 1206h0M393 1183h0M339 1275h0M309 1266h0M334 1285h0M290 1177h0M226 1197h0M435 1274h0M380 1306h0M445 1269h0M399 1289h0M438 1286h0M343 1246h0M387 1276h0M261 1259h0M272 1321h0M243 1170h0M283 1273h0M414 1183h0M262 1263h0M391 1235h0M307 1338h0M369 1259h0M424 1287h0M353 1206h0M294 1171h0M451 1259h0M294 1199h0M402 1301h0M291 1305h0M301 1193h0M413 1256h0M254 1302h0M336 1265h0M293 1388h0M222 1286h0M317 1291h0M307 1277h0M442 1231h0M224 1273h0M375 1321h0M245 1175h0M235 1314h0M467 1273h0M240 1361h0M372 1210h0M322 1342h0M359 1280h0M321 1279h0M274 1311h0M384 1265h0M336 1253h0M398 1236h0M270 1172h0M382 1226h0M359 1272h0M368 1276h0M402 1220h0M357 1209h0M319 1312h0M408 1214h0M333 1226h0M241 1217h0M372 1241h0M420 1324h0M315 1228h0M436 1236h0M421 1252h0M330 1220h0M370 1288h0M230 1342h0M256 1254h0M331 1356h0M278 1251h0M245 1258h0M242 1365h0M430 1190h0M245 1266h0M247 1242h0M285 1307h0M323 1190h0M426 1188h0M302 1246h0M328 1345h0M332 1283h0M243 1191h0M392 1267h0M234 1202h0M266 1278h0M356 1220h0M256 1200h0M297 1213h0M336 1230h0M236 1295h0M319 1370h0M361 1230h0M411 1310h0M250 1272h0M298 1308h0M372 1298h0M349 1290h0M383 1284h0M316 1251h0M387 1273h0M320 1291h0M406 1305h0M292 1243h0M391 1279h0M321 1242h0M298 1242h0M290 1291h0M318 1283h0M238 1296h0M303 1205h0M365 1220h0M227 1194h0M314 1274h0M428 1276h0M442 1228h0M435 1254h0M266 1224h0M417 1242h0M285 1290h0M447 1277h0M343 1244h0M406 1232h0M274 1178h0" stroke="#8db54b" stroke-width="7.2" stroke-linecap="round" stroke-opacity=".8" fill="none"/>
<path d="M497 1574h0M373 1768h0M568 1617h0M383 1610h0M372 1620h0M447 1638h0M348 1668h0M488 1562h0M378 1758h0M423 1633h0M536 1624h0M346 1742h0M419 1696h0M503 1594h0M273 1654h0M466 1688h0M367 1571h0M465 1737h0M379 1677h0M578 1616h0M276 1603h0M500 1658h0M299 1631h0M359 1679h0M380 1645h0M452 1573h0M508 1620h0M261 1637h0M376 1703h0M319 1680h0M432 1681h0M467 1739h0M452 1646h0M373 1628h0M488 1577h0M424 1662h0M465 1584h0M499 1647h0M268 1690h0M393 1562h0M376 1571h0M417 1557h0M303 1704h0M475 1653h0M328 1600h0M536 1620h0M287 1677h0M370 1581h0M447 1572h0M388 1561h0M378 1618h0M322 1604h0M283 1743h0M306 1738h0M339 1701h0M392 1777h0M333 1670h0M561 1595h0M470 1668h0M503 1551h0M475 1603h0M270 1619h0M540 1622h0M414 1681h0M459 1659h0M390 1569h0M376 1620h0M459 1605h0M258 1664h0M376 1721h0M408 1595h0M489 1722h0M268 1664h0M424 1666h0M520 1614h0M513 1691h0M289 1633h0M343 1597h0M263 1661h0M344 1589h0M407 1613h0M424 1642h0M522 1635h0M340 1595h0M352 1711h0M367 1656h0M479 1684h0M422 1615h0M409 1569h0M272 1689h0M427 1648h0M374 1769h0M441 1587h0M559 1625h0M448 1759h0M319 1611h0M471 1622h0M326 1773h0M538 1640h0M333 1701h0M392 1560h0M468 1585h0M441 1747h0M287 1654h0M389 1735h0M399 1704h0M520 1625h0M399 1621h0M427 1692h0M294 1603h0M411 1646h0M555 1661h0M339 1697h0M551 1664h0M513 1601h0M516 1699h0M371 1688h0M315 1591h0M382 1613h0M476 1639h0M536 1573h0M290 1604h0M445 1751h0M376 1582h0M526 1619h0M376 1694h0M543 1667h0M587 1640h0M488 1592h0M281 1652h0M345 1697h0M535 1675h0M451 1628h0M352 1637h0M431 1656h0M339 1662h0M416 1698h0M514 1636h0M423 1555h0M341 1730h0M324 1634h0M467 1595h0M451 1588h0M251 1621h0M548 1614h0M440 1623h0M311 1750h0M386 1775h0M354 1620h0M366 1580h0M516 1577h0M450 1613h0M307 1707h0M260 1628h0M346 1685h0M502 1661h0M463 1628h0M486 1568h0M303 1694h0M419 1601h0M312 1642h0M497 1646h0M264 1663h0M467 1635h0M394 1653h0M416 1792h0" stroke="#0d8af5" stroke-width="7.2" stroke-linecap="round" stroke-opacity=".8" fill="none"/>
<path d="M358 1497h0M155 1582h0M186 1621h0M271 1523h0M352 1502h0M163 1500h0M201 1487h0M200 1604h0M379 1569h0M214 1625h0M165 1559h0M156 1586h0M236 1505h0M311 1408h0M242 1661h0M270 1488h0M250 1496h0M263 1548h0M321 1511h0M214 1596h0M189 1516h0M390 1514h0M260 1524h0M373 1523h0M120 1510h0M333 1544h0M199 1624h0M219 1603h0M297 1521h0M335 1606h0M243 1527h0M323 1602h0M120 1566h0M349 1518h0M223 1387h0M319 1566h0M163 1554h0M304 1490h0M321 1471h0M240 1595h0M241 1550h0M205 1605h0M196 1525h0M333 1517h0M332 1609h0M307 1505h0M364 1485h0M210 1517h0M218 1593h0M243 1540h0M359 1474h0M294 1599h0M364 1583h0M215 1606h0M336 1548h0M192 1522h0M163 1553h0M308 1455h0M317 1396h0M223 1547h0M218 1420h0M186 1554h0M190 1567h0M272 1418h0M244 1588h0M294 1518h0M362 1476h0M190 1547h0M200 1526h0M148 1565h0M210 1566h0M209 1499h0M289 1542h0M322 1458h0M280 1471h0M275 1527h0M194 1607h0M257 1554h0M181 1551h0M371 1499h0M361 1539h0M141 1527h0M208 1399h0M228 1487h0M181 1517h0M158 1559h0M165 1560h0M240 1518h0M358 1532h0M297 1501h0M163 1543h0M202 1486h0M329 1544h0M269 1519h0M208 1485h0M171 1506h0M170 1607h0M300 1612h0M284 1491h0M250 1525h0M390 1509h0M298 1468h0M232 1388h0M309 1514h0M120 1568h0M162 1553h0M192 1608h0M118 1543h0M173 1567h0M264 1507h0M159 1549h0M278 1361h0M331 1539h0M203 1444h0M347 1485h0M192 1617h0M297 1576h0M360 1560h0M268 1512h0M248 1561h0M292 1490h0M312 1546h0M308 1483h0M266 1450h0M177 1573h0M346 1485h0M278 1530h0M349 1487h0M359 1589h0M134 1526h0M257 1480h0M310 1484h0M285 1549h0M257 1546h0M277 1585h0M276 1547h0M271 1503h0M226 1497h0M297 1530h0M296 1526h0M200 1524h0M232 1507h0M322 1486h0M292 1468h0M288 1481h0M268 1512h0M289 1504h0M204 1533h0M212 1512h0M195 1536h0M128 1570h0M252 1505h0M217 1435h0M277 1492h0M159 1582h0M166 1540h0M307 1453h0M270 1446h0M193 1630h0M371 1531h0M284 1602h0M124 1546h0M337 1557h0M161 1607h0" stroke="#5800b8" stroke-width="7.2" stroke-linecap="round" stroke-opacity=".8" fill="none"/>
<path d="M439 1568h0M367 1639h0M494 1680h0M484 1636h0M538 1625h0M543 1597h0M509 1696h0M273 1614h0M335 1669h0M503 1606h0M297 1608h0M449 1659h0M271 1673h0M495 1519h0M376 1776h0M378 1720h0M400 1702h0M270 1660h0M497 1611h0M291 1647h0M404 1703h0M393 1649h0M359 1730h0M332 1602h0M259 1685h0M494 1616h0M444 1642h0M485 1572h0M415 1647h0M540 1605h0M325 1705h0M257 1683h0M470 1633h0M399 1633h0M519 1608h0M314 1726h0M526 1642h0M420 1560h0M361 1623h0M481 1671h0M405 1664h0M441 1618h0M438 1639h0M452 1640h0M368 1633h0M406 1681h0M371 1703h0M287 1677h0M376 1649h0M402 1586h0M579 1648h0M413 1717h0M329 1586h0M408 1664h0M382 1694h0M416 1647h0M546 1626h0M473 1668h0M244 1630h0M508 1708h0M428 1561h0M326 1588h0M565 1649h0M297 1666h0M333 1721h0M451 1716h0M277 1677h0M361 1675h0M377 1778h0M453 1589h0M303 1735h0M399 1606h0M345 1720h0M580 1649h0M296 1621h0M377 1559h0M450 1591h0M498 1716h0M400 1713h0M509 1611h0M466 1576h0M282 1617h0M340 1648h0M302 1655h0M343 1597h0M389 1784h0M365 1608h0M341 1738h0M363 1588h0M503 1627h0M460 1689h0M413 1730h0M279 1627h0M289 1663h0M516 1588h0M338 1721h0M491 1723h0M338 1633h0M254 1658h0M390 1696h0M461 1678h0M314 1754h0M409 1571h0M331 1656h0M358 1677h0M507 1605h0M317 1681h0M429 1750h0M438 1621h0M381 1780h0M447 1670h0M456 1661h0M456 1681h0M332 1654h0M418 1565h0M470 1602h0M390 1730h0M394 1583h0M431 1643h0M455 1598h0M437 1650h0M413 1662h0M477 1650h0M393 1689h0M408 1661h0M586 1632h0M338 1580h0M366 1632h0M494 1636h0M258 1634h0M325 1695h0M360 1738h0M447 1575h0M406 1760h0M314 1644h0M453 1643h0M299 1668h0M403 1642h0M355 1644h0M320 1640h0M416 1553h0M347 1601h0M504 1594h0M549 1580h0M262 1606h0M330 1736h0M279 1638h0M346 1688h0M261 1612h0M400 1707h0M446 1732h0M284 1608h0M409 1558h0M446 1662h0M414 1690h0M451 1708h0M313 1609h0M408 1661h0M529 1581h0M378 1685h0M438 1597h0M411 1593h0M456 1600h0M460 1632h0M388 1661h0" stroke="#0d8af5" stroke-width="7.2" stroke-linecap="round" stroke-opacity=".8" fill="none"/>
<path d="M961 1763h0M971 1763h0M948 1733h0M965 1760h0M1022 1819h0M982 1752h0M969 1748h0M1008 1808h0M965 1763h0M971 1758h0M966 1746h0M944 1817h0M1021 1832h0M1005 1807h0M995 1781h0M1026 1817h0M954 1765h0M996 1766h0M1020 1809h0M982 1775h0M1022 1822h0M990 1767h0M975 1770h0M1008 1824h0M1007 1793h0M951 1735h0M1011 1797h0M1016 1821h0M992 1774h0M1021 1815h0M980 1835h0M999 1780h0M966 1826h0M920 1749h0M1011 1817h0M960 1774h0M985 1770h0M960 1735h0M983 1776h0M1013 1812h0M961 1746h0M941 1720h0M983 1842h0M952 1756h0M1023 1809h0M963 1751h0M962 1822h0M1017 1814h0M1008 1825h0M957 1748h0M973 1749h0M1010 1784h0M999 1767h0M1009 1818h0M978 1748h0M964 1748h0M970 1760h0M994 1762h0M959 1746h0M1015 1788h0M960 1733h0M1005 1823h0M992 1764h0M1010 1798h0M1008 1797h0M970 1756h0M963 1743h0M961 1768h0M958 1782h0M975 1759h0M948 1734h0M1002 1796h0M940 1722h0M966 1831h0M965 1834h0M970 1744h0M1018 1809h0M974 1837h0M976 1761h0M961 1757h0M945 1731h0M1007 1795h0M1016 1806h0M1017 1797h0M964 1742h0M1012 1818h0M1003 1797h0M1010 1817h0M973 1745h0M965 1739h0M978 1762h0M916 1743h0M964 1759h0M1016 1826h0M975 1750h0M994 1792h0M997 1781h0M1012 1796h0M1005 1779h0M1019 1832h0M1013 1783h0M1016 1788h0M994 1767h0M953 1728h0M936 1722h0M1016 1822h0M1009 1829h0M967 1840h0M1006 1811h0M957 1779h0M997 1794h0M999 1778h0M973 1824h0M980 1775h0M1004 1791h0M961 1734h0M1009 1802h0M968 1834h0M954 1738h0M944 1735h0M970 1765h0M992 1766h0M1025 1821h0M1008 1819h0M974 1828h0M968 1746h0M1004 1776h0M979 1751h0M993 1763h0M1009 1833h0M971 1830h0M1013 1785h0M1002 1801h0" stroke="#3228a0" stroke-width="7.2" stroke-linecap="round" stroke-opacity=".8" fill="none"/>
<path d="M716 1616h0M698 1656h0M711 1670h0M727 1663h0M697 1651h0M723 1692h0M761 1688h0M713 1572h0M672 1636h0M664 1634h0M722 1574h0M704 1564h0M746 1652h0M729 1668h0M711 1656h0M697 1563h0M711 1623h0M702 1680h0M724 1641h0M752 1676h0M713 1592h0M743 1560h0M693 1598h0M703 1562h0M684 1612h0M739 1687h0M688 1620h0M740 1653h0M736 1646h0M747 1574h0M719 1570h0M744 1659h0M708 1678h0M716 1651h0M727 1649h0M754 1691h0M689 1610h0M748 1676h0M707 1618h0M714 1674h0M733 1569h0M757 1693h0M741 1662h0M715 1562h0M744 1689h0M729 1579h0M664 1649h0M690 1613h0M761 1677h0M698 1575h0M707 1678h0M719 1655h0M709 1538h0M652 1629h0M721 1665h0M666 1626h0M718 1557h0M702 1645h0M661 1639h0M672 1606h0M697 1576h0M753 1666h0M698 1667h0M738 1546h0M737 1678h0M703 1617h0M713 1583h0M700 1568h0M735 1588h0M722 1656h0M721 1647h0M738 1572h0M732 1672h0M707 1584h0M744 1671h0M766 1675h0M728 1652h0M693 1658h0M727 1682h0M744 1681h0M660 1641h0M709 1652h0M737 1585h0M753 1650h0M700 1537h0M706 1632h0M717 1633h0M695 1652h0M704 1651h0M733 1571h0M710 1595h0M678 1599h0M711 1578h0M667 1670h0M699 1676h0M711 1596h0M751 1693h0M707 1551h0M730 1686h0M738 1668h0M709 1559h0M708 1618h0M645 1655h0M703 1651h0M663 1613h0M679 1635h0M724 1669h0M701 1559h0M761 1681h0M717 1670h0M742 1663h0M705 1535h0M767 1832h0M701 1661h0M731 1571h0M709 1635h0M746 1691h0M718 1681h0M673 1624h0M718 1533h0M740 1658h0M719 1564h0M728 1572h0M702 1664h0M712 1677h0M747 1649h0M737 1548h0M716 1678h0M711 1619h0M700 1649h0M703 1615h0M657 1636h0M721 1663h0M726 1543h0M688 1614h0M706 1656h0M737 1547h0M739 1566h0M699 1683h0M712 1618h0M735 1691h0M715 1658h0M696 1650h0M741 1695h0M690 1660h0M705 1629h0M723 1637h0M708 1682h0M705 1666h0M792 1837h0M748 1697h0M674 1600h0M702 1655h0M685 1636h0M735 1651h0M713 1643h0M717 1577h0M735 1651h0M700 1680h0M693 1622h0M681 1651h0M719 1556h0M713 1613h0M672 1610h0M714 1608h0M721 1690h0M666 1607h0M712 1555h0M715 1584h0M751 1656h0M750 1660h0M749 1566h0M741 1655h0M713 1553h0M721 1662h0M708 1600h0" stroke="#ff8c42" stroke-width="7.2" stroke-linecap="round" stroke-opacity=".8" fill="none"/>
<path d="M260 1549h0M291 1580h0M340 1550h0M148 1589h0M280 1584h0M165 1551h0M242 1406h0M239 1363h0M209 1611h0M158 1600h0M229 1590h0M249 1606h0M334 1507h0M168 1501h0M114 1551h0M245 1560h0M136 1554h0M222 1495h0M154 1567h0M156 1599h0M327 1576h0M264 1540h0M242 1561h0M193 1548h0M255 1529h0M216 1551h0M366 1533h0M292 1470h0M326 1511h0M264 1536h0M266 1565h0M270 1600h0M131 1533h0M211 1559h0M162 1518h0M358 1535h0M179 1582h0M278 1526h0M337 1549h0M195 1561h0M281 1464h0M287 1494h0M317 1483h0M171 1580h0M231 1511h0M308 1481h0M186 1552h0M312 1513h0M292 1604h0M196 1581h0M320 1528h0M197 1550h0M214 1590h0M132 1561h0M349 1535h0M253 1536h0M293 1482h0M234 1609h0M157 1531h0M217 1418h0M205 1488h0M232 1510h0M341 1509h0M172 1496h0M172 1573h0M238 1502h0M350 1537h0M250 1477h0M317 1581h0M175 1525h0M206 1497h0M573 1567h0M186 1582h0M249 1547h0M152 1597h0M140 1511h0M162 1494h0M247 1387h0M255 1535h0M318 1437h0M323 1391h0M357 1511h0M199 1614h0M211 1531h0M352 1470h0M200 1605h0M195 1593h0M246 1503h0M140 1524h0M174 1549h0M301 1467h0M160 1573h0M225 1592h0M172 1581h0M120 1536h0M246 1591h0M166 1593h0M195 1558h0M186 1549h0M285 1542h0M200 1632h0M318 1465h0M370 1555h0M206 1535h0M142 1601h0M361 1487h0M248 1495h0M143 1532h0M331 1532h0M358 1499h0M230 1627h0M165 1593h0M180 1626h0M193 1484h0M285 1485h0M225 1510h0M232 1556h0M197 1590h0M237 1535h0M291 1597h0M357 1484h0M247 1511h0M244 1511h0M187 1618h0M355 1469h0M195 1538h0M209 1400h0M362 1525h0M196 1649h0M187 1532h0M337 1598h0M140 1534h0M243 1492h0M281 1497h0M259 1547h0M267 1549h0M357 1498h0M177 1581h0M117 1560h0M173 1547h0M345 1466h0M217 1494h0M348 1536h0M268 1593h0M196 1501h0M171 1558h0M232 1556h0M245 1496h0M290 1465h0M301 1451h0M230 1652h0M348 1599h0M364 1497h0M294 1515h0M129 1513h0M247 1566h0M181 1563h0M185 1428h0M348 1539h0M117 1577h0M210 1563h0M332 1534h0M224 1623h0M175 1511h0" stroke="#5800b8" stroke-width="7.2" stroke-linecap="round" stroke-opacity=".8" fill="none"/>
<path d="M176 1543h0M354 1513h0M156 1602h0M275 1396h0M312 1421h0M119 1537h0M321 1519h0M153 1541h0M315 1480h0M150 1575h0M285 1510h0M324 1546h0M328 1498h0M188 1552h0M308 1571h0M274 1529h0M306 1411h0M315 1538h0M344 1493h0M255 1535h0M174 1602h0M169 1500h0M144 1560h0M174 1558h0M363 1538h0M166 1554h0M355 1476h0M327 1483h0M239 1511h0M309 1508h0M161 1508h0M154 1608h0M175 1526h0M351 1534h0M136 1514h0M201 1500h0M193 1511h0M243 1578h0M218 1384h0M189 1585h0M211 1625h0M278 1484h0M218 1371h0M147 1565h0M342 1482h0M330 1393h0M332 1550h0M195 1522h0M176 1540h0M183 1617h0M146 1578h0M219 1529h0M156 1544h0M192 1475h0M186 1609h0M297 1574h0M254 1480h0M251 1529h0M240 1540h0M358 1535h0M344 1519h0M233 1517h0M118 1579h0M214 1540h0M143 1582h0M238 1500h0M291 1491h0M193 1632h0M276 1506h0M113 1519h0M125 1581h0M143 1600h0M347 1499h0M289 1428h0M250 1495h0M184 1512h0M287 1534h0M178 1600h0M329 1500h0M355 1508h0M191 1490h0M326 1399h0M206 1525h0M184 1588h0M334 1520h0M328 1488h0M198 1481h0M269 1509h0M209 1606h0M303 1531h0M222 1541h0M326 1454h0M355 1473h0M267 1565h0M204 1595h0M121 1521h0M251 1573h0M209 1527h0M245 1568h0M243 1501h0M304 1517h0M214 1531h0M223 1536h0M244 1585h0M264 1466h0M154 1589h0M208 1633h0M182 1531h0M216 1556h0M271 1491h0M282 1488h0M191 1585h0M171 1611h0M216 1458h0M191 1521h0M215 1535h0M258 1533h0M280 1541h0M159 1588h0M199 1622h0M306 1451h0M166 1560h0M296 1525h0M156 1536h0M287 1504h0M306 1541h0M285 1413h0M250 1560h0M230 1641h0M212 1588h0M241 1529h0M317 1506h0M223 1506h0M282 1503h0M332 1467h0M252 1380h0M194 1528h0M341 1461h0M195 1489h0M165 1485h0M155 1552h0M199 1512h0M329 1474h0M286 1523h0M193 1498h0M179 1575h0M333 1506h0M301 1374h0M216 1488h0M208 1508h0M278 1361h0M213 1580h0M176 1603h0M186 1499h0M366 1539h0M160 1572h0M195 1600h0M208 1493h0M116 1563h0M219 1531h0M321 1527h0M332 1465h0M326 1541h0M177 1495h0M303 1420h0" stroke="#5800b8" stroke-width="7.2" stroke-linecap="round" stroke-opacity=".8" fill="none"/>
<path d="M352 1273h0M414 1291h0M280 1394h0M329 1222h0M364 1237h0M338 1259h0M232 1300h0M423 1195h0M378 1281h0M321 1191h0M351 1217h0M256 1172h0M400 1174h0M233 1287h0M332 1281h0M394 1215h0M382 1207h0M306 1342h0M313 1282h0M305 1196h0M309 1230h0M221 1228h0M240 1301h0M353 1209h0M335 1331h0M289 1212h0M395 1241h0M297 1360h0M230 1195h0M243 1188h0M270 1173h0M414 1219h0M285 1177h0M426 1302h0M315 1295h0M329 1328h0M395 1240h0M383 1188h0M437 1254h0M254 1222h0M378 1227h0M295 1295h0M326 1278h0M282 1303h0M425 1211h0M261 1379h0M264 1212h0M277 1283h0M254 1189h0M401 1275h0M331 1234h0M246 1218h0M350 1299h0M322 1275h0M422 1216h0M339 1255h0M228 1221h0M307 1182h0M346 1281h0M357 1304h0M333 1350h0M290 1281h0M453 1285h0M312 1250h0M268 1375h0M281 1270h0M259 1344h0M284 1194h0M350 1301h0M415 1186h0M245 1375h0M368 1258h0M295 1348h0M228 1245h0M323 1206h0M218 1272h0M450 1275h0M400 1326h0M271 1195h0M288 1258h0M302 1191h0M295 1198h0M317 1188h0M429 1301h0M302 1237h0M305 1176h0M275 1173h0M320 1239h0M353 1202h0M272 1312h0M452 1272h0M398 1224h0M435 1195h0M403 1250h0M284 1297h0M281 1394h0M326 1306h0M242 1270h0M328 1271h0M389 1281h0M415 1181h0M288 1152h0M227 1327h0M310 1286h0M272 1172h0M273 1167h0M395 1190h0M233 1191h0M368 1283h0M295 1305h0M259 1197h0M261 1257h0M264 1297h0M308 1271h0M263 1359h0M301 1249h0M306 1253h0M275 1272h0M446 1254h0M460 1264h0M270 1238h0M347 1233h0M299 1223h0M308 1267h0M269 1324h0M338 1253h0M257 1220h0M241 1179h0M231 1316h0M259 1294h0M250 1298h0M275 1226h0M268 1241h0M418 1302h0M260 1226h0M374 1238h0M268 1239h0M230 1262h0M385 1322h0M370 1347h0M297 1166h0M252 1295h0M366 1342h0M322 1279h0M293 1356h0M447 1255h0M349 1255h0M374 1293h0M302 1244h0M280 1173h0M276 1273h0M253 1191h0M377 1198h0M398 1319h0M302 1211h0M311 1351h0M232 1193h0M400 1244h0M281 1227h0M281 1234h0M244 1189h0M385 1351h0M436 1260h0M314 1298h0M272 1321h0M274 1223h0" stroke="#8db54b" stroke-width="7.2" stroke-linecap="round" stroke-opacity=".8" fill="none"/>
<path d="M721 1620h0M693 1646h0M706 1589h0M726 1545h0M690 1621h0M754 1673h0M750 1663h0M734 1681h0M728 1654h0M712 1666h0M680 1642h0M699 1654h0M699 1656h0M682 1635h0M706 1648h0M732 1580h0M700 1618h0M711 1552h0M733 1647h0M723 1639h0M705 1553h0M727 1539h0M702 1644h0M735 1652h0M730 1560h0M735 1668h0M722 1642h0M702 1609h0M678 1606h0M712 1654h0M686 1651h0M675 1616h0M735 1561h0M695 1674h0M721 1588h0M732 1684h0M712 1561h0M709 1589h0M744 1576h0M706 1562h0M694 1609h0M660 1642h0M737 1656h0M708 1589h0M712 1682h0M661 1627h0M702 1570h0M678 1610h0M748 1692h0M678 1599h0M723 1694h0M728 1652h0M708 1684h0M702 1572h0M678 1634h0M711 1601h0M708 1659h0M688 1645h0M728 1671h0M666 1618h0M706 1614h0M748 1688h0M696 1633h0M723 1649h0M708 1685h0M735 1683h0M611 1659h0M680 1633h0M694 1663h0M710 1643h0M707 1557h0M737 1658h0M738 1605h0M721 1662h0M710 1637h0M660 1643h0M709 1569h0M738 1571h0M719 1650h0M736 1657h0M742 1641h0M687 1619h0M680 1631h0M670 1624h0M716 1620h0M698 1661h0M723 1665h0M758 1673h0M735 1661h0M726 1589h0M693 1627h0M710 1670h0M744 1546h0M689 1646h0M708 1608h0M694 1639h0M665 1606h0M699 1611h0M708 1566h0M713 1611h0M755 1693h0M727 1579h0M672 1643h0M736 1650h0M726 1639h0M716 1586h0M726 1670h0M726 1577h0M743 1659h0M703 1657h0M723 1651h0M690 1621h0M745 1698h0M688 1649h0M704 1684h0M729 1573h0M757 1680h0M743 1549h0M702 1678h0M738 1667h0M670 1625h0M731 1649h0M735 1699h0M727 1648h0M738 1659h0M690 1644h0M716 1615h0M711 1605h0M719 1564h0M715 1692h0M662 1631h0M704 1649h0M731 1574h0M719 1633h0M739 1647h0M670 1613h0M696 1627h0M714 1572h0M629 1654h0M674 1608h0M659 1637h0M721 1566h0M686 1651h0M726 1550h0M720 1649h0M667 1617h0M703 1652h0M740 1686h0M722 1584h0M734 1698h0M700 1633h0M721 1665h0M694 1635h0M694 1682h0M696 1581h0M710 1621h0M701 1613h0M662 1640h0M703 1670h0M765 1678h0M733 1655h0M724 1644h0M689 1621h0M740 1691h0M662 1620h0M706 1592h0M744 1691h0M750 1703h0M715 1661h0M724 1662h0M639 1639h0M733 1552h0M681 1638h0M748 1650h0M744 1557h0" stroke="#ff8c42" stroke-width="7.2" stroke-linecap="round" stroke-opacity=".8" fill="none"/>
<path d="M616 1521h0M686 1498h0M538 1551h0M653 1473h0M625 1599h0M601 1524h0M668 1515h0M663 1483h0M659 1508h0M655 1520h0M646 1525h0M633 1592h0M642 1566h0M615 1603h0M602 1596h0M568 1502h0M518 1495h0M616 1531h0M574 1555h0M654 1524h0M690 1490h0M561 1467h0M559 1548h0M570 1514h0M587 1523h0M604 1533h0M504 1501h0M510 1504h0M616 1578h0M559 1512h0M616 1505h0M526 1479h0M604 1575h0M543 1541h0M643 1525h0M520 1491h0M611 1552h0M565 1517h0M598 1563h0M630 1477h0M649 1500h0M542 1518h0M632 1506h0M675 1471h0M538 1473h0M620 1508h0M598 1537h0M618 1473h0M653 1557h0M584 1503h0M599 1517h0M640 1554h0M569 1558h0M524 1507h0M554 1548h0M603 1523h0M597 1541h0M648 1603h0M613 1501h0M584 1477h0M547 1490h0M559 1507h0M668 1486h0M546 1493h0M574 1468h0M631 1479h0M643 1580h0M689 1499h0M577 1503h0M626 1486h0M657 1523h0M566 1484h0M533 1526h0M519 1489h0M529 1541h0M640 1576h0M617 1473h0M633 1582h0M591 1488h0M582 1465h0M505 1486h0M644 1565h0M651 1498h0M554 1504h0M603 1581h0M546 1503h0M550 1558h0M556 1546h0M560 1464h0M574 1561h0M634 1505h0M554 1555h0M578 1476h0M599 1527h0M588 1481h0M632 1587h0M579 1556h0M649 1584h0M574 1468h0M645 1511h0M641 1515h0M640 1501h0M529 1545h0M606 1578h0M640 1528h0M633 1465h0M633 1606h0M523 1544h0M567 1476h0M606 1493h0M649 1562h0M606 1544h0M564 1487h0M638 1581h0M612 1544h0M578 1462h0M619 1522h0M644 1589h0M617 1585h0M547 1510h0M604 1523h0M627 1482h0M611 1581h0M509 1513h0M586 1505h0M488 1530h0M674 1488h0M625 1511h0M627 1598h0M602 1552h0M646 1562h0M616 1508h0M514 1500h0M594 1507h0M653 1592h0M610 1582h0M605 1478h0M524 1484h0M642 1479h0M673 1508h0M573 1479h0M577 1523h0M552 1489h0M619 1545h0M626 1518h0M561 1552h0M633 1601h0M649 1556h0M634 1613h0M641 1530h0M622 1524h0M620 1522h0M544 1540h0M596 1483h0M553 1512h0M568 1475h0M667 1483h0M533 1542h0M607 1476h0M526 1476h0M670 1470h0M538 1540h0M629 1599h0M662 1559h0M611 1478h0M644 1511h0M627 1504h0M590 1510h0M636 1495h0M591 1492h0M654 1512h0M570 1471h0M635 1479h0M587 1466h0M559 1465h0M615 1515h0M579 1493h0M516 1479h0M678 1503h0M621 1608h0M581 1551h0" stroke="#e59a45" stroke-width="7.2" stroke-linecap="round" stroke-opacity=".8" fill="none"/>
<path d="M349 1463h0M283 1539h0M166 1619h0M277 1475h0M185 1484h0M274 1480h0M340 1512h0M191 1530h0M278 1543h0M220 1517h0M149 1544h0M292 1546h0M310 1517h0M274 1438h0M275 1571h0M191 1484h0M297 1516h0M266 1505h0M171 1514h0M346 1491h0M310 1527h0M160 1498h0M197 1580h0M228 1583h0M351 1545h0M218 1554h0M154 1555h0M256 1503h0M238 1605h0M228 1587h0M168 1555h0M284 1477h0M249 1520h0M320 1495h0M129 1544h0M129 1508h0M200 1634h0M253 1495h0M199 1617h0M117 1566h0M314 1519h0M205 1516h0M356 1526h0M357 1469h0M162 1488h0M326 1528h0M361 1520h0M307 1528h0M292 1377h0M148 1573h0M164 1522h0M278 1504h0M253 1633h0M272 1567h0M389 1521h0M239 1527h0M333 1474h0M352 1524h0M139 1544h0M334 1478h0M288 1513h0M174 1478h0M283 1494h0M244 1497h0M181 1573h0M326 1477h0M310 1586h0M124 1568h0M186 1618h0M180 1611h0M143 1590h0M348 1537h0M226 1572h0M209 1525h0M326 1554h0M232 1599h0M222 1475h0M361 1529h0M204 1523h0M201 1606h0M283 1577h0M283 1554h0M160 1491h0M242 1515h0M165 1601h0M318 1483h0M285 1472h0M213 1497h0M234 1614h0M317 1500h0M128 1566h0M302 1483h0M194 1626h0M326 1561h0M200 1613h0M221 1467h0M208 1547h0M264 1394h0M189 1540h0M219 1628h0M297 1497h0M198 1584h0M211 1497h0M372 1521h0M282 1488h0M268 1531h0M186 1542h0M179 1503h0M177 1545h0M283 1512h0M210 1569h0M368 1540h0M344 1511h0M248 1565h0M335 1524h0M263 1529h0M278 1494h0M319 1590h0M308 1539h0M144 1607h0M183 1622h0M335 1547h0M237 1371h0M279 1423h0M293 1570h0M142 1565h0M276 1440h0M143 1538h0M117 1530h0M304 1462h0M298 1477h0M189 1622h0M150 1502h0M319 1504h0M139 1555h0M281 1535h0M324 1567h0M359 1540h0M355 1536h0M128 1544h0M218 1482h0M241 1511h0M363 1493h0M166 1546h0M147 1536h0M236 1611h0M223 1609h0M280 1511h0M189 1523h0M347 1471h0M177 1492h0M177 1517h0M221 1603h0M375 1514h0M183 1542h0M224 1445h0M158 1526h0M130 1595h0M197 1549h0M280 1481h0M243 1555h0M283 1487h0M240 1580h0M286 1487h0M266 1529h0" stroke="#5800b8" stroke-width="7.2" stroke-linecap="round" stroke-opacity=".8" fill="none"/>
<path d="M413 1196h0M226 1262h0M392 1333h0M261 1234h0M408 1224h0M299 1287h0M392 1244h0M319 1297h0M347 1313h0M337 1297h0M419 1263h0M431 1250h0M243 1200h0M433 1259h0M242 1219h0M322 1244h0M368 1189h0M365 1338h0M270 1245h0M227 1320h0M305 1270h0M249 1254h0M229 1215h0M298 1268h0M332 1250h0M318 1295h0M336 1275h0M367 1348h0M281 1300h0M370 1199h0M378 1293h0M285 1307h0M262 1291h0M334 1247h0M307 1221h0M343 1340h0M246 1332h0M228 1261h0M246 1362h0M439 1254h0M254 1283h0M385 1233h0M253 1268h0M229 1206h0M263 1202h0M299 1302h0M356 1203h0M319 1278h0M297 1196h0M390 1294h0M422 1331h0M370 1196h0M295 1210h0M249 1382h0M352 1323h0M354 1269h0M311 1182h0M386 1304h0M353 1275h0M274 1176h0M300 1152h0M374 1250h0M441 1285h0M273 1222h0M416 1240h0M433 1232h0M263 1222h0M232 1191h0M418 1270h0M346 1231h0M353 1255h0M273 1183h0M312 1368h0M346 1308h0M322 1277h0M269 1267h0M225 1186h0M427 1249h0M384 1283h0M289 1273h0M427 1241h0M386 1290h0M279 1211h0M255 1353h0M414 1280h0M261 1225h0M262 1293h0M255 1211h0M299 1191h0M256 1321h0M437 1235h0M233 1281h0M241 1378h0M395 1232h0M284 1387h0M257 1277h0M244 1284h0M265 1383h0M266 1306h0M373 1303h0M288 1349h0M271 1230h0M375 1349h0M441 1227h0M462 1264h0M280 1244h0M348 1268h0M317 1284h0M271 1370h0M319 1227h0M251 1182h0M443 1286h0M431 1268h0M385 1251h0M317 1280h0M386 1269h0M427 1336h0M259 1259h0M306 1182h0M347 1271h0M281 1379h0M275 1233h0M294 1286h0M408 1303h0M412 1233h0M324 1320h0M345 1328h0M422 1194h0M343 1238h0M414 1262h0M285 1273h0M381 1322h0M374 1221h0M372 1241h0M350 1211h0M259 1293h0M253 1319h0M346 1303h0M405 1299h0M418 1286h0M390 1304h0M219 1270h0M386 1201h0M295 1260h0M330 1294h0M422 1284h0M382 1349h0M388 1337h0M395 1299h0M263 1309h0M261 1367h0M279 1233h0M409 1259h0M417 1180h0M369 1306h0M256 1194h0M398 1290h0M320 1254h0M270 1220h0M399 1220h0M252 1227h0M307 1343h0M288 1175h0M378 1358h0M374 1273h0M288 1208h0" stroke="#8db54b" stroke-width="7.2" stroke-linecap="round" stroke-opacity=".8" fill="none"/>
<path d="M439 1251h0M435 1241h0M318 1259h0M300 1264h0M283 1205h0M274 1211h0M429 1237h0M276 1281h0M425 1271h0M240 1253h0M359 1362h0M347 1220h0M325 1285h0M262 1388h0M360 1289h0M274 1180h0M369 1328h0M370 1206h0M431 1260h0M261 1172h0M371 1296h0M237 1179h0M282 1313h0M448 1262h0M240 1218h0M335 1238h0M434 1290h0M265 1199h0M306 1205h0M399 1222h0M362 1272h0M299 1366h0M286 1234h0M324 1228h0M431 1275h0M338 1248h0M322 1277h0M376 1243h0M376 1208h0M300 1348h0M396 1273h0M362 1234h0M297 1236h0M374 1264h0M343 1293h0M257 1302h0M405 1273h0M272 1371h0M287 1313h0M216 1231h0M398 1228h0M449 1276h0M395 1276h0M292 1182h0M252 1272h0M315 1220h0M401 1205h0M444 1239h0M311 1230h0M386 1338h0M429 1229h0M258 1220h0M429 1293h0M240 1279h0M239 1235h0M262 1239h0M281 1207h0M296 1209h0M401 1272h0M310 1287h0M337 1254h0M380 1242h0M298 1182h0M315 1277h0M267 1301h0M226 1195h0M404 1290h0M265 1265h0M374 1204h0M318 1240h0M227 1275h0M320 1352h0M305 1188h0M273 1358h0M360 1198h0M271 1206h0M335 1225h0M363 1281h0M283 1260h0M316 1286h0M279 1195h0M399 1180h0M354 1242h0M249 1221h0M344 1285h0M305 1311h0M244 1224h0M462 1276h0M297 1307h0M334 1268h0M295 1278h0M260 1175h0M289 1229h0M401 1270h0M396 1264h0M391 1260h0M323 1287h0M274 1247h0M412 1308h0M308 1310h0M278 1232h0M269 1309h0M267 1283h0M251 1338h0M235 1201h0M300 1194h0M296 1175h0M357 1213h0M330 1247h0M308 1220h0M265 1253h0M300 1229h0M229 1298h0M248 1340h0M261 1271h0M398 1304h0M271 1211h0M406 1341h0M288 1163h0M331 1306h0M272 1299h0M424 1207h0M402 1181h0M347 1331h0M400 1173h0M274 1164h0M316 1228h0M232 1320h0M402 1315h0M326 1336h0M300 1362h0M222 1284h0M277 1260h0M388 1286h0M242 1282h0M299 1256h0M269 1259h0M241 1274h0M274 1254h0M429 1265h0M416 1250h0M310 1369h0M376 1234h0M361 1278h0M286 1271h0M357 1253h0M412 1202h0M358 1249h0M322 1343h0M340 1228h0M271 1372h0M430 1254h0M436 1266h0M340 1260h0M387 1222h0M300 1282h0" stroke="#8db54b" stroke-width="7.2" stroke-linecap="round" stroke-opacity=".8" fill="none"/>
<path d="M168 1590h0M339 1594h0M352 1501h0M242 1575h0M203 1545h0M168 1484h0M352 1590h0M291 1515h0M276 1521h0M353 1548h0M174 1512h0M360 1494h0M258 1575h0M224 1517h0M325 1466h0M179 1529h0M323 1508h0M148 1559h0M340 1541h0M219 1504h0M263 1454h0M341 1512h0M282 1417h0M199 1518h0M204 1491h0M399 1523h0M203 1518h0M286 1390h0M324 1525h0M170 1505h0M214 1528h0M189 1598h0M301 1564h0M223 1590h0M154 1517h0M186 1595h0M248 1497h0M133 1517h0M206 1477h0M278 1496h0M227 1573h0M295 1504h0M296 1548h0M137 1565h0M172 1533h0M233 1472h0M310 1548h0M349 1560h0M266 1485h0M198 1534h0M213 1513h0M325 1512h0M205 1540h0M278 1525h0M238 1612h0M183 1528h0M227 1560h0M283 1486h0M218 1498h0M214 1478h0M216 1408h0M277 1518h0M331 1494h0M188 1546h0M340 1562h0M228 1565h0M230 1484h0M289 1506h0M218 1376h0M241 1554h0M255 1547h0M254 1547h0M183 1516h0M178 1483h0M172 1626h0M327 1466h0M370 1506h0M225 1365h0M212 1617h0M175 1614h0M230 1513h0M276 1509h0M346 1490h0M176 1623h0M356 1542h0M242 1488h0M138 1497h0M296 1600h0M197 1481h0M209 1596h0M194 1586h0M236 1498h0M294 1462h0M344 1489h0M266 1492h0M121 1545h0M137 1521h0M186 1492h0M269 1594h0M256 1550h0M212 1571h0M325 1479h0M298 1402h0M143 1550h0M158 1620h0M190 1588h0M153 1560h0M226 1549h0M240 1516h0M222 1514h0M295 1445h0M170 1522h0M143 1525h0M231 1558h0M269 1529h0M286 1529h0M186 1538h0M362 1526h0M240 1512h0M229 1622h0M146 1571h0M153 1593h0M333 1607h0M185 1559h0M208 1538h0M368 1509h0M191 1599h0M155 1491h0M158 1494h0M313 1432h0M157 1543h0M153 1516h0M198 1615h0M179 1598h0M204 1494h0M349 1547h0M231 1397h0M276 1520h0M238 1523h0M226 1535h0M191 1571h0M148 1548h0M216 1606h0M324 1531h0M333 1467h0M201 1526h0M275 1397h0M220 1590h0M292 1383h0M308 1548h0M248 1566h0M330 1565h0M162 1528h0M224 1613h0M160 1507h0M207 1571h0M229 1611h0M304 1467h0M149 1556h0M353 1489h0M188 1627h0M159 1535h0M221 1578h0M257 1555h0M177 1588h0" stroke="#5800b8" stroke-width="7.2" stroke-linecap="round" stroke-opacity=".8" fill="none"/>
<path d="M624 1561h0M568 1501h0M566 1547h0M564 1488h0M639 1521h0M591 1560h0M651 1588h0M595 1476h0M552 1512h0M687 1499h0M636 1508h0M541 1547h0M619 1560h0M628 1520h0M583 1488h0M595 1492h0M619 1566h0M575 1468h0M580 1556h0M677 1561h0M599 1530h0M651 1470h0M531 1500h0M597 1493h0M543 1537h0M624 1576h0M592 1593h0M561 1487h0M611 1597h0M590 1534h0M601 1587h0M595 1523h0M679 1475h0M642 1578h0M641 1507h0M612 1540h0M612 1600h0M589 1588h0M533 1496h0M645 1486h0M605 1569h0M670 1566h0M613 1585h0M609 1586h0M524 1535h0M645 1513h0M600 1550h0M603 1540h0M511 1516h0M556 1470h0M619 1590h0M652 1484h0M619 1483h0M626 1494h0M572 1557h0M688 1503h0M663 1489h0M643 1579h0M626 1469h0M618 1473h0M589 1589h0M582 1580h0M601 1608h0M620 1514h0M616 1493h0M583 1579h0M546 1480h0M652 1565h0M591 1561h0M581 1531h0M616 1561h0M611 1479h0M503 1532h0M590 1521h0M590 1531h0M529 1499h0M679 1505h0M646 1599h0M611 1532h0M514 1485h0M623 1609h0M637 1537h0M621 1558h0M521 1520h0M579 1462h0M646 1511h0M643 1481h0M616 1477h0M580 1577h0M633 1535h0M574 1474h0M627 1475h0M616 1488h0M654 1484h0M563 1548h0M539 1529h0M636 1589h0M515 1493h0M617 1537h0M587 1539h0M623 1505h0M504 1489h0M648 1491h0M638 1507h0M520 1547h0M543 1478h0M579 1496h0M664 1498h0M583 1511h0M638 1591h0M595 1498h0M553 1470h0M576 1518h0M600 1589h0M627 1497h0M591 1519h0M625 1468h0M566 1464h0M588 1506h0M573 1557h0M531 1536h0M626 1538h0M621 1523h0M650 1591h0M685 1496h0M660 1577h0M507 1502h0M645 1556h0M542 1474h0M619 1590h0M505 1514h0M592 1484h0M620 1556h0M584 1512h0M574 1496h0M685 1490h0M509 1482h0M508 1506h0M593 1568h0M625 1469h0M612 1538h0M621 1573h0M676 1488h0M550 1500h0M588 1587h0M572 1516h0M518 1543h0M551 1514h0M680 1501h0M626 1597h0M599 1630h0M641 1496h0M655 1471h0M619 1568h0M583 1548h0M589 1507h0M617 1545h0M589 1472h0M652 1583h0M520 1518h0M648 1589h0M627 1521h0M532 1503h0M642 1567h0M636 1595h0M632 1477h0M631 1548h0M685 1500h0M553 1516h0M546 1526h0M649 1529h0M519 1526h0M612 1585h0M573 1472h0M565 1493h0M627 1532h0M498 1506h0M540 1536h0M648 1475h0M567 1477h0M585 1579h0" stroke="#e59a45" stroke-width="7.2" stroke-linecap="round" stroke-opacity=".8" fill="none"/>
<path d="M126 1573h0M257 1520h0M254 1533h0M249 1512h0M284 1533h0M157 1491h0M148 1555h0M281 1599h0M232 1482h0M183 1612h0M135 1538h0M286 1483h0M284 1542h0M199 1527h0M238 1492h0M223 1519h0M334 1538h0M112 1558h0M281 1529h0M306 1467h0M324 1498h0M240 1398h0M183 1499h0M234 1513h0M176 1515h0M261 1579h0M348 1586h0M271 1507h0M230 1491h0M357 1562h0M292 1535h0M192 1575h0M177 1592h0M260 1404h0M151 1573h0M374 1565h0M222 1448h0M366 1543h0M331 1511h0M302 1569h0M362 1578h0M136 1580h0M218 1656h0M345 1462h0M186 1514h0M209 1603h0M260 1553h0M268 1501h0M332 1501h0M254 1531h0M220 1577h0M190 1620h0M174 1497h0M176 1618h0M295 1535h0M193 1571h0M154 1537h0M298 1489h0M146 1517h0M205 1502h0M218 1481h0M205 1578h0M302 1468h0M300 1561h0M364 1518h0M263 1368h0M268 1511h0M124 1540h0M229 1463h0M286 1554h0M135 1546h0M266 1486h0M268 1576h0M130 1505h0M255 1526h0M297 1533h0M230 1583h0M130 1600h0M257 1383h0M186 1584h0M232 1398h0M256 1579h0M252 1532h0M136 1579h0M136 1545h0M286 1426h0M348 1491h0M299 1496h0M145 1601h0M245 1562h0M212 1593h0M238 1533h0M205 1540h0M291 1433h0M336 1601h0M226 1525h0M114 1520h0M211 1531h0M208 1627h0M188 1512h0M165 1490h0M225 1584h0M255 1553h0M233 1577h0M315 1562h0M270 1495h0M355 1481h0M206 1648h0M221 1375h0M110 1531h0M141 1540h0M188 1528h0M339 1532h0M284 1459h0M336 1556h0M183 1503h0M314 1544h0M332 1546h0M229 1584h0M256 1513h0M242 1557h0M342 1530h0M236 1644h0M366 1499h0M199 1605h0M156 1573h0M251 1517h0M177 1501h0M293 1414h0M184 1560h0M321 1405h0M213 1375h0M176 1486h0M134 1544h0M354 1491h0M325 1481h0M124 1584h0M144 1506h0M238 1427h0M219 1489h0M334 1598h0M237 1489h0M233 1521h0M197 1576h0M159 1545h0M377 1524h0M277 1597h0M134 1509h0M232 1602h0M204 1550h0M174 1482h0M167 1525h0M286 1467h0M377 1569h0M222 1565h0M267 1497h0M282 1523h0M192 1482h0M153 1483h0M324 1603h0M319 1555h0M221 1515h0M240 1489h0M152 1527h0" stroke="#5800b8" stroke-width="7.2" stroke-linecap="round" stroke-opacity=".8" fill="none"/>
<path d="M539 1610h0M412 1640h0M448 1621h0M454 1573h0M561 1649h0M399 1719h0M532 1631h0M327 1661h0M390 1630h0M328 1615h0M361 1683h0M387 1586h0M464 1747h0M322 1639h0M260 1675h0M504 1622h0M461 1575h0M539 1654h0M309 1714h0M347 1716h0M459 1587h0M542 1603h0M289 1678h0M296 1713h0M386 1677h0M486 1727h0M369 1681h0M362 1707h0M504 1629h0M394 1764h0M524 1565h0M489 1716h0M481 1633h0M445 1672h0M362 1733h0M443 1681h0M412 1651h0M284 1618h0M279 1678h0M474 1633h0M441 1664h0M298 1709h0M401 1740h0M326 1640h0M471 1714h0M275 1617h0M357 1725h0M401 1665h0M398 1591h0M337 1742h0M488 1652h0M369 1622h0M379 1578h0M337 1743h0M480 1573h0M470 1668h0M375 1556h0M366 1692h0M513 1561h0M323 1765h0M351 1654h0M524 1611h0M385 1676h0M477 1680h0M393 1697h0M381 1783h0M439 1769h0M376 1676h0M402 1706h0M364 1646h0M458 1594h0M378 1635h0M529 1572h0M315 1607h0M282 1715h0M292 1649h0M382 1578h0M277 1694h0M411 1590h0M319 1635h0M520 1614h0M392 1681h0M466 1565h0M360 1691h0M343 1630h0M469 1658h0M527 1596h0M550 1632h0M444 1717h0M517 1600h0M480 1541h0M257 1652h0M360 1715h0M450 1645h0M475 1682h0M405 1621h0M301 1679h0M466 1591h0M547 1616h0M465 1683h0M334 1714h0M401 1647h0M338 1634h0M475 1691h0M353 1734h0M280 1692h0M402 1683h0M395 1771h0M478 1645h0M500 1642h0M422 1574h0M427 1666h0M512 1674h0M522 1548h0M383 1717h0M374 1698h0M332 1721h0M455 1653h0M434 1609h0M435 1569h0M434 1597h0M448 1622h0M367 1611h0M490 1615h0M456 1651h0M357 1621h0M351 1589h0M391 1684h0M499 1579h0M487 1624h0M348 1699h0M332 1768h0M368 1774h0M295 1679h0M368 1675h0M393 1629h0M350 1620h0M393 1552h0M508 1589h0M276 1636h0M392 1769h0M342 1759h0M327 1729h0M505 1598h0M474 1729h0M316 1625h0M342 1606h0M359 1637h0M376 1734h0M429 1556h0M376 1600h0M313 1650h0M301 1715h0M384 1717h0M450 1653h0M463 1600h0M561 1585h0M445 1646h0M345 1593h0M301 1609h0M373 1553h0M476 1677h0M435 1599h0M581 1602h0M456 1604h0" stroke="#0d8af5" stroke-width="7.2" stroke-linecap="round" stroke-opacity=".8" fill="none"/>
<path d="M333 1649h0M290 1714h0M462 1577h0M551 1652h0M371 1742h0M320 1736h0M352 1624h0M383 1619h0M293 1739h0M272 1677h0M413 1680h0M505 1556h0M341 1662h0M396 1656h0M449 1662h0M404 1567h0M385 1640h0M538 1630h0M302 1625h0M454 1634h0M329 1617h0M357 1626h0M285 1713h0M399 1584h0M536 1533h0M510 1571h0M329 1673h0M366 1582h0M378 1739h0M369 1630h0M422 1764h0M405 1592h0M323 1632h0M494 1634h0M264 1609h0M428 1699h0M383 1595h0M388 1603h0M443 1622h0M532 1605h0M361 1593h0M433 1627h0M380 1710h0M338 1723h0M537 1581h0M473 1623h0M322 1626h0M260 1679h0M450 1567h0M425 1682h0M422 1594h0M328 1667h0M449 1724h0M427 1631h0M441 1639h0M410 1614h0M270 1635h0M502 1567h0M465 1686h0M475 1735h0M511 1560h0M282 1663h0M425 1558h0M416 1740h0M492 1547h0M289 1734h0M529 1569h0M548 1577h0M325 1674h0M241 1649h0M546 1636h0M410 1612h0M540 1653h0M412 1773h0M429 1583h0M569 1641h0M489 1608h0M370 1608h0M416 1770h0M579 1628h0M520 1581h0M345 1607h0M433 1612h0M542 1574h0M415 1720h0M552 1664h0M375 1626h0M315 1720h0M414 1664h0M284 1621h0M319 1768h0M262 1604h0M377 1687h0M326 1630h0M393 1695h0M487 1571h0M493 1653h0M467 1723h0M560 1594h0M432 1607h0M209 1648h0M285 1694h0M276 1636h0M304 1682h0M566 1616h0M339 1625h0M492 1687h0M329 1732h0M495 1658h0M438 1776h0M315 1599h0M521 1565h0M362 1707h0M462 1749h0M396 1649h0M293 1600h0M502 1618h0M372 1708h0M371 1632h0M413 1592h0M319 1629h0M540 1577h0M445 1714h0M502 1646h0M470 1659h0M539 1602h0M375 1619h0M362 1645h0M314 1593h0M340 1589h0M334 1693h0M432 1678h0M474 1565h0M289 1676h0M500 1615h0M350 1620h0M351 1636h0M281 1602h0M342 1721h0M528 1554h0M282 1709h0M465 1566h0M514 1644h0M529 1632h0M487 1650h0M425 1580h0M348 1626h0M509 1617h0M246 1659h0M359 1588h0M371 1580h0M480 1574h0M404 1610h0M565 1626h0M511 1655h0M371 1668h0M343 1582h0M437 1622h0M332 1757h0M443 1775h0M364 1626h0M533 1675h0M249 1651h0M272 1671h0M401 1687h0" stroke="#0d8af5" stroke-width="7.2" stroke-linecap="round" stroke-opacity=".8" fill="none"/>
<path d="M640 1491h0M630 1545h0M518 1520h0M561 1521h0M530 1519h0M622 1517h0M613 1544h0M591 1526h0M612 1597h0M580 1480h0M538 1522h0M511 1495h0M525 1476h0M559 1539h0M628 1567h0M630 1535h0M637 1576h0M643 1465h0M578 1499h0M645 1489h0M567 1484h0M622 1550h0M542 1524h0M629 1516h0M633 1583h0M591 1535h0M562 1496h0M685 1492h0M635 1571h0M605 1542h0M501 1528h0M644 1514h0M581 1480h0M652 1589h0M659 1472h0M598 1490h0M614 1603h0M638 1501h0M527 1543h0M531 1541h0M584 1539h0M575 1525h0M687 1508h0M670 1501h0M586 1506h0M518 1480h0M588 1579h0M529 1512h0M513 1503h0M646 1471h0M686 1492h0M541 1477h0M613 1501h0M619 1584h0M563 1454h0M543 1572h0M635 1537h0M624 1526h0M521 1502h0M596 1509h0M686 1483h0M514 1485h0M617 1529h0M572 1578h0M565 1484h0M504 1522h0M622 1590h0M549 1511h0M619 1526h0M570 1463h0M593 1557h0M629 1557h0M615 1522h0M632 1558h0M573 1467h0M633 1512h0M550 1515h0M537 1571h0M515 1511h0M527 1511h0M674 1477h0M641 1533h0M620 1490h0M512 1494h0M599 1544h0M608 1572h0M641 1493h0M630 1501h0M560 1494h0M549 1533h0M528 1501h0M624 1598h0M616 1543h0M610 1540h0M615 1511h0M678 1474h0M635 1555h0M566 1603h0M656 1521h0M662 1471h0M668 1477h0M583 1523h0M555 1526h0M571 1544h0M593 1537h0M575 1479h0M598 1560h0M644 1493h0M602 1551h0M629 1602h0M603 1591h0M629 1549h0M638 1607h0M504 1524h0M585 1477h0M509 1506h0M575 1578h0M637 1477h0M656 1475h0M581 1500h0M538 1570h0M540 1500h0M631 1494h0M551 1531h0M631 1480h0M540 1522h0M554 1545h0M655 1460h0M589 1568h0M541 1489h0M545 1492h0M599 1563h0M541 1503h0M634 1477h0M678 1487h0M533 1536h0M628 1594h0M619 1510h0M627 1546h0M623 1471h0M580 1493h0M546 1522h0M587 1590h0M560 1460h0M497 1494h0M668 1512h0M670 1508h0M614 1608h0M624 1606h0M556 1524h0M622 1464h0M574 1534h0M593 1590h0M571 1513h0M622 1609h0M569 1518h0M645 1511h0M614 1489h0M610 1602h0M582 1471h0M507 1495h0M576 1461h0M567 1537h0M534 1521h0M512 1510h0M497 1508h0M518 1513h0M630 1609h0M587 1477h0M609 1511h0M622 1529h0M618 1575h0M571 1569h0M566 1541h0M598 1496h0M518 1542h0M548 1504h0M597 1526h0M558 1560h0M541 1472h0M624 1543h0" stroke="#e59a45" stroke-width="7.2" stroke-linecap="round" stroke-opacity=".8" fill="none"/>
<path d="M423 1444h0M403 1442h0M448 1502h0M443 1479h0M458 1461h0M341 1455h0M350 1428h0M341 1436h0M472 1439h0M336 1365h0M389 1428h0M446 1453h0M380 1445h0M351 1407h0M371 1324h0M451 1423h0M346 1405h0M371 1441h0M449 1462h0M479 1456h0M454 1443h0M448 1474h0M425 1502h0M386 1344h0M359 1391h0M335 1398h0M444 1490h0M455 1425h0M346 1325h0M436 1474h0M346 1383h0M360 1386h0M398 1436h0M466 1470h0M309 1371h0M335 1405h0M295 1352h0M324 1396h0M451 1471h0M396 1458h0M390 1422h0M447 1495h0M406 1474h0M399 1431h0M296 1368h0M407 1458h0M458 1447h0M351 1402h0M461 1476h0M489 1454h0M441 1487h0M329 1316h0M333 1407h0M309 1402h0M411 1477h0M356 1320h0M424 1487h0M450 1490h0M278 1342h0M464 1452h0M351 1462h0M377 1458h0M481 1445h0M366 1358h0M442 1483h0M454 1457h0M346 1384h0M415 1433h0M450 1433h0M398 1441h0M455 1431h0M434 1486h0M406 1359h0M406 1407h0M460 1491h0M418 1426h0M462 1462h0M438 1475h0M306 1361h0M446 1437h0M306 1359h0M344 1412h0M394 1476h0M361 1383h0M435 1517h0M289 1325h0M439 1431h0M419 1497h0M380 1421h0M359 1402h0M309 1396h0M334 1380h0M354 1372h0M431 1520h0M465 1432h0M426 1464h0M458 1464h0M289 1330h0M411 1446h0M414 1474h0M454 1505h0M327 1417h0M399 1411h0M377 1483h0M424 1427h0M374 1400h0M446 1456h0M466 1515h0M360 1440h0M356 1322h0M437 1500h0M388 1445h0M396 1430h0M437 1506h0M455 1474h0M400 1459h0M407 1434h0M365 1376h0M413 1466h0M344 1384h0M340 1401h0M316 1373h0M331 1323h0M449 1477h0M448 1462h0M451 1422h0M441 1433h0M393 1434h0M393 1368h0M442 1464h0M371 1338h0M456 1467h0M487 1472h0M444 1487h0M429 1456h0M420 1435h0M330 1420h0M315 1417h0M448 1506h0M321 1406h0M338 1399h0M469 1487h0M361 1432h0M382 1416h0M388 1463h0M465 1484h0M443 1508h0M462 1496h0M388 1465h0M359 1434h0M383 1444h0M344 1397h0M407 1473h0M410 1426h0M406 1448h0M432 1438h0M392 1476h0M404 1436h0M335 1402h0M370 1360h0M356 1388h0M449 1468h0M447 1452h0M364 1426h0M385 1466h0M449 1463h0M447 1494h0M435 1500h0M408 1492h0M443 1459h0" stroke="#9966ff" stroke-width="7.2" stroke-linecap="round" stroke-opacity=".8" fill="none"/>
<path d="M496 1460h0M608 1603h0M601 1600h0M628 1522h0M621 1472h0M579 1579h0M526 1493h0M572 1555h0M571 1551h0M598 1596h0M563 1470h0M567 1555h0M622 1477h0M596 1599h0M524 1498h0M618 1517h0M541 1497h0M659 1499h0M617 1485h0M626 1578h0M588 1588h0M688 1485h0M585 1566h0M688 1495h0M560 1482h0M595 1534h0M650 1512h0M687 1508h0M573 1530h0M610 1546h0M642 1573h0M570 1555h0M703 1509h0M503 1499h0M638 1467h0M546 1566h0M515 1492h0M532 1539h0M564 1558h0M593 1553h0M624 1476h0M612 1611h0M569 1491h0M603 1489h0M650 1516h0M543 1504h0M600 1569h0M658 1475h0M620 1519h0M676 1511h0M681 1482h0M623 1472h0M598 1505h0M623 1506h0M585 1471h0M643 1554h0M591 1593h0M608 1564h0M641 1489h0M607 1543h0M572 1495h0M531 1488h0M500 1507h0M581 1535h0M508 1536h0M663 1506h0M671 1469h0M650 1593h0M583 1536h0M576 1531h0M609 1483h0M562 1510h0M625 1561h0M632 1480h0M694 1495h0M532 1510h0M569 1517h0M682 1503h0M654 1470h0M542 1534h0M620 1478h0M521 1521h0M560 1539h0M653 1517h0M566 1549h0M582 1558h0M621 1557h0M542 1528h0M591 1529h0M635 1477h0M556 1490h0M635 1599h0M518 1497h0M581 1476h0M557 1553h0M559 1567h0M584 1499h0M617 1510h0M627 1559h0M597 1573h0M610 1506h0M623 1474h0M634 1582h0M630 1606h0M527 1541h0M617 1580h0M654 1513h0M596 1518h0M563 1501h0M604 1578h0M607 1508h0M543 1525h0M588 1517h0M639 1495h0M509 1490h0M659 1473h0M662 1484h0M625 1535h0M622 1482h0M606 1482h0M634 1530h0M582 1503h0M569 1480h0M582 1499h0M581 1516h0M603 1571h0M565 1564h0M539 1551h0M529 1493h0M547 1509h0M597 1621h0M602 1591h0M605 1576h0M532 1507h0M608 1543h0M513 1476h0M557 1552h0M627 1522h0M574 1505h0M571 1498h0M588 1550h0M688 1513h0M585 1581h0M562 1573h0M634 1512h0M661 1488h0M643 1548h0M654 1492h0M516 1471h0M535 1496h0M626 1569h0M595 1574h0M570 1537h0M638 1560h0M500 1470h0M652 1582h0M571 1511h0M603 1604h0M631 1531h0M656 1492h0M572 1485h0M654 1583h0M542 1495h0M572 1509h0M640 1548h0M583 1536h0M650 1597h0M661 1491h0M645 1476h0M673 1493h0M552 1518h0M541 1538h0M629 1492h0M549 1539h0M625 1530h0M640 1467h0M525 1524h0M666 1568h0M559 1444h0M597 1560h0M554 1532h0" stroke="#e59a45" stroke-width="7.2" stroke-linecap="round" stroke-opacity=".8" fill="none"/>
<path d="M639 1583h0M560 1472h0M540 1485h0M633 1500h0M642 1596h0M607 1527h0M642 1515h0M645 1494h0M595 1574h0M633 1578h0M662 1515h0M665 1516h0M517 1542h0M652 1471h0M686 1482h0M634 1542h0M514 1460h0M634 1477h0M656 1476h0M605 1571h0M617 1491h0M562 1546h0M569 1468h0M642 1550h0M519 1493h0M598 1513h0M587 1618h0M585 1581h0M687 1497h0M626 1563h0M522 1504h0M539 1478h0M589 1545h0M684 1474h0M633 1465h0M626 1580h0M608 1602h0M670 1484h0M486 1518h0M662 1558h0M545 1499h0M615 1493h0M623 1597h0M641 1579h0M567 1496h0M692 1503h0M648 1480h0M609 1480h0M608 1489h0M648 1524h0M551 1533h0M625 1557h0M565 1542h0M576 1523h0M642 1487h0M541 1540h0M576 1554h0M599 1570h0M576 1518h0M634 1562h0M681 1473h0M652 1584h0M645 1601h0M590 1561h0M585 1546h0M509 1498h0M637 1527h0M675 1511h0M501 1543h0M562 1469h0M625 1540h0M593 1499h0M676 1508h0M533 1470h0M614 1550h0M565 1521h0M587 1494h0M564 1537h0M575 1527h0M618 1498h0M597 1563h0M633 1479h0M600 1587h0M526 1536h0M642 1560h0M618 1567h0M636 1536h0M626 1550h0M562 1462h0M582 1469h0M542 1489h0M561 1590h0M625 1520h0M666 1483h0M627 1609h0M636 1503h0M613 1544h0M624 1532h0M560 1502h0M607 1590h0M670 1500h0M593 1469h0M505 1501h0M521 1542h0M624 1568h0M599 1537h0M523 1471h0M541 1508h0M653 1561h0M588 1472h0M559 1523h0M539 1498h0M679 1512h0M517 1502h0M615 1518h0M494 1540h0M537 1496h0M659 1466h0M538 1540h0M620 1567h0M683 1506h0M560 1533h0M638 1594h0M532 1526h0M633 1559h0M533 1505h0M613 1604h0M595 1578h0M672 1495h0M685 1489h0M603 1558h0M556 1476h0M686 1489h0M574 1555h0M599 1470h0M650 1568h0M608 1588h0M612 1538h0M595 1485h0M552 1484h0M572 1500h0M593 1549h0M607 1486h0M640 1584h0M546 1549h0M597 1478h0M570 1547h0M574 1472h0M538 1533h0M540 1485h0M575 1576h0M627 1483h0M672 1509h0M647 1574h0M574 1598h0M510 1525h0M511 1498h0M592 1574h0M623 1477h0M634 1482h0M500 1522h0M580 1485h0M574 1506h0M612 1569h0M639 1552h0M681 1486h0M678 1491h0M577 1533h0M571 1470h0M519 1503h0M631 1544h0M582 1531h0M637 1513h0M571 1461h0M537 1531h0M599 1546h0M535 1510h0M650 1568h0M510 1492h0M634 1497h0M647 1476h0M612 1605h0" stroke="#e59a45" stroke-width="7.2" stroke-linecap="round" stroke-opacity=".8" fill="none"/>
<path d="M1012 1825h0M978 1766h0M956 1772h0M1007 1820h0M967 1744h0M969 1764h0M968 1742h0M1008 1775h0M992 1790h0M1010 1830h0M1014 1835h0M990 1758h0M932 1725h0M960 1765h0M964 1761h0M966 1766h0M953 1758h0M997 1794h0M1010 1818h0M969 1756h0M1026 1803h0M1006 1805h0M1010 1820h0M1009 1800h0M978 1769h0M997 1797h0M989 1760h0M967 1754h0M1020 1818h0M1006 1793h0M963 1738h0M974 1833h0M1013 1818h0M1011 1788h0M1012 1796h0M992 1767h0M973 1765h0M962 1777h0M992 1776h0M981 1763h0M1010 1791h0M935 1717h0M1006 1822h0M949 1733h0M966 1749h0M977 1824h0M960 1747h0M1013 1837h0M981 1761h0M953 1737h0M956 1778h0M1028 1831h0M1006 1785h0M999 1800h0M987 1772h0M958 1742h0M961 1743h0M967 1748h0M1024 1815h0M945 1730h0M1023 1806h0M997 1789h0M976 1756h0M1016 1798h0M996 1773h0M969 1763h0M966 1749h0M1003 1777h0M983 1761h0M960 1760h0M967 1760h0M955 1768h0M1008 1777h0M979 1775h0M1008 1810h0M1006 1808h0M1000 1798h0M977 1763h0M935 1726h0M962 1755h0M1023 1823h0M977 1826h0M958 1758h0M1008 1802h0M995 1784h0M1006 1777h0M1010 1812h0M985 1841h0M680 1508h0M967 1741h0M1018 1818h0M954 1727h0M954 1763h0M968 1772h0M960 1755h0M973 1842h0M990 1778h0M973 1767h0M1007 1804h0M983 1755h0M978 1826h0M984 1756h0M1000 1792h0M969 1748h0M971 1762h0M1016 1807h0M1024 1815h0M1021 1802h0M1011 1822h0M952 1768h0M959 1767h0M976 1841h0M969 1743h0M952 1743h0M970 1766h0M925 1826h0M949 1737h0M929 1731h0M954 1732h0M1011 1801h0M1001 1799h0M966 1776h0M967 1760h0M975 1833h0M991 1758h0M1012 1783h0M998 1799h0M994 1787h0M1010 1836h0M1006 1795h0M963 1838h0M970 1777h0M955 1775h0" stroke="#3228a0" stroke-width="7.2" stroke-linecap="round" stroke-opacity=".8" fill="none"/>
<path d="M205 1587h0M322 1484h0M213 1536h0M337 1470h0M363 1564h0M326 1524h0M356 1485h0M330 1525h0M224 1616h0M177 1561h0M191 1550h0M250 1551h0M342 1513h0M343 1602h0M202 1475h0M338 1544h0M143 1537h0M242 1485h0M230 1544h0M215 1617h0M246 1574h0M216 1510h0M181 1607h0M216 1485h0M260 1527h0M341 1553h0M222 1594h0M144 1519h0M143 1535h0M342 1473h0M315 1550h0M203 1628h0M201 1602h0M212 1544h0M335 1485h0M266 1402h0M181 1476h0M163 1574h0M339 1469h0M245 1504h0M304 1605h0M184 1515h0M337 1540h0M245 1520h0M240 1484h0M281 1503h0M216 1623h0M276 1531h0M356 1532h0M252 1506h0M383 1543h0M188 1542h0M346 1498h0M183 1529h0M372 1526h0M185 1509h0M359 1488h0M354 1496h0M319 1569h0M178 1491h0M234 1427h0M220 1418h0M179 1624h0M335 1549h0M204 1507h0M314 1585h0M306 1518h0M124 1543h0M170 1602h0M219 1563h0M223 1516h0M321 1509h0M288 1390h0M208 1514h0M258 1543h0M234 1520h0M263 1477h0M159 1509h0M189 1584h0M220 1573h0M193 1510h0M175 1621h0M229 1595h0M363 1503h0M225 1501h0M242 1494h0M125 1578h0M258 1489h0M188 1600h0M322 1487h0M196 1491h0M128 1573h0M318 1470h0M158 1500h0M151 1484h0M147 1569h0M136 1569h0M172 1495h0M350 1498h0M175 1475h0M274 1491h0M130 1584h0M247 1647h0M330 1548h0M219 1561h0M224 1369h0M225 1500h0M264 1369h0M290 1487h0M187 1502h0M297 1611h0M148 1541h0M216 1622h0M254 1518h0M193 1582h0M174 1618h0M280 1507h0M342 1476h0M177 1546h0M188 1522h0M315 1469h0M226 1511h0M346 1494h0M214 1519h0M191 1544h0M284 1484h0M275 1540h0M189 1580h0M202 1559h0M303 1427h0M193 1567h0M266 1491h0M293 1606h0M282 1546h0M191 1491h0M267 1523h0M222 1619h0M191 1579h0M221 1620h0M232 1589h0M309 1474h0M133 1572h0M365 1526h0M252 1446h0M145 1565h0M337 1485h0M113 1568h0M295 1471h0M246 1576h0M343 1537h0M274 1498h0M314 1567h0M214 1576h0M276 1557h0M167 1493h0M242 1605h0M291 1411h0M181 1584h0M281 1387h0M161 1619h0M229 1390h0M145 1510h0M160 1590h0M182 1587h0" stroke="#5800b8" stroke-width="7.2" stroke-linecap="round" stroke-opacity=".8" fill="none"/>
<path d="M353 1450h0M305 1356h0M356 1440h0M456 1508h0M456 1513h0M392 1331h0M417 1505h0M441 1460h0M475 1476h0M482 1490h0M340 1400h0M339 1398h0M476 1454h0M384 1490h0M463 1499h0M311 1336h0M420 1433h0M364 1450h0M351 1384h0M411 1429h0M463 1437h0M376 1339h0M327 1387h0M370 1397h0M424 1450h0M441 1434h0M344 1431h0M348 1446h0M385 1357h0M351 1423h0M429 1427h0M467 1433h0M366 1436h0M317 1347h0M311 1405h0M427 1489h0M320 1414h0M357 1403h0M423 1500h0M448 1425h0M383 1426h0M445 1479h0M327 1415h0M410 1492h0M360 1330h0M342 1359h0M350 1464h0M456 1465h0M409 1488h0M357 1382h0M437 1479h0M350 1405h0M395 1459h0M377 1424h0M468 1483h0M441 1483h0M468 1484h0M400 1502h0M367 1447h0M440 1505h0M398 1439h0M327 1421h0M412 1473h0M307 1400h0M480 1462h0M486 1460h0M433 1424h0M346 1330h0M384 1434h0M450 1427h0M443 1479h0M397 1440h0M386 1459h0M449 1448h0M606 1585h0M450 1426h0M381 1452h0M343 1339h0M457 1438h0M456 1460h0M306 1350h0M351 1393h0M395 1423h0M451 1496h0M392 1424h0M422 1495h0M339 1323h0M353 1370h0M417 1472h0M336 1399h0M474 1463h0M459 1504h0M473 1448h0M464 1444h0M353 1439h0M472 1433h0M391 1463h0M471 1473h0M349 1401h0M345 1439h0M370 1347h0M387 1468h0M338 1442h0M331 1361h0M403 1418h0M429 1501h0M442 1472h0M473 1443h0M369 1400h0M468 1440h0M391 1450h0M441 1507h0M395 1444h0M398 1411h0M484 1474h0M363 1435h0M291 1334h0M405 1467h0M450 1457h0M407 1499h0M485 1480h0M401 1463h0M341 1408h0M323 1364h0M417 1422h0M432 1501h0M381 1493h0M384 1399h0M434 1488h0M447 1457h0M427 1462h0M488 1461h0M461 1480h0M463 1461h0M353 1426h0M372 1436h0M309 1396h0M419 1477h0M376 1454h0M305 1350h0M367 1390h0M376 1413h0M331 1410h0M313 1424h0M332 1402h0M452 1464h0M337 1437h0M334 1406h0M411 1501h0M486 1462h0M395 1385h0M339 1426h0M441 1478h0M380 1489h0M386 1399h0M392 1457h0M422 1472h0M305 1402h0M484 1473h0M422 1488h0M317 1389h0M443 1454h0M360 1460h0M474 1479h0M464 1475h0M405 1505h0M445 1471h0M433 1439h0M368 1320h0M324 1409h0" stroke="#9966ff" stroke-width="7.2" stroke-linecap="round" stroke-opacity=".8" fill="none"/>
<path d="M316 1590h0M301 1715h0M295 1682h0M384 1587h0M366 1763h0M311 1721h0M430 1591h0M453 1622h0M429 1654h0M424 1590h0M375 1751h0M334 1604h0M393 1601h0M356 1654h0M389 1633h0M359 1762h0M526 1655h0M324 1607h0M357 1571h0M356 1745h0M379 1627h0M503 1626h0M362 1646h0M341 1734h0M330 1592h0M498 1612h0M503 1578h0M341 1767h0M393 1788h0M503 1608h0M403 1780h0M378 1634h0M359 1631h0M286 1723h0M452 1665h0M438 1711h0M368 1636h0M507 1689h0M504 1688h0M395 1750h0M436 1691h0M307 1665h0M478 1725h0M421 1691h0M472 1690h0M533 1621h0M391 1693h0M271 1706h0M506 1542h0M276 1616h0M312 1759h0M401 1639h0M369 1646h0M399 1665h0M533 1595h0M361 1785h0M508 1641h0M392 1609h0M387 1751h0M324 1613h0M447 1703h0M365 1725h0M412 1574h0M406 1631h0M261 1638h0M337 1676h0M533 1689h0M455 1663h0M287 1649h0M536 1609h0M510 1540h0M402 1700h0M443 1605h0M387 1609h0M468 1625h0M290 1646h0M432 1626h0M328 1615h0M368 1761h0M477 1683h0M395 1615h0M434 1682h0M370 1767h0M360 1578h0M477 1586h0M440 1670h0M478 1628h0M365 1613h0M257 1688h0M271 1697h0M309 1718h0M350 1665h0M537 1631h0M562 1619h0M306 1702h0M505 1564h0M489 1681h0M386 1789h0M405 1720h0M342 1588h0M379 1781h0M369 1610h0M336 1698h0M542 1648h0M556 1595h0M418 1686h0M341 1607h0M401 1615h0M292 1663h0M430 1668h0M325 1767h0M361 1695h0M397 1665h0M479 1687h0M374 1709h0M296 1628h0M581 1633h0M470 1605h0M491 1561h0M291 1603h0M535 1626h0M457 1634h0M524 1609h0M436 1632h0M561 1630h0M392 1579h0M348 1744h0M382 1740h0M503 1659h0M406 1608h0M267 1642h0M427 1660h0M428 1641h0M362 1697h0M440 1681h0M390 1663h0M334 1726h0M343 1703h0M555 1605h0M516 1580h0M515 1648h0M275 1685h0M505 1586h0M404 1671h0M373 1666h0M524 1634h0M317 1683h0M571 1643h0M263 1630h0M254 1670h0M533 1585h0M390 1778h0M361 1772h0M336 1729h0M322 1654h0M443 1613h0M319 1739h0M409 1698h0M289 1663h0M425 1708h0M461 1505h0M449 1718h0M357 1730h0M331 1704h0M472 1583h0" stroke="#0d8af5" stroke-width="7.2" stroke-linecap="round" stroke-opacity=".8" fill="none"/>
<path d="M240 1336h0M298 1158h0M410 1212h0M256 1209h0M378 1240h0M421 1247h0M301 1236h0M316 1212h0M323 1180h0M351 1277h0M407 1260h0M266 1267h0M239 1188h0M289 1191h0M404 1218h0M252 1331h0M382 1276h0M227 1212h0M259 1304h0M364 1306h0M258 1204h0M287 1213h0M261 1168h0M401 1326h0M357 1289h0M296 1180h0M268 1232h0M307 1181h0M232 1226h0M297 1192h0M306 1255h0M286 1284h0M270 1271h0M230 1276h0M334 1258h0M305 1217h0M296 1374h0M337 1319h0M418 1240h0M432 1294h0M280 1169h0M258 1224h0M240 1310h0M376 1273h0M284 1243h0M374 1346h0M391 1230h0M396 1188h0M270 1179h0M277 1354h0M238 1317h0M399 1275h0M210 1248h0M283 1212h0M309 1298h0M256 1191h0M402 1253h0M303 1192h0M365 1314h0M400 1329h0M441 1262h0M229 1189h0M386 1314h0M239 1295h0M432 1189h0M314 1296h0M364 1331h0M353 1218h0M421 1314h0M231 1218h0M330 1307h0M257 1191h0M397 1194h0M282 1184h0M282 1197h0M228 1243h0M412 1207h0M243 1347h0M370 1273h0M443 1234h0M387 1291h0M261 1245h0M353 1278h0M398 1306h0M367 1262h0M350 1284h0M239 1188h0M298 1200h0M289 1339h0M334 1273h0M382 1304h0M308 1215h0M304 1223h0M278 1236h0M448 1218h0M260 1190h0M333 1315h0M324 1286h0M312 1248h0M251 1192h0M297 1287h0M381 1252h0M222 1256h0M415 1253h0M402 1241h0M384 1222h0M332 1355h0M263 1335h0M301 1218h0M262 1208h0M234 1265h0M329 1248h0M429 1306h0M304 1284h0M241 1369h0M251 1298h0M345 1238h0M254 1357h0M292 1199h0M366 1299h0M338 1351h0M292 1304h0M362 1276h0M299 1219h0M400 1192h0M423 1322h0M307 1194h0M348 1285h0M403 1186h0M320 1211h0M349 1258h0M249 1215h0M324 1274h0M294 1218h0M307 1190h0M403 1267h0M384 1321h0M436 1280h0M271 1200h0M323 1196h0M391 1214h0M321 1253h0M322 1229h0M251 1360h0M429 1239h0M279 1184h0M363 1267h0M240 1222h0M298 1185h0M372 1292h0M241 1369h0M426 1186h0M355 1288h0M382 1228h0M316 1218h0M691 1490h0M290 1254h0M293 1296h0M336 1233h0M317 1207h0M421 1293h0M409 1261h0M437 1243h0M266 1256h0M240 1297h0M409 1253h0" stroke="#8db54b" stroke-width="7.2" stroke-linecap="round" stroke-opacity=".8" fill="none"/>
<path d="M143 1434h0M184 1428h0M161 1455h0M136 1437h0M154 1443h0M266 1546h0M141 1428h0M146 1423h0M143 1447h0M171 1432h0M170 1451h0M303 1560h0M158 1432h0M337 1522h0M170 1452h0M165 1423h0M163 1450h0M146 1438h0M368 1566h0M359 1554h0M309 1591h0M192 1438h0M362 1518h0M263 1535h0M290 1541h0M297 1570h0M284 1557h0M367 1507h0M189 1419h0M177 1441h0M169 1447h0M299 1525h0M349 1523h0M340 1574h0M177 1443h0M137 1441h0M201 1451h0M185 1433h0M165 1431h0M308 1553h0M273 1559h0M144 1444h0M163 1452h0M206 1460h0M185 1437h0M205 1457h0M312 1549h0M169 1470h0M192 1458h0M198 1430h0M160 1442h0M145 1450h0M273 1567h0M300 1595h0M201 1433h0M321 1530h0M298 1585h0M284 1595h0M280 1567h0M360 1588h0M163 1444h0M350 1541h0M254 1551h0M161 1432h0M157 1417h0M303 1595h0M330 1509h0M277 1563h0M182 1425h0M150 1431h0M143 1424h0M168 1432h0M324 1569h0M186 1432h0M291 1582h0M183 1422h0M165 1437h0M350 1571h0M297 1568h0M306 1549h0M175 1429h0M155 1426h0M155 1421h0M166 1434h0M296 1580h0M163 1431h0M371 1520h0M163 1457h0M285 1569h0M304 1601h0M290 1593h0M172 1419h0M172 1432h0M338 1536h0M329 1516h0M205 1431h0M307 1596h0M300 1558h0M303 1561h0M282 1517h0M304 1607h0M343 1509h0M287 1520h0M178 1438h0M181 1422h0M355 1587h0M302 1545h0M162 1426h0M174 1425h0M194 1415h0M166 1425h0M174 1451h0M300 1555h0M151 1443h0M174 1421h0M336 1598h0M311 1588h0M169 1438h0" stroke="#f0930a" stroke-width="7.2" stroke-linecap="round" stroke-opacity=".8" fill="none"/>
<path d="M412 1723h0M453 1578h0M555 1642h0M439 1728h0M426 1729h0M454 1581h0M452 1586h0M317 1609h0M266 1682h0M458 1628h0M215 1663h0M420 1739h0M354 1743h0M417 1787h0M546 1660h0M429 1615h0M272 1725h0M470 1665h0M383 1678h0M293 1725h0M333 1760h0M355 1684h0M423 1782h0M450 1782h0M340 1653h0M287 1637h0M302 1637h0M263 1694h0M266 1639h0M259 1672h0M300 1715h0M443 1560h0M347 1634h0M547 1609h0M563 1654h0M386 1578h0M392 1701h0M375 1587h0M513 1637h0M305 1739h0M393 1638h0M256 1676h0M420 1657h0M289 1628h0M563 1629h0M487 1574h0M435 1566h0M421 1550h0M412 1577h0M542 1670h0M487 1641h0M321 1767h0M286 1624h0M557 1685h0M435 1763h0M268 1634h0M273 1630h0M364 1732h0M533 1564h0M340 1643h0M259 1633h0M453 1560h0M293 1663h0M456 1775h0M514 1691h0M401 1790h0M249 1656h0M318 1663h0M424 1709h0M410 1626h0M269 1656h0M427 1604h0M485 1642h0M535 1679h0M518 1591h0M383 1551h0M494 1597h0M300 1709h0M363 1651h0M446 1576h0M371 1733h0M397 1779h0M563 1594h0M427 1607h0M491 1665h0M546 1584h0M285 1650h0M432 1604h0M481 1673h0M442 1736h0M444 1647h0M489 1561h0M309 1717h0M482 1602h0M415 1795h0M512 1692h0M503 1684h0M444 1678h0M514 1546h0M338 1719h0M303 1725h0M324 1585h0M516 1629h0M484 1660h0M405 1583h0M356 1765h0M350 1608h0M403 1725h0M259 1679h0M272 1633h0M289 1598h0M298 1663h0M418 1734h0M293 1602h0M401 1629h0M398 1648h0M485 1605h0M381 1729h0M413 1716h0M481 1667h0M413 1559h0M371 1763h0M310 1600h0M484 1602h0M522 1674h0M268 1627h0M302 1619h0M331 1697h0M375 1618h0M380 1655h0M314 1605h0M322 1641h0M276 1649h0M273 1651h0M429 1768h0M392 1595h0M410 1728h0M403 1593h0M434 1603h0M410 1724h0M519 1575h0M539 1587h0M413 1760h0M531 1590h0M309 1632h0M453 1635h0M353 1592h0M435 1743h0M394 1697h0M346 1726h0M512 1650h0M450 1727h0M564 1644h0M510 1560h0M458 1631h0M478 1622h0M401 1636h0M382 1725h0M354 1678h0M356 1648h0M279 1727h0M352 1582h0M416 1756h0M494 1634h0M437 1560h0M567 1563h0" stroke="#0d8af5" stroke-width="7.2" stroke-linecap="round" stroke-opacity=".8" fill="none"/>
<path d="M436 1631h0M310 1688h0M340 1671h0M265 1709h0M388 1591h0M527 1631h0M459 1642h0M298 1646h0M433 1694h0M373 1752h0M443 1682h0M382 1681h0M278 1644h0M517 1635h0M495 1624h0M554 1646h0M339 1661h0M494 1644h0M547 1643h0M552 1576h0M290 1631h0M401 1579h0M510 1563h0M422 1672h0M530 1618h0M243 1634h0M368 1660h0M554 1592h0M307 1666h0M350 1735h0M341 1648h0M400 1775h0M383 1573h0M543 1566h0M350 1596h0M322 1726h0M263 1603h0M354 1732h0M456 1578h0M534 1625h0M278 1681h0M431 1646h0M431 1609h0M495 1612h0M415 1771h0M399 1604h0M456 1583h0M537 1568h0M412 1591h0M307 1600h0M475 1607h0M433 1664h0M441 1651h0M251 1653h0M450 1578h0M481 1628h0M342 1681h0M493 1651h0M503 1623h0M351 1672h0M221 1654h0M350 1643h0M507 1646h0M436 1609h0M459 1726h0M261 1670h0M459 1574h0M497 1610h0M442 1601h0M246 1649h0M505 1643h0M363 1673h0M319 1591h0M414 1580h0M269 1636h0M296 1637h0M384 1748h0M528 1598h0M332 1610h0M419 1603h0M529 1669h0M399 1764h0M398 1609h0M495 1695h0M466 1646h0M422 1666h0M423 1650h0M432 1576h0M498 1681h0M310 1663h0M512 1553h0M321 1630h0M340 1748h0M375 1579h0M364 1685h0M304 1737h0M280 1652h0M386 1650h0M581 1640h0M442 1503h0M397 1768h0M430 1572h0M496 1703h0M353 1751h0M502 1620h0M347 1638h0M433 1581h0M489 1606h0M356 1698h0M488 1662h0M235 1694h0M441 1612h0M531 1619h0M405 1730h0M492 1671h0M424 1566h0M353 1634h0M526 1603h0M412 1712h0M341 1603h0M379 1676h0M396 1614h0M357 1582h0M337 1588h0M512 1623h0M368 1642h0M481 1611h0M252 1633h0M307 1747h0M379 1680h0M329 1609h0M543 1631h0M470 1593h0M358 1668h0M482 1737h0M554 1672h0M294 1635h0M332 1707h0M351 1614h0M301 1697h0M399 1613h0M245 1637h0M370 1579h0M438 1610h0M430 1667h0M349 1595h0M481 1574h0M330 1686h0M461 1627h0M442 1713h0M370 1579h0M313 1588h0M531 1576h0M556 1596h0M537 1605h0M325 1652h0M307 1678h0M406 1660h0M408 1598h0M275 1628h0M241 1654h0M379 1744h0M246 1663h0M532 1606h0M472 1640h0M478 1631h0" stroke="#0d8af5" stroke-width="7.2" stroke-linecap="round" stroke-opacity=".8" fill="none"/>
<path d="M407 1866h0M396 1848h0M394 1727h0M314 1764h0M389 1880h0M344 1805h0M328 1837h0M377 1797h0M340 1832h0M356 1794h0M391 1844h0M362 1828h0M359 1776h0M377 1745h0M393 1719h0M362 1774h0M374 1871h0M381 1857h0M345 1869h0M370 1833h0M341 1807h0M324 1819h0M410 1683h0M449 1654h0M390 1857h0M382 1694h0M343 1811h0M493 1711h0M357 1904h0M386 1802h0M458 1770h0M474 1740h0M352 1747h0M457 1678h0M473 1710h0M502 1688h0M358 1805h0M438 1762h0M325 1841h0M399 1727h0M484 1696h0M372 1840h0M382 1827h0M323 1759h0M384 1801h0M315 1766h0M384 1893h0M459 1751h0M333 1809h0M465 1731h0M389 1879h0M363 1730h0M393 1800h0M396 1672h0M410 1819h0M355 1684h0M344 1768h0M327 1848h0M455 1647h0M367 1863h0M372 1815h0M409 1849h0M389 1844h0M376 1820h0M377 1857h0M348 1855h0M372 1898h0M455 1716h0M340 1845h0M406 1869h0M373 1834h0M380 1890h0M366 1838h0M458 1715h0M434 1755h0M334 1804h0M373 1851h0M401 1859h0M452 1721h0M350 1738h0M377 1762h0M373 1831h0M447 1779h0M388 1797h0M346 1798h0M346 1858h0M387 1896h0M375 1768h0M371 1831h0M419 1835h0M444 1690h0M366 1861h0M399 1817h0M478 1746h0M382 1856h0M391 1813h0M321 1789h0M341 1811h0M332 1842h0M340 1773h0M380 1786h0M465 1673h0M377 1809h0M445 1663h0M388 1812h0M384 1805h0M399 1857h0M341 1848h0M363 1819h0M426 1678h0M398 1838h0M418 1729h0M350 1766h0M378 1821h0M375 1818h0M339 1867h0M419 1752h0M367 1890h0M352 1866h0M508 1683h0M359 1867h0M411 1766h0M345 1770h0M314 1771h0M451 1688h0M341 1849h0M336 1825h0M344 1821h0M362 1877h0M364 1819h0M420 1766h0M360 1777h0M410 1681h0M363 1871h0M472 1749h0M360 1864h0M323 1791h0M361 1803h0M406 1806h0M385 1867h0M477 1688h0M359 1866h0M407 1767h0M350 1832h0M483 1677h0M398 1830h0M330 1819h0M339 1785h0M394 1807h0M398 1822h0M391 1873h0M340 1822h0M372 1855h0M398 1818h0M368 1885h0M462 1688h0M338 1699h0M340 1716h0M347 1766h0M421 1794h0M326 1778h0M357 1883h0M370 1796h0M358 1805h0M371 1792h0M374 1855h0M355 1776h0M322 1818h0M341 1813h0M354 1771h0M415 1709h0M354 1900h0M348 1839h0M377 1889h0M494 1717h0M435 1730h0M399 1815h0M376 1825h0M368 1866h0M397 1848h0" stroke="#1473b4" stroke-width="7.2" stroke-linecap="round" stroke-opacity=".8" fill="none"/>
<path d="M695 1668h0M728 1582h0M667 1618h0M691 1678h0M725 1571h0M706 1621h0M685 1634h0M749 1682h0M734 1674h0M724 1561h0M688 1612h0M637 1663h0M756 1698h0M721 1690h0M725 1563h0M724 1557h0M727 1580h0M753 1692h0M720 1687h0M717 1649h0M735 1552h0M691 1653h0M753 1681h0M733 1655h0M690 1597h0M734 1679h0M715 1639h0M731 1659h0M699 1668h0M703 1609h0M677 1656h0M743 1685h0M699 1531h0M729 1564h0M759 1671h0M696 1681h0M739 1561h0M683 1608h0M714 1619h0M700 1653h0M707 1588h0M723 1566h0M741 1657h0M689 1605h0M730 1650h0M686 1607h0M705 1552h0M734 1555h0M718 1689h0M708 1659h0M711 1581h0M692 1666h0M664 1655h0M719 1543h0M722 1672h0M708 1567h0M748 1575h0M719 1567h0M724 1649h0M669 1637h0M703 1552h0M743 1666h0M718 1571h0M720 1670h0M725 1661h0M702 1576h0M703 1665h0M745 1663h0M709 1576h0M712 1533h0M744 1546h0M740 1664h0M704 1620h0M678 1645h0M757 1667h0M709 1811h0M711 1590h0M789 1824h0M710 1637h0M680 1642h0M691 1615h0M704 1644h0M733 1683h0M696 1616h0M654 1626h0M688 1639h0M716 1679h0M719 1654h0M706 1635h0M717 1659h0M717 1589h0M741 1689h0M674 1636h0M682 1653h0M716 1594h0M708 1648h0M702 1650h0M714 1553h0M710 1668h0M725 1571h0M716 1564h0M702 1626h0M673 1647h0M694 1602h0M708 1661h0M720 1569h0M694 1623h0M756 1676h0M717 1639h0M712 1706h0M701 1680h0M709 1666h0M753 1683h0M736 1646h0M697 1658h0M741 1697h0M727 1575h0M730 1681h0M702 1565h0M691 1626h0M668 1634h0M709 1654h0M661 1636h0M688 1649h0M750 1660h0M742 1695h0M713 1626h0M718 1606h0M680 1634h0M667 1608h0M748 1648h0M727 1594h0M710 1684h0M702 1671h0M721 1552h0M696 1627h0M733 1656h0M696 1620h0M742 1693h0M667 1639h0M709 1613h0M677 1608h0M743 1699h0M732 1579h0M701 1579h0M722 1649h0M729 1673h0M739 1575h0M749 1674h0M691 1597h0M700 1662h0M721 1562h0M738 1656h0M724 1556h0M727 1686h0M739 1677h0M730 1642h0M694 1624h0M676 1646h0M701 1590h0M710 1674h0M749 1662h0M721 1668h0M741 1699h0M699 1663h0M631 1633h0M749 1666h0M717 1620h0M763 1678h0M699 1616h0M728 1584h0M740 1573h0M687 1675h0M745 1658h0M701 1646h0" stroke="#ff8c42" stroke-width="7.2" stroke-linecap="round" stroke-opacity=".8" fill="none"/>
<path d="M405 1721h0M433 1787h0M390 1663h0M419 1789h0M521 1580h0M555 1644h0M408 1722h0M445 1657h0M500 1679h0M432 1577h0M564 1597h0M477 1716h0M329 1730h0M385 1656h0M295 1727h0M425 1552h0M410 1723h0M250 1638h0M458 1635h0M355 1611h0M429 1596h0M549 1578h0M417 1638h0M328 1722h0M425 1602h0M541 1567h0M588 1639h0M459 1646h0M519 1629h0M412 1647h0M427 1740h0M292 1650h0M369 1642h0M297 1619h0M396 1662h0M501 1717h0M281 1698h0M434 1648h0M544 1632h0M442 1653h0M356 1620h0M548 1550h0M366 1675h0M424 1587h0M501 1687h0M481 1620h0M423 1695h0M439 1571h0M331 1761h0M490 1670h0M357 1583h0M419 1742h0M460 1756h0M401 1580h0M365 1695h0M473 1683h0M437 1632h0M353 1580h0M488 1615h0M419 1576h0M374 1736h0M325 1742h0M296 1655h0M542 1651h0M460 1754h0M569 1611h0M421 1657h0M505 1634h0M371 1658h0M316 1680h0M289 1706h0M460 1569h0M355 1690h0M516 1693h0M567 1634h0M389 1650h0M360 1664h0M368 1712h0M297 1656h0M443 1660h0M514 1665h0M379 1592h0M382 1689h0M486 1741h0M461 1615h0M263 1633h0M588 1613h0M409 1767h0M454 1639h0M274 1660h0M303 1655h0M438 1580h0M500 1569h0M450 1674h0M471 1656h0M544 1595h0M424 1671h0M361 1659h0M393 1785h0M389 1634h0M314 1669h0M487 1628h0M368 1764h0M483 1711h0M275 1628h0M507 1618h0M324 1711h0M396 1766h0M313 1693h0M248 1668h0M482 1627h0M357 1578h0M402 1588h0M386 1735h0M365 1586h0M324 1668h0M362 1698h0M376 1656h0M434 1611h0M492 1619h0M315 1651h0M386 1686h0M293 1614h0M440 1753h0M505 1650h0M489 1621h0M533 1543h0M437 1668h0M280 1634h0M330 1589h0M408 1602h0M386 1687h0M488 1661h0M321 1647h0M406 1580h0M358 1775h0M362 1573h0M531 1683h0M409 1620h0M474 1721h0M403 1696h0M544 1569h0M298 1600h0M329 1714h0M309 1608h0M425 1576h0M330 1750h0M473 1696h0M360 1611h0M522 1659h0M302 1614h0M507 1634h0M332 1625h0M371 1628h0M479 1580h0M281 1618h0M369 1761h0M344 1658h0M316 1680h0M412 1590h0M461 1606h0M316 1629h0M538 1648h0M401 1776h0M249 1638h0" stroke="#0d8af5" stroke-width="7.2" stroke-linecap="round" stroke-opacity=".8" fill="none"/>
<path d="M349 1790h0M355 1825h0M373 1891h0M377 1838h0M494 1665h0M314 1803h0M402 1819h0M336 1784h0M521 1689h0M360 1854h0M415 1786h0M376 1861h0M357 1699h0M442 1744h0M465 1727h0M409 1792h0M406 1814h0M410 1689h0M390 1803h0M333 1803h0M374 1919h0M388 1850h0M354 1878h0M398 1815h0M444 1694h0M478 1666h0M412 1823h0M384 1903h0M364 1867h0M397 1845h0M409 1755h0M389 1858h0M409 1823h0M346 1884h0M354 1775h0M345 1851h0M333 1832h0M439 1728h0M342 1868h0M389 1867h0M327 1828h0M407 1873h0M316 1813h0M369 1884h0M350 1893h0M355 1889h0M366 1771h0M349 1782h0M361 1794h0M371 1840h0M365 1855h0M373 1796h0M386 1803h0M381 1804h0M343 1867h0M358 1830h0M405 1821h0M349 1862h0M405 1761h0M488 1716h0M353 1768h0M349 1867h0M367 1835h0M376 1811h0M407 1691h0M408 1831h0M315 1760h0M340 1767h0M368 1821h0M512 1689h0M485 1706h0M353 1812h0M347 1860h0M366 1792h0M460 1756h0M396 1775h0M331 1767h0M358 1764h0M530 1690h0M323 1759h0M330 1795h0M339 1834h0M324 1762h0M425 1708h0M477 1745h0M378 1792h0M407 1813h0M492 1716h0M336 1853h0M403 1823h0M355 1856h0M320 1810h0M437 1717h0M428 1701h0M401 1835h0M477 1661h0M359 1856h0M402 1821h0M494 1736h0M395 1834h0M319 1810h0M445 1762h0M394 1818h0M340 1730h0M386 1848h0M331 1849h0M383 1799h0M341 1758h0M377 1860h0M389 1795h0M372 1855h0M359 1822h0M456 1714h0M406 1798h0M334 1781h0M340 1804h0M392 1877h0M402 1846h0M402 1710h0M382 1891h0M407 1841h0M436 1769h0M407 1762h0M481 1741h0M380 1854h0M432 1777h0M381 1799h0M333 1790h0M385 1865h0M421 1701h0M324 1823h0M374 1834h0M384 1899h0M337 1858h0M369 1882h0M433 1768h0M401 1847h0M397 1851h0M370 1758h0M377 1838h0M324 1813h0M379 1882h0M346 1886h0M369 1835h0M378 1903h0M471 1739h0M348 1830h0M317 1768h0M405 1738h0M344 1763h0M401 1852h0M344 1875h0M333 1856h0M475 1723h0M382 1843h0M350 1821h0M393 1806h0M459 1719h0M396 1781h0M378 1782h0M364 1920h0M374 1808h0M323 1775h0M354 1906h0M399 1698h0M333 1815h0M359 1907h0M402 1799h0M363 1862h0M359 1706h0M389 1825h0M394 1892h0M385 1891h0M330 1837h0M350 1792h0M365 1731h0M347 1780h0M400 1666h0M397 1869h0" stroke="#1473b4" stroke-width="7.2" stroke-linecap="round" stroke-opacity=".8" fill="none"/>
<path d="M361 1853h0M382 1859h0M407 1819h0M395 1862h0M373 1860h0M361 1780h0M323 1836h0M390 1905h0M382 1819h0M352 1770h0M328 1831h0M380 1862h0M372 1744h0M366 1888h0M378 1811h0M376 1747h0M340 1738h0M379 1780h0M467 1663h0M504 1687h0M433 1757h0M353 1880h0M337 1795h0M414 1781h0M415 1749h0M329 1778h0M340 1737h0M432 1764h0M393 1798h0M365 1850h0M402 1829h0M358 1766h0M395 1853h0M383 1873h0M457 1750h0M340 1789h0M401 1824h0M363 1882h0M362 1872h0M389 1895h0M375 1844h0M344 1833h0M373 1908h0M363 1837h0M506 1707h0M381 1698h0M368 1803h0M471 1777h0M361 1821h0M335 1710h0M330 1771h0M400 1802h0M366 1889h0M448 1778h0M337 1863h0M376 1792h0M514 1716h0M499 1699h0M312 1794h0M477 1740h0M370 1776h0M395 1777h0M403 1778h0M336 1830h0M364 1857h0M382 1822h0M346 1860h0M341 1794h0M395 1829h0M349 1758h0M355 1804h0M362 1899h0M359 1848h0M411 1813h0M382 1824h0M366 1822h0M380 1876h0M342 1819h0M416 1724h0M368 1753h0M438 1699h0M332 1778h0M383 1849h0M408 1818h0M333 1761h0M351 1890h0M394 1811h0M357 1854h0M387 1835h0M361 1774h0M330 1817h0M361 1873h0M368 1909h0M329 1855h0M370 1807h0M464 1761h0M401 1836h0M345 1895h0M375 1902h0M373 1847h0M341 1870h0M375 1796h0M359 1858h0M340 1806h0M413 1737h0M438 1693h0M383 1825h0M371 1885h0M381 1787h0M355 1770h0M394 1792h0M335 1846h0M363 1780h0M423 1722h0M387 1813h0M343 1786h0M382 1817h0M374 1915h0M423 1709h0M317 1784h0M374 1813h0M311 1775h0M331 1821h0M397 1793h0M361 1770h0M448 1732h0M319 1762h0M380 1904h0M352 1880h0M330 1757h0M499 1734h0M359 1801h0M375 1818h0M359 1906h0M381 1896h0M488 1677h0M336 1766h0M404 1850h0M357 1791h0M411 1855h0M365 1918h0M442 1692h0M395 1878h0M395 1837h0M394 1858h0M333 1777h0M368 1735h0M487 1743h0M370 1818h0M360 1825h0M402 1796h0M408 1866h0M377 1890h0M349 1773h0M396 1739h0M355 1767h0M401 1850h0M332 1788h0M395 1812h0M346 1790h0M383 1901h0M488 1711h0M340 1787h0M470 1718h0M351 1783h0M334 1773h0M338 1824h0M380 1882h0M347 1877h0M328 1780h0M518 1703h0M368 1835h0M397 1671h0M324 1828h0M382 1863h0M345 1825h0M395 1798h0M398 1798h0M378 1757h0M468 1681h0" stroke="#1473b4" stroke-width="7.2" stroke-linecap="round" stroke-opacity=".8" fill="none"/>
<path d="M307 1411h0M440 1511h0M453 1480h0M404 1469h0M328 1423h0M331 1395h0M464 1506h0M404 1493h0M454 1486h0M407 1480h0M430 1494h0M333 1433h0M358 1381h0M415 1431h0M462 1427h0M474 1459h0M455 1483h0M359 1441h0M460 1497h0M449 1484h0M374 1458h0M332 1426h0M310 1404h0M454 1473h0M398 1424h0M475 1464h0M366 1481h0M414 1428h0M436 1487h0M423 1450h0M324 1402h0M444 1469h0M432 1498h0M364 1380h0M385 1408h0M379 1403h0M433 1492h0M406 1441h0M418 1451h0M457 1524h0M295 1345h0M395 1480h0M293 1354h0M281 1325h0M425 1497h0M331 1316h0M457 1450h0M301 1407h0M428 1480h0M323 1363h0M344 1426h0M410 1466h0M374 1453h0M329 1406h0M459 1508h0M434 1468h0M448 1483h0M448 1421h0M431 1484h0M341 1420h0M441 1423h0M362 1418h0M378 1448h0M358 1322h0M358 1410h0M466 1479h0M443 1435h0M326 1422h0M425 1483h0M424 1486h0M338 1351h0M449 1471h0M398 1435h0M365 1389h0M466 1449h0M408 1414h0M357 1395h0M320 1385h0M351 1425h0M318 1406h0M448 1476h0M353 1405h0M398 1414h0M353 1434h0M437 1498h0M464 1476h0M344 1426h0M369 1452h0M472 1492h0M354 1447h0M431 1493h0M488 1453h0M353 1430h0M339 1321h0M463 1427h0M409 1432h0M370 1409h0M439 1490h0M447 1505h0M368 1401h0M363 1379h0M387 1410h0M320 1421h0M446 1474h0M388 1503h0M384 1420h0M363 1437h0M454 1495h0M369 1394h0M366 1442h0M438 1460h0M352 1476h0M383 1455h0M344 1378h0M354 1430h0M446 1459h0M328 1333h0M400 1451h0M358 1396h0M454 1427h0M476 1458h0M451 1438h0M412 1470h0M405 1420h0M420 1448h0M385 1417h0M363 1435h0M340 1406h0M432 1490h0M471 1446h0M343 1382h0M420 1453h0M319 1398h0M388 1404h0M420 1489h0M348 1353h0M461 1487h0M351 1334h0M393 1428h0M383 1456h0M408 1458h0M345 1380h0M393 1399h0M420 1467h0M379 1436h0M429 1492h0M454 1451h0M370 1393h0M411 1479h0M343 1431h0M437 1508h0M368 1390h0M399 1454h0M445 1437h0M429 1446h0M409 1450h0M418 1448h0M410 1477h0M351 1406h0M397 1452h0M341 1377h0M347 1373h0M333 1424h0M462 1468h0M401 1391h0M324 1320h0M426 1428h0M380 1412h0M385 1405h0M348 1402h0M411 1492h0" stroke="#9966ff" stroke-width="7.2" stroke-linecap="round" stroke-opacity=".8" fill="none"/>
<path d="M773 1911h0M774 1893h0M779 1896h0M805 1903h0M788 1869h0M805 1903h0M793 1888h0M776 1901h0M775 1892h0M772 1892h0M780 1897h0M783 1886h0M804 1901h0M781 1913h0M783 1868h0M800 1863h0M787 1855h0M802 1863h0M799 1880h0M798 1909h0M715 1935h0M797 1877h0M773 1891h0M787 1894h0M805 1856h0M796 1898h0M791 1861h0M788 1847h0M801 1899h0M716 1932h0M791 1848h0M788 1911h0M718 1935h0M792 1890h0M786 1890h0M761 1909h0M790 1875h0M776 1914h0M770 1907h0M791 1891h0M801 1883h0M810 1893h0M805 1865h0M779 1894h0M784 1880h0M774 1917h0M771 1909h0M787 1866h0M806 1892h0M786 1845h0M804 1893h0M789 1843h0M789 1859h0M798 1865h0M805 1875h0M801 1882h0M794 1860h0M798 1914h0M787 1882h0M714 1935h0M789 1850h0M807 1889h0M779 1888h0M789 1853h0M793 1862h0M793 1908h0M799 1866h0M793 1887h0M777 1908h0M787 1883h0M790 1869h0M802 1907h0M775 1890h0M804 1891h0M794 1880h0M792 1860h0M794 1868h0M784 1879h0M773 1899h0M797 1876h0M785 1889h0M789 1868h0" stroke="#46af0f" stroke-width="7.2" stroke-linecap="round" stroke-opacity=".8" fill="none"/>
<path d="M326 1249h0M237 1300h0M400 1246h0M356 1274h0M327 1280h0M236 1366h0M359 1218h0M356 1307h0M422 1226h0M267 1220h0M364 1196h0M297 1298h0M263 1164h0M409 1302h0M399 1226h0M383 1251h0M265 1207h0M426 1209h0M359 1267h0M238 1175h0M384 1199h0M386 1206h0M374 1200h0M386 1353h0M303 1300h0M337 1277h0M399 1233h0M435 1249h0M335 1242h0M265 1263h0M276 1187h0M404 1303h0M339 1257h0M288 1283h0M389 1306h0M387 1237h0M377 1199h0M270 1353h0M223 1235h0M410 1270h0M251 1188h0M363 1260h0M305 1289h0M418 1213h0M413 1222h0M327 1199h0M270 1284h0M326 1205h0M261 1173h0M440 1234h0M255 1202h0M412 1179h0M252 1248h0M415 1328h0M275 1264h0M360 1265h0M396 1295h0M369 1247h0M237 1369h0M263 1300h0M388 1232h0M250 1316h0M376 1254h0M317 1307h0M255 1166h0M368 1228h0M337 1250h0M403 1333h0M283 1181h0M275 1192h0M259 1179h0M430 1193h0M286 1202h0M373 1220h0M232 1224h0M414 1297h0M306 1159h0M361 1206h0M349 1257h0M296 1271h0M314 1194h0M418 1279h0M387 1200h0M393 1246h0M452 1273h0M240 1339h0M241 1209h0M386 1208h0M393 1295h0M374 1304h0M243 1221h0M313 1189h0M403 1302h0M357 1299h0M248 1206h0M383 1176h0M261 1295h0M270 1356h0M434 1242h0M242 1254h0M284 1216h0M272 1232h0M265 1277h0M324 1279h0M316 1361h0M406 1252h0M241 1173h0M257 1246h0M334 1329h0M432 1199h0M393 1254h0M414 1244h0M290 1376h0M269 1237h0M370 1286h0M264 1167h0M433 1190h0M229 1264h0M242 1245h0M392 1233h0M265 1169h0M429 1267h0M355 1266h0M233 1345h0M372 1199h0M371 1266h0M382 1283h0M367 1252h0M280 1225h0M249 1277h0M401 1268h0M404 1287h0M297 1180h0M432 1261h0M328 1280h0M261 1297h0M263 1248h0M341 1346h0M310 1231h0M239 1326h0M312 1297h0M221 1225h0M266 1206h0M278 1153h0M340 1259h0M282 1250h0M212 1245h0M229 1242h0M291 1342h0M284 1312h0M407 1280h0M233 1180h0M363 1315h0M239 1355h0M217 1213h0M231 1267h0M317 1338h0M223 1236h0M358 1227h0M314 1265h0M432 1252h0M237 1282h0M379 1187h0M230 1184h0M375 1182h0M350 1227h0" stroke="#8db54b" stroke-width="7.2" stroke-linecap="round" stroke-opacity=".8" fill="none"/>
<path d="M341 1802h0M372 1786h0M404 1852h0M390 1848h0M352 1738h0M496 1671h0M373 1877h0M319 1761h0M342 1768h0M325 1733h0M368 1835h0M374 1862h0M390 1702h0M494 1716h0M353 1902h0M354 1829h0M346 1814h0M372 1850h0M376 1760h0M381 1875h0M325 1771h0M382 1890h0M363 1804h0M340 1779h0M430 1654h0M467 1683h0M350 1831h0M418 1779h0M364 1872h0M333 1739h0M397 1885h0M332 1785h0M374 1889h0M362 1857h0M372 1787h0M339 1833h0M420 1763h0M393 1866h0M347 1773h0M375 1835h0M372 1798h0M327 1764h0M393 1824h0M343 1766h0M362 1807h0M321 1786h0M373 1878h0M379 1837h0M346 1811h0M351 1852h0M400 1843h0M326 1840h0M431 1759h0M377 1728h0M481 1685h0M422 1713h0M358 1767h0M405 1868h0M388 1837h0M331 1838h0M345 1737h0M401 1858h0M359 1796h0M337 1827h0M341 1771h0M367 1880h0M457 1768h0M380 1712h0M317 1800h0M392 1807h0M372 1858h0M413 1735h0M466 1727h0M344 1817h0M337 1849h0M377 1833h0M388 1852h0M347 1774h0M346 1781h0M356 1788h0M333 1814h0M315 1786h0M375 1817h0M340 1774h0M470 1708h0M364 1772h0M324 1791h0M373 1766h0M348 1854h0M340 1839h0M384 1897h0M363 1840h0M399 1800h0M380 1860h0M380 1870h0M398 1877h0M396 1791h0M316 1796h0M327 1820h0M337 1830h0M338 1687h0M384 1809h0M420 1761h0M447 1721h0M353 1686h0M466 1705h0M406 1793h0M353 1769h0M393 1827h0M339 1775h0M415 1840h0M480 1658h0M354 1826h0M358 1842h0M363 1877h0M318 1785h0M429 1708h0M353 1788h0M407 1824h0M323 1817h0M401 1668h0M366 1782h0M319 1781h0M322 1823h0M385 1817h0M349 1850h0M332 1694h0M376 1784h0M369 1712h0M470 1723h0M359 1718h0M344 1845h0M376 1813h0M422 1674h0M508 1715h0M368 1768h0M393 1787h0M477 1695h0M316 1772h0M390 1862h0M379 1853h0M405 1843h0M366 1718h0M380 1823h0M396 1818h0M444 1788h0M334 1788h0M348 1876h0M439 1674h0M381 1847h0M351 1731h0M361 1770h0M403 1866h0M372 1738h0M379 1826h0M362 1897h0M350 1844h0M318 1780h0M447 1781h0M338 1818h0M387 1890h0M391 1842h0M397 1810h0M403 1814h0M323 1790h0M385 1788h0M364 1794h0M331 1795h0M336 1718h0M340 1852h0M387 1850h0M465 1753h0M345 1835h0M320 1829h0M490 1713h0M354 1688h0M367 1860h0M366 1894h0M345 1813h0M407 1755h0" stroke="#1473b4" stroke-width="7.2" stroke-linecap="round" stroke-opacity=".8" fill="none"/>
<path d="M288 1539h0M295 1509h0M114 1554h0M288 1414h0M193 1556h0M218 1557h0M334 1525h0M365 1512h0M254 1528h0M177 1479h0M170 1608h0M270 1474h0M332 1545h0M138 1530h0M273 1523h0M291 1439h0M199 1624h0M104 1548h0M261 1551h0M196 1510h0M307 1383h0M348 1542h0M241 1400h0M117 1552h0M337 1535h0M141 1502h0M311 1464h0M345 1492h0M232 1370h0M228 1536h0M323 1607h0M248 1551h0M103 1549h0M320 1425h0M347 1482h0M328 1472h0M161 1574h0M322 1495h0M321 1460h0M270 1521h0M369 1542h0M248 1557h0M330 1473h0M180 1484h0M289 1436h0M343 1540h0M273 1387h0M116 1571h0M213 1623h0M151 1517h0M134 1559h0M193 1541h0M250 1477h0M245 1502h0M260 1519h0M114 1525h0M312 1601h0M251 1498h0M244 1567h0M276 1498h0M171 1615h0M336 1493h0M220 1621h0M175 1487h0M111 1567h0M310 1466h0M279 1544h0M340 1543h0M279 1595h0M165 1547h0M298 1493h0M188 1498h0M284 1535h0M275 1515h0M273 1465h0M266 1377h0M203 1485h0M192 1535h0M253 1478h0M268 1450h0M308 1470h0M174 1573h0M194 1486h0M304 1575h0M296 1577h0M146 1606h0M307 1599h0M337 1606h0M250 1538h0M216 1503h0M255 1538h0M206 1539h0M119 1573h0M187 1567h0M362 1546h0M300 1456h0M310 1576h0M208 1594h0M297 1499h0M287 1473h0M298 1518h0M376 1515h0M290 1489h0M220 1488h0M198 1515h0M237 1601h0M151 1543h0M207 1598h0M366 1491h0M274 1480h0M240 1481h0M179 1582h0M123 1537h0M328 1474h0M244 1514h0M190 1572h0M340 1549h0M174 1499h0M358 1530h0M179 1546h0M157 1585h0M340 1505h0M293 1528h0M331 1522h0M164 1556h0M182 1572h0M372 1573h0M284 1515h0M226 1488h0M246 1393h0M185 1487h0M307 1483h0M273 1601h0M254 1506h0M173 1492h0M164 1540h0M286 1563h0M367 1518h0M363 1521h0M208 1585h0M339 1522h0M358 1512h0M343 1501h0M148 1499h0M282 1506h0M236 1671h0M208 1545h0M192 1548h0M266 1546h0M293 1468h0M237 1608h0M235 1572h0M264 1523h0M191 1553h0M130 1574h0M165 1515h0M286 1405h0M195 1571h0M297 1493h0M361 1514h0M228 1584h0M319 1556h0M306 1483h0M133 1575h0M342 1521h0" stroke="#5800b8" stroke-width="7.2" stroke-linecap="round" stroke-opacity=".8" fill="none"/>
<path d="M374 1859h0M346 1841h0M382 1897h0M326 1782h0M320 1828h0M393 1760h0M322 1786h0M369 1794h0M387 1818h0M323 1765h0M349 1795h0M461 1740h0M377 1778h0M435 1761h0M329 1773h0M365 1783h0M417 1718h0M445 1760h0M434 1664h0M413 1753h0M384 1797h0M317 1815h0M380 1825h0M320 1820h0M510 1682h0M470 1720h0M397 1795h0M428 1711h0M377 1882h0M382 1861h0M330 1771h0M410 1831h0M398 1843h0M330 1804h0M385 1870h0M354 1790h0M394 1875h0M364 1906h0M338 1833h0M351 1770h0M394 1885h0M431 1742h0M371 1793h0M435 1669h0M367 1825h0M368 1909h0M360 1815h0M393 1807h0M397 1851h0M352 1825h0M360 1771h0M431 1705h0M368 1908h0M363 1847h0M431 1666h0M348 1884h0M407 1824h0M346 1770h0M369 1750h0M393 1840h0M351 1841h0M406 1766h0M504 1708h0M368 1914h0M358 1833h0M398 1784h0M372 1851h0M350 1875h0M339 1813h0M421 1682h0M411 1735h0M429 1700h0M354 1818h0M461 1760h0M388 1755h0M384 1842h0M384 1804h0M396 1834h0M315 1780h0M374 1725h0M407 1835h0M485 1740h0M375 1836h0M384 1717h0M381 1876h0M400 1734h0M381 1848h0M377 1817h0M399 1789h0M420 1706h0M369 1811h0M364 1802h0M359 1684h0M388 1813h0M353 1882h0M407 1849h0M450 1719h0M321 1790h0M403 1877h0M452 1725h0M323 1827h0M324 1789h0M320 1786h0M400 1859h0M373 1800h0M375 1787h0M349 1804h0M364 1777h0M369 1878h0M376 1918h0M364 1779h0M404 1824h0M415 1823h0M393 1880h0M389 1814h0M370 1798h0M373 1716h0M389 1846h0M329 1809h0M336 1826h0M370 1799h0M461 1663h0M384 1904h0M338 1765h0M330 1820h0M345 1834h0M336 1821h0M358 1859h0M464 1708h0M354 1857h0M372 1846h0M488 1718h0M338 1696h0M332 1808h0M360 1772h0M342 1866h0M349 1765h0M386 1818h0M334 1781h0M316 1786h0M386 1792h0M396 1845h0M437 1700h0M317 1783h0M382 1831h0M372 1895h0M352 1774h0M356 1899h0M353 1885h0M403 1827h0M338 1865h0M328 1789h0M359 1902h0M508 1719h0M365 1867h0M371 1916h0M443 1760h0M362 1837h0M458 1693h0M315 1760h0M342 1802h0M336 1778h0M344 1827h0M408 1828h0M376 1892h0M382 1870h0M377 1814h0M411 1798h0M450 1689h0M347 1791h0M344 1765h0M356 1895h0M336 1837h0M375 1896h0M339 1838h0M394 1807h0M336 1828h0M357 1850h0M350 1794h0M365 1702h0" stroke="#1473b4" stroke-width="7.2" stroke-linecap="round" stroke-opacity=".8" fill="none"/>
<path d="M261 1218h0M266 1188h0M369 1236h0M285 1201h0M253 1258h0M231 1239h0M430 1243h0M309 1196h0M220 1254h0M231 1211h0M402 1182h0M380 1291h0M362 1358h0M268 1180h0M414 1317h0M300 1324h0M233 1235h0M359 1306h0M235 1209h0M358 1237h0M424 1245h0M404 1193h0M360 1284h0M294 1198h0M341 1230h0M325 1286h0M254 1277h0M424 1256h0M236 1315h0M334 1268h0M360 1358h0M277 1378h0M368 1317h0M244 1211h0M370 1325h0M266 1279h0M323 1245h0M408 1197h0M393 1242h0M456 1258h0M448 1263h0M428 1288h0M367 1312h0M343 1248h0M325 1279h0M241 1211h0M268 1289h0M239 1362h0M408 1341h0M286 1255h0M258 1180h0M315 1193h0M279 1267h0M287 1265h0M391 1211h0M401 1228h0M240 1247h0M381 1257h0M230 1291h0M212 1232h0M285 1306h0M397 1186h0M419 1185h0M255 1260h0M377 1275h0M376 1358h0M433 1247h0M273 1229h0M236 1199h0M406 1253h0M262 1336h0M283 1350h0M313 1187h0M276 1243h0M372 1216h0M246 1262h0M325 1286h0M294 1384h0M296 1184h0M381 1265h0M256 1366h0M420 1218h0M222 1192h0M253 1273h0M250 1227h0M412 1250h0M283 1164h0M248 1204h0M239 1188h0M312 1278h0M236 1214h0M421 1245h0M315 1291h0M404 1221h0M236 1217h0M380 1232h0M316 1357h0M365 1196h0M255 1267h0M224 1193h0M289 1372h0M345 1223h0M256 1259h0M379 1219h0M320 1289h0M320 1301h0M431 1199h0M385 1233h0M411 1277h0M326 1268h0M359 1294h0M329 1281h0M311 1277h0M410 1245h0M319 1267h0M360 1219h0M439 1205h0M372 1273h0M263 1302h0M220 1195h0M350 1247h0M459 1261h0M264 1161h0M234 1264h0M247 1293h0M407 1177h0M293 1299h0M423 1286h0M228 1207h0M294 1276h0M430 1210h0M270 1234h0M287 1220h0M443 1236h0M333 1302h0M331 1239h0M212 1234h0M409 1211h0M221 1232h0M221 1211h0M280 1196h0M417 1176h0M291 1232h0M426 1192h0M404 1272h0M276 1157h0M282 1352h0M342 1244h0M298 1369h0M407 1294h0M357 1203h0M290 1205h0M324 1269h0M328 1306h0M395 1204h0M267 1163h0M275 1261h0M266 1319h0M386 1224h0M256 1253h0M425 1192h0M239 1325h0M393 1351h0M281 1332h0M230 1195h0M375 1186h0" stroke="#8db54b" stroke-width="7.2" stroke-linecap="round" stroke-opacity=".8" fill="none"/>
<path d="M222 1538h0M291 1519h0M300 1432h0M358 1546h0M239 1608h0M203 1635h0M324 1462h0M279 1522h0M208 1626h0M113 1531h0M254 1538h0M261 1521h0M305 1403h0M141 1492h0M252 1439h0M141 1542h0M201 1574h0M139 1574h0M179 1596h0M271 1529h0M187 1481h0M307 1505h0M250 1464h0M167 1601h0M195 1608h0M295 1516h0M257 1512h0M289 1477h0M146 1508h0M117 1534h0M167 1575h0M339 1521h0M344 1476h0M269 1546h0M154 1504h0M179 1477h0M245 1359h0M145 1593h0M363 1530h0M292 1480h0M240 1535h0M215 1602h0M285 1520h0M213 1380h0M143 1612h0M340 1463h0M280 1606h0M227 1553h0M130 1532h0M255 1519h0M305 1485h0M223 1589h0M140 1546h0M151 1501h0M234 1562h0M280 1503h0M350 1502h0M156 1499h0M246 1539h0M221 1604h0M217 1456h0M201 1610h0M276 1522h0M123 1577h0M212 1492h0M332 1512h0M257 1474h0M185 1593h0M311 1435h0M365 1544h0M117 1538h0M245 1533h0M322 1514h0M238 1389h0M163 1513h0M326 1552h0M371 1489h0M179 1611h0M243 1366h0M173 1570h0M328 1448h0M185 1493h0M180 1501h0M151 1609h0M184 1556h0M210 1388h0M332 1543h0M321 1430h0M240 1563h0M335 1487h0M137 1510h0M200 1603h0M360 1537h0M225 1493h0M153 1578h0M249 1381h0M323 1479h0M322 1410h0M219 1587h0M283 1481h0M133 1521h0M146 1605h0M364 1479h0M240 1403h0M212 1569h0M266 1533h0M344 1497h0M199 1440h0M358 1549h0M203 1619h0M279 1484h0M277 1445h0M258 1541h0M180 1529h0M264 1403h0M296 1449h0M170 1492h0M313 1495h0M117 1546h0M369 1543h0M243 1548h0M202 1488h0M191 1508h0M232 1573h0M212 1525h0M220 1582h0M114 1523h0M320 1523h0M325 1407h0M209 1400h0M250 1539h0M208 1573h0M169 1482h0M263 1562h0M346 1535h0M358 1499h0M344 1468h0M325 1544h0M273 1470h0M141 1542h0M268 1441h0M283 1540h0M354 1477h0M278 1479h0M169 1542h0M245 1398h0M216 1540h0M305 1525h0M299 1530h0M168 1495h0M317 1584h0M228 1554h0M172 1562h0M301 1504h0M247 1501h0M113 1554h0M238 1565h0M218 1443h0M210 1525h0M127 1536h0M198 1562h0M333 1551h0M156 1582h0M253 1509h0M294 1479h0" stroke="#5800b8" stroke-width="7.2" stroke-linecap="round" stroke-opacity=".8" fill="none"/>
<path d="M289 1659h0M332 1722h0M376 1602h0M315 1764h0M297 1655h0M444 1574h0M402 1593h0M397 1598h0M396 1698h0M253 1638h0M556 1598h0M426 1667h0M426 1599h0M456 1577h0M350 1627h0M481 1621h0M460 1614h0M272 1700h0M332 1670h0M310 1725h0M501 1642h0M563 1613h0M360 1614h0M452 1679h0M414 1565h0M368 1757h0M432 1753h0M516 1651h0M388 1735h0M441 1719h0M530 1631h0M302 1699h0M430 1711h0M403 1560h0M284 1608h0M399 1573h0M497 1558h0M431 1551h0M556 1629h0M364 1743h0M448 1716h0M474 1629h0M538 1629h0M456 1671h0M277 1721h0M345 1771h0M470 1590h0M428 1713h0M355 1725h0M430 1553h0M460 1665h0M520 1647h0M317 1712h0M421 1711h0M308 1721h0M503 1660h0M409 1699h0M439 1740h0M237 1643h0M333 1608h0M419 1597h0M312 1664h0M286 1610h0M305 1671h0M315 1644h0M487 1635h0M426 1656h0M356 1591h0M524 1572h0M540 1609h0M426 1595h0M284 1659h0M414 1667h0M338 1719h0M533 1607h0M337 1692h0M365 1727h0M346 1686h0M346 1712h0M313 1688h0M451 1659h0M446 1712h0M378 1623h0M495 1614h0M403 1572h0M292 1608h0M275 1656h0M494 1513h0M529 1620h0M335 1631h0M340 1585h0M592 1679h0M434 1566h0M468 1596h0M477 1626h0M363 1727h0M287 1695h0M329 1711h0M333 1682h0M483 1733h0M350 1695h0M539 1659h0M453 1769h0M403 1570h0M412 1712h0M323 1639h0M425 1651h0M423 1578h0M470 1656h0M356 1746h0M339 1608h0M448 1702h0M324 1662h0M475 1739h0M556 1622h0M406 1598h0M458 1582h0M473 1600h0M319 1746h0M247 1632h0M418 1577h0M381 1775h0M400 1702h0M348 1626h0M376 1651h0M307 1687h0M508 1679h0M422 1732h0M516 1571h0M340 1668h0M251 1631h0M335 1719h0M294 1622h0M393 1694h0M323 1747h0M398 1580h0M282 1638h0M318 1720h0M539 1638h0M305 1630h0M501 1663h0M546 1603h0M360 1726h0M380 1644h0M387 1633h0M354 1658h0M324 1756h0M339 1597h0M371 1605h0M269 1640h0M424 1771h0M511 1652h0M479 1620h0M461 1658h0M301 1748h0M448 1610h0M347 1674h0M511 1648h0M382 1688h0M559 1611h0M434 1775h0M360 1661h0M426 1752h0M477 1574h0M336 1699h0" stroke="#0d8af5" stroke-width="7.2" stroke-linecap="round" stroke-opacity=".8" fill="none"/>
<path d="M340 1244h0M302 1277h0M287 1359h0M429 1289h0M320 1196h0M276 1281h0M249 1348h0M426 1243h0M344 1354h0M293 1202h0M265 1307h0M354 1267h0M287 1249h0M323 1244h0M306 1245h0M269 1386h0M340 1312h0M349 1289h0M369 1285h0M252 1277h0M383 1243h0M229 1275h0M419 1178h0M301 1208h0M261 1216h0M338 1236h0M267 1178h0M321 1193h0M376 1261h0M314 1279h0M296 1203h0M340 1235h0M281 1354h0M318 1262h0M258 1294h0M262 1243h0M263 1303h0M300 1247h0M261 1346h0M294 1214h0M353 1260h0M388 1216h0M295 1367h0M289 1153h0M280 1279h0M287 1260h0M335 1255h0M242 1327h0M375 1352h0M265 1207h0M241 1196h0M334 1284h0M434 1247h0M248 1222h0M411 1259h0M265 1173h0M319 1336h0M372 1302h0M236 1193h0M251 1367h0M281 1220h0M360 1226h0M272 1289h0M239 1307h0M265 1230h0M253 1208h0M247 1221h0M263 1163h0M350 1288h0M326 1233h0M309 1240h0M406 1189h0M226 1186h0M229 1220h0M351 1265h0M321 1278h0M349 1314h0M263 1169h0M229 1237h0M262 1202h0M374 1243h0M247 1353h0M342 1359h0M283 1183h0M372 1199h0M339 1359h0M428 1219h0M419 1223h0M323 1243h0M265 1203h0M403 1207h0M243 1288h0M402 1323h0M223 1205h0M391 1352h0M231 1282h0M379 1260h0M227 1227h0M315 1238h0M406 1199h0M291 1217h0M407 1219h0M311 1201h0M281 1375h0M305 1179h0M388 1342h0M267 1299h0M437 1268h0M429 1276h0M236 1284h0M395 1291h0M387 1248h0M436 1226h0M361 1291h0M259 1235h0M380 1239h0M336 1356h0M341 1246h0M292 1358h0M306 1187h0M290 1283h0M274 1326h0M330 1253h0M419 1196h0M281 1165h0M257 1180h0M278 1191h0M379 1332h0M383 1296h0M292 1177h0M266 1389h0M315 1203h0M412 1329h0M350 1292h0M338 1257h0M368 1319h0M418 1182h0M317 1367h0M304 1158h0M226 1217h0M421 1183h0M333 1242h0M336 1310h0M386 1320h0M375 1294h0M363 1338h0M377 1235h0M312 1164h0M315 1185h0M240 1284h0M251 1213h0M364 1181h0M386 1267h0M319 1178h0M271 1305h0M402 1280h0M352 1291h0M361 1272h0M258 1191h0M334 1296h0M238 1241h0M268 1159h0M219 1281h0M406 1195h0M257 1273h0M303 1336h0" stroke="#8db54b" stroke-width="7.2" stroke-linecap="round" stroke-opacity=".8" fill="none"/>
<path d="M176 1540h0M202 1620h0M198 1634h0M173 1563h0M214 1564h0M344 1477h0M244 1502h0M151 1539h0M147 1592h0M119 1587h0M371 1522h0M365 1575h0M309 1503h0M250 1535h0M194 1600h0M269 1546h0M330 1493h0M149 1513h0M313 1484h0M196 1559h0M318 1383h0M160 1515h0M188 1506h0M219 1538h0M244 1523h0M334 1612h0M167 1559h0M261 1523h0M254 1511h0M323 1583h0M218 1568h0M233 1500h0M258 1535h0M305 1502h0M266 1361h0M152 1527h0M162 1531h0M361 1524h0M347 1478h0M309 1516h0M192 1636h0M208 1578h0M328 1484h0M337 1486h0M179 1597h0M375 1546h0M165 1589h0M237 1573h0M301 1423h0M211 1613h0M127 1591h0M253 1556h0M246 1438h0M307 1540h0M249 1551h0M287 1551h0M212 1492h0M148 1557h0M307 1558h0M214 1433h0M169 1535h0M274 1508h0M281 1523h0M247 1578h0M328 1451h0M310 1423h0M302 1535h0M241 1532h0M279 1522h0M343 1564h0M255 1434h0M192 1503h0M171 1600h0M296 1546h0M319 1475h0M243 1506h0M209 1603h0M291 1569h0M221 1522h0M235 1420h0M178 1496h0M166 1555h0M208 1631h0M316 1542h0M282 1384h0M163 1610h0M311 1509h0M308 1529h0M332 1511h0M274 1513h0M172 1618h0M230 1519h0M187 1485h0M328 1535h0M126 1555h0M375 1559h0M281 1418h0M294 1368h0M339 1535h0M330 1516h0M263 1491h0M167 1538h0M182 1543h0M286 1512h0M242 1495h0M264 1584h0M223 1490h0M270 1521h0M239 1597h0M149 1537h0M215 1529h0M160 1499h0M203 1502h0M176 1512h0M345 1550h0M180 1614h0M234 1374h0M227 1595h0M216 1547h0M275 1474h0M228 1520h0M225 1496h0M194 1440h0M182 1494h0M122 1552h0M260 1536h0M244 1538h0M339 1493h0M192 1529h0M306 1435h0M256 1540h0M216 1486h0M227 1598h0M183 1490h0M269 1581h0M323 1496h0M256 1546h0M232 1621h0M313 1581h0M238 1609h0M200 1505h0M335 1464h0M353 1530h0M227 1414h0M272 1593h0M165 1606h0M288 1533h0M356 1470h0M322 1602h0M259 1419h0M207 1483h0M309 1462h0M300 1434h0M302 1493h0M207 1517h0M237 1498h0M244 1539h0M218 1627h0M199 1460h0M256 1371h0M211 1497h0M152 1506h0M233 1632h0M245 1535h0" stroke="#5800b8" stroke-width="7.2" stroke-linecap="round" stroke-opacity=".8" fill="none"/>
<path d="M357 1644h0M442 1658h0M437 1715h0M471 1755h0M459 1673h0M499 1584h0M458 1772h0M398 1717h0M471 1638h0M307 1643h0M345 1740h0M337 1698h0M323 1595h0M306 1651h0M547 1619h0M288 1638h0M452 1662h0M455 1715h0M363 1760h0M428 1671h0M550 1552h0M502 1585h0M477 1575h0M282 1625h0M349 1672h0M361 1684h0M481 1617h0M343 1670h0M348 1671h0M375 1576h0M468 1646h0M516 1578h0M525 1573h0M525 1666h0M451 1609h0M352 1623h0M379 1628h0M434 1578h0M339 1645h0M418 1770h0M288 1624h0M547 1646h0M471 1730h0M385 1590h0M532 1597h0M411 1643h0M483 1644h0M553 1588h0M373 1552h0M475 1637h0M336 1595h0M439 1740h0M346 1749h0M544 1659h0M527 1579h0M548 1601h0M377 1750h0M507 1647h0M325 1601h0M417 1619h0M583 1611h0M395 1779h0M331 1691h0M330 1674h0M318 1680h0M433 1749h0M351 1729h0M479 1681h0M405 1649h0M417 1594h0M438 1637h0M325 1601h0M397 1694h0M404 1649h0M323 1662h0M383 1564h0M556 1635h0M584 1664h0M459 1604h0M297 1720h0M417 1709h0M430 1679h0M440 1570h0M266 1698h0M311 1644h0M259 1693h0M297 1736h0M337 1759h0M450 1590h0M299 1667h0M363 1753h0M328 1589h0M419 1679h0M385 1578h0M354 1603h0M442 1608h0M306 1664h0M268 1646h0M376 1573h0M274 1726h0M458 1705h0M444 1622h0M458 1641h0M479 1598h0M416 1606h0M486 1595h0M401 1580h0M399 1686h0M367 1737h0M292 1717h0M357 1656h0M465 1753h0M348 1741h0M251 1628h0M422 1571h0M311 1699h0M486 1697h0M467 1637h0M291 1708h0M382 1586h0M563 1613h0M584 1643h0M426 1642h0M293 1691h0M324 1694h0M320 1608h0M354 1631h0M559 1621h0M530 1573h0M332 1644h0M339 1733h0M567 1616h0M352 1779h0M335 1628h0M430 1732h0M280 1632h0M428 1645h0M355 1589h0M429 1743h0M523 1552h0M405 1600h0M436 1709h0M361 1740h0M410 1575h0M314 1683h0M421 1658h0M360 1587h0M544 1581h0M290 1652h0M410 1743h0M551 1539h0M398 1669h0M464 1751h0M294 1733h0M514 1564h0M532 1596h0M419 1742h0M365 1613h0M397 1629h0M361 1661h0M330 1757h0M529 1602h0M516 1558h0M443 1587h0M432 1699h0M326 1733h0" stroke="#0d8af5" stroke-width="7.2" stroke-linecap="round" stroke-opacity=".8" fill="none"/>
<path d="M298 1526h0M232 1584h0M232 1517h0M325 1410h0M212 1569h0M270 1390h0M262 1478h0M209 1608h0M140 1575h0M347 1469h0M220 1573h0M311 1513h0M305 1520h0M125 1523h0M220 1586h0M272 1421h0M352 1546h0M360 1568h0M340 1505h0M131 1567h0M254 1518h0M148 1496h0M133 1518h0M143 1500h0M196 1483h0M193 1489h0M200 1487h0M111 1561h0M205 1496h0M340 1532h0M183 1577h0M279 1500h0M263 1536h0M237 1608h0M227 1368h0M262 1523h0M257 1513h0M281 1497h0M148 1505h0M216 1478h0M282 1444h0M186 1551h0M261 1559h0M206 1553h0M213 1611h0M285 1562h0M351 1605h0M206 1484h0M252 1508h0M118 1556h0M213 1566h0M249 1496h0M329 1445h0M156 1561h0M223 1498h0M168 1571h0M350 1604h0M208 1477h0M304 1539h0M266 1528h0M292 1586h0M329 1462h0M301 1443h0M111 1546h0M134 1542h0M178 1556h0M237 1644h0M143 1544h0M307 1526h0M275 1596h0M198 1629h0M309 1503h0M337 1599h0M327 1487h0M287 1380h0M206 1572h0M294 1419h0M350 1479h0M169 1572h0M247 1524h0M241 1520h0M235 1651h0M265 1535h0M172 1587h0M348 1472h0M374 1522h0M155 1520h0M278 1501h0M310 1474h0M320 1489h0M261 1435h0M114 1527h0M158 1560h0M308 1541h0M318 1515h0M305 1515h0M188 1542h0M357 1533h0M343 1563h0M209 1626h0M345 1531h0M203 1480h0M241 1494h0M363 1483h0M336 1515h0M186 1547h0M313 1547h0M156 1572h0M211 1553h0M215 1569h0M307 1525h0M244 1562h0M194 1548h0M265 1586h0M175 1495h0M182 1507h0M138 1564h0M229 1492h0M119 1555h0M187 1617h0M329 1477h0M239 1512h0M276 1554h0M248 1418h0M168 1525h0M159 1497h0M331 1542h0M282 1536h0M196 1490h0M219 1426h0M256 1407h0M300 1407h0M114 1554h0M305 1545h0M150 1565h0M162 1547h0M283 1497h0M283 1479h0M359 1498h0M337 1474h0M374 1484h0M258 1458h0M250 1574h0M278 1508h0M341 1534h0M268 1555h0M352 1496h0M332 1534h0M321 1426h0M230 1497h0M385 1552h0M456 1568h0M242 1498h0M321 1462h0M227 1575h0M222 1528h0M141 1534h0M144 1547h0M337 1465h0M208 1482h0M136 1536h0M268 1365h0M348 1583h0M380 1512h0M206 1607h0" stroke="#5800b8" stroke-width="7.2" stroke-linecap="round" stroke-opacity=".8" fill="none"/>
<path d="M122 1560h0M271 1511h0M241 1577h0M164 1512h0M216 1595h0M184 1613h0M272 1525h0M245 1604h0M245 1555h0M295 1547h0M279 1528h0M249 1532h0M343 1476h0M134 1569h0M349 1526h0M287 1542h0M202 1621h0M228 1532h0M286 1506h0M140 1595h0M314 1547h0M228 1486h0M165 1573h0M313 1550h0M166 1509h0M209 1586h0M258 1598h0M199 1573h0M195 1581h0M365 1527h0M251 1542h0M288 1484h0M238 1596h0M126 1582h0M137 1521h0M159 1506h0M169 1542h0M227 1614h0M243 1498h0M299 1582h0M251 1530h0M300 1495h0M257 1540h0M178 1595h0M246 1427h0M276 1476h0M180 1522h0M169 1538h0M190 1507h0M297 1491h0M205 1580h0M332 1502h0M130 1555h0M206 1492h0M118 1520h0M227 1558h0M285 1485h0M292 1380h0M275 1563h0M295 1588h0M351 1538h0M281 1506h0M323 1515h0M188 1616h0M158 1567h0M296 1547h0M273 1501h0M147 1532h0M293 1520h0M168 1526h0M195 1614h0M275 1513h0M247 1496h0M124 1521h0M187 1509h0M147 1597h0M222 1552h0M283 1494h0M323 1550h0M273 1479h0M239 1498h0M152 1561h0M240 1505h0M301 1499h0M321 1499h0M221 1439h0M268 1591h0M138 1551h0M213 1616h0M263 1549h0M176 1605h0M355 1497h0M290 1534h0M159 1505h0M160 1525h0M325 1483h0M196 1578h0M181 1552h0M255 1551h0M189 1532h0M202 1574h0M316 1533h0M311 1602h0M146 1516h0M314 1515h0M252 1534h0M242 1516h0M295 1574h0M164 1619h0M301 1510h0M127 1554h0M163 1510h0M345 1608h0M229 1571h0M110 1557h0M137 1504h0M232 1524h0M272 1524h0M267 1385h0M113 1554h0M200 1493h0M213 1516h0M171 1602h0M160 1584h0M352 1485h0M254 1552h0M311 1520h0M254 1519h0M286 1532h0M368 1527h0M218 1546h0M187 1497h0M279 1518h0M213 1484h0M243 1490h0M148 1588h0M211 1385h0M283 1405h0M194 1637h0M233 1572h0M154 1561h0M185 1627h0M206 1521h0M357 1482h0M245 1644h0M273 1510h0M257 1412h0M277 1522h0M247 1513h0M269 1491h0M183 1523h0M157 1491h0M139 1600h0M209 1564h0M143 1514h0M132 1519h0M211 1522h0M356 1537h0M339 1518h0M229 1565h0M225 1554h0M158 1514h0M182 1530h0M241 1526h0" stroke="#5800b8" stroke-width="7.2" stroke-linecap="round" stroke-opacity=".8" fill="none"/>
<path d="M174 1509h0M124 1515h0M327 1603h0M236 1487h0M360 1569h0M145 1608h0M193 1596h0M146 1531h0M358 1497h0M297 1496h0M232 1500h0M277 1582h0M275 1518h0M230 1507h0M137 1527h0M300 1431h0M298 1511h0M136 1568h0M147 1533h0M252 1542h0M224 1499h0M313 1485h0M268 1524h0M309 1479h0M277 1509h0M196 1604h0M224 1530h0M240 1454h0M154 1539h0M230 1604h0M186 1552h0M331 1423h0M187 1601h0M348 1589h0M271 1493h0M247 1607h0M254 1517h0M232 1487h0M348 1551h0M181 1530h0M218 1606h0M179 1559h0M369 1531h0M209 1615h0M133 1505h0M169 1537h0M280 1482h0M213 1583h0M283 1496h0M200 1600h0M278 1499h0M141 1564h0M290 1564h0M285 1495h0M145 1538h0M237 1539h0M114 1569h0M370 1505h0M302 1470h0M288 1386h0M215 1523h0M299 1529h0M367 1536h0M196 1629h0M224 1483h0M343 1525h0M218 1573h0M249 1518h0M240 1608h0M336 1472h0M285 1486h0M169 1570h0M159 1604h0M357 1497h0M246 1495h0M316 1485h0M366 1560h0M147 1555h0M304 1521h0M247 1432h0M258 1548h0M156 1576h0M247 1528h0M310 1467h0M300 1510h0M293 1552h0M276 1493h0M110 1568h0M320 1393h0M210 1380h0M172 1581h0M195 1565h0M118 1542h0M128 1532h0M371 1575h0M125 1547h0M198 1512h0M183 1524h0M210 1518h0M214 1487h0M179 1513h0M347 1485h0M326 1510h0M337 1522h0M326 1602h0M181 1577h0M332 1510h0M202 1555h0M138 1533h0M317 1502h0M374 1530h0M184 1569h0M224 1361h0M233 1569h0M276 1463h0M311 1504h0M204 1483h0M320 1542h0M245 1551h0M256 1532h0M291 1479h0M255 1543h0M286 1497h0M326 1530h0M116 1545h0M234 1377h0M310 1527h0M227 1606h0M275 1494h0M137 1589h0M153 1567h0M379 1569h0M368 1547h0M193 1562h0M153 1607h0M281 1521h0M260 1538h0M371 1495h0M193 1519h0M262 1390h0M165 1544h0M125 1561h0M325 1416h0M182 1624h0M202 1579h0M308 1436h0M269 1489h0M216 1512h0M303 1525h0M324 1586h0M126 1544h0M155 1536h0M120 1513h0M163 1482h0M179 1529h0M233 1520h0M235 1460h0M313 1459h0M267 1510h0M183 1584h0M294 1381h0M390 1505h0M123 1535h0M162 1556h0M223 1615h0" stroke="#5800b8" stroke-width="7.2" stroke-linecap="round" stroke-opacity=".8" fill="none"/>
<path d="M404 1668h0M435 1600h0M457 1743h0M361 1705h0M409 1715h0M542 1623h0M290 1622h0M373 1704h0M427 1744h0M524 1605h0M471 1722h0M360 1598h0M503 1607h0M479 1758h0M405 1566h0M296 1732h0M631 1619h0M329 1602h0M490 1638h0M309 1744h0M425 1657h0M297 1637h0M461 1581h0M387 1705h0M443 1692h0M310 1626h0M453 1679h0M401 1634h0M486 1596h0M420 1672h0M410 1704h0M411 1768h0M535 1572h0M448 1740h0M562 1612h0M576 1643h0M429 1698h0M430 1795h0M275 1686h0M535 1622h0M349 1772h0M450 1593h0M419 1604h0M377 1679h0M421 1785h0M401 1770h0M419 1575h0M428 1608h0M385 1728h0M359 1667h0M309 1664h0M362 1658h0M467 1592h0M484 1597h0M401 1707h0M430 1691h0M400 1620h0M421 1710h0M448 1648h0M549 1609h0M460 1733h0M364 1757h0M498 1678h0M326 1660h0M296 1689h0M439 1771h0M391 1753h0M339 1661h0M377 1680h0M552 1586h0M561 1631h0M271 1706h0M335 1708h0M548 1597h0M381 1715h0M528 1522h0M323 1706h0M398 1607h0M440 1616h0M290 1595h0M399 1695h0M538 1639h0M325 1739h0M373 1604h0M565 1658h0M467 1728h0M539 1577h0M440 1563h0M344 1628h0M494 1666h0M531 1571h0M264 1664h0M516 1617h0M495 1572h0M413 1716h0M306 1647h0M375 1548h0M394 1602h0M406 1671h0M512 1574h0M359 1594h0M484 1599h0M520 1558h0M270 1650h0M503 1600h0M536 1631h0M349 1651h0M311 1663h0M467 1759h0M511 1698h0M496 1608h0M324 1641h0M386 1677h0M399 1614h0M272 1651h0M537 1571h0M557 1586h0M415 1643h0M357 1646h0M528 1636h0M289 1639h0M330 1669h0M515 1555h0M552 1586h0M379 1627h0M502 1546h0M544 1664h0M321 1657h0M323 1668h0M581 1646h0M277 1684h0M519 1616h0M269 1657h0M353 1752h0M422 1558h0M296 1721h0M331 1766h0M522 1628h0M377 1603h0M462 1600h0M467 1620h0M401 1688h0M481 1645h0M451 1647h0M422 1567h0M413 1690h0M458 1771h0M394 1550h0M540 1636h0M315 1685h0M476 1677h0M449 1699h0M552 1607h0M463 1667h0M408 1696h0M343 1648h0M411 1657h0M406 1585h0M417 1559h0M313 1592h0M517 1659h0M454 1567h0M489 1613h0M417 1714h0M290 1703h0" stroke="#0d8af5" stroke-width="7.2" stroke-linecap="round" stroke-opacity=".8" fill="none"/>
<path d="M294 1506h0M217 1504h0M349 1481h0M307 1466h0M180 1615h0M336 1536h0M152 1486h0M375 1518h0M350 1489h0M253 1657h0M236 1497h0M181 1580h0M253 1542h0M158 1589h0M131 1548h0M219 1577h0M117 1566h0M325 1606h0M341 1526h0M175 1592h0M229 1416h0M152 1509h0M372 1489h0M330 1489h0M396 1543h0M202 1577h0M290 1519h0M369 1526h0M205 1496h0M217 1544h0M273 1397h0M184 1478h0M261 1517h0M125 1501h0M179 1518h0M226 1585h0M172 1540h0M219 1531h0M293 1364h0M178 1505h0M398 1525h0M311 1386h0M145 1521h0M197 1531h0M287 1587h0M254 1540h0M342 1469h0M159 1598h0M254 1569h0M343 1542h0M287 1455h0M252 1436h0M162 1529h0M361 1526h0M364 1499h0M280 1468h0M138 1510h0M233 1601h0M228 1563h0M166 1506h0M158 1558h0M242 1583h0M225 1525h0M247 1561h0M194 1619h0M292 1477h0M191 1476h0M175 1559h0M130 1527h0M229 1647h0M312 1381h0M184 1592h0M299 1511h0M183 1517h0M332 1501h0M178 1524h0M255 1486h0M280 1392h0M352 1526h0M346 1525h0M134 1580h0M343 1551h0M320 1492h0M247 1593h0M255 1523h0M127 1538h0M236 1439h0M195 1625h0M154 1535h0M235 1595h0M337 1542h0M253 1563h0M189 1603h0M183 1525h0M330 1525h0M291 1458h0M192 1478h0M283 1492h0M268 1459h0M246 1548h0M237 1546h0M229 1529h0M201 1525h0M281 1597h0M246 1490h0M326 1544h0M258 1626h0M167 1612h0M353 1531h0M317 1480h0M244 1574h0M212 1588h0M339 1606h0M198 1575h0M210 1615h0M263 1562h0M209 1624h0M197 1495h0M171 1592h0M224 1424h0M250 1548h0M245 1515h0M322 1512h0M324 1469h0M242 1498h0M215 1407h0M270 1509h0M143 1509h0M288 1517h0M308 1510h0M117 1561h0M218 1626h0M133 1527h0M349 1600h0M284 1535h0M205 1587h0M209 1628h0M227 1459h0M329 1456h0M169 1605h0M197 1486h0M193 1564h0M289 1562h0M186 1484h0M295 1461h0M360 1520h0M159 1604h0M209 1514h0M233 1499h0M288 1493h0M324 1507h0M365 1476h0M152 1549h0M322 1524h0M307 1522h0M157 1504h0M273 1540h0M226 1602h0M159 1588h0M119 1544h0M299 1557h0M300 1526h0M326 1489h0M187 1527h0" stroke="#5800b8" stroke-width="7.2" stroke-linecap="round" stroke-opacity=".8" fill="none"/>
<circle cx="630" cy="1350.7" r="5.2" fill="#136fb5"/>
<line x1="548.3" y1="1280.9" x2="393.8" y2="1430.1" stroke="#bbb" stroke-width="3.2" stroke-linecap="round"/>
<line x1="211.8" y1="1413.4" x2="219.6" y2="1460" stroke="#bbb" stroke-width="3.2" stroke-linecap="round"/>
<line x1="116.3" y1="1440.8" x2="314.4" y2="1242.1" stroke="#bbb" stroke-width="3.2" stroke-linecap="round"/>
<line x1="451.7" y1="1560.8" x2="404" y2="1640.1" stroke="#bbb" stroke-width="3.2" stroke-linecap="round"/>
<line x1="936.2" y1="1621" x2="668.3" y2="1881.4" stroke="#bbb" stroke-width="3.2" stroke-linecap="round"/>
<line x1="497" y1="1686.7" x2="368.3" y2="1818.4" stroke="#bbb" stroke-width="3.2" stroke-linecap="round"/>
<line x1="381.9" y1="1707.5" x2="589.5" y2="1518.4" stroke="#bbb" stroke-width="3.2" stroke-linecap="round"/>
<line x1="115.2" y1="1777.4" x2="240.5" y2="1528.9" stroke="#bbb" stroke-width="3.2" stroke-linecap="round"/>
<line x1="449.7" y1="1899" x2="716" y2="1643.1" stroke="#bbb" stroke-width="3.2" stroke-linecap="round"/>
<line x1="872" y1="1793.4" x2="793.6" y2="1890.3" stroke="#bbb" stroke-width="3.2" stroke-linecap="round"/>
<line x1="909.9" y1="1897.2" x2="980" y2="1785.9" stroke="#bbb" stroke-width="3.2" stroke-linecap="round"/>
<rect x="548.3" y="1251.7" width="63.3" height="51.3" rx="7" fill="#fff" stroke="#8a8a8a" stroke-width="1"/>
<text x="563.6" y="1285.5" font-size="23" textLength="28.3" lengthAdjust="spacingAndGlyphs">C3</text>
<rect x="180.8" y="1362.7" width="63.2" height="50.7" rx="7" fill="#fff" stroke="#8a8a8a" stroke-width="1"/>
<text x="196.1" y="1396.3" font-size="23" textLength="28.3" lengthAdjust="spacingAndGlyphs">C4</text>
<rect x="84.1" y="1440.8" width="63.3" height="50.8" rx="7" fill="#fff" stroke="#8a8a8a" stroke-width="1"/>
<text x="99.4" y="1474.4" font-size="23" textLength="28.3" lengthAdjust="spacingAndGlyphs">C2</text>
<rect x="420.6" y="1509.5" width="62.7" height="51.3" rx="7" fill="#fff" stroke="#8a8a8a" stroke-width="1"/>
<text x="435.6" y="1543.4" font-size="23" textLength="28.3" lengthAdjust="spacingAndGlyphs">C7</text>
<rect x="936.2" y="1593" width="79.3" height="51.3" rx="7" fill="#fff" stroke="#8a8a8a" stroke-width="1"/>
<text x="952.4" y="1626.9" font-size="23" textLength="42.5" lengthAdjust="spacingAndGlyphs">C11</text>
<rect x="497" y="1655" width="63.9" height="51.4" rx="7" fill="#fff" stroke="#8a8a8a" stroke-width="1"/>
<text x="512.6" y="1688.9" font-size="23" textLength="28.3" lengthAdjust="spacingAndGlyphs">C1</text>
<rect x="347.9" y="1707.5" width="63.2" height="50.8" rx="7" fill="#fff" stroke="#8a8a8a" stroke-width="1"/>
<text x="363.2" y="1741.1" font-size="23" textLength="28.3" lengthAdjust="spacingAndGlyphs">C6</text>
<rect x="81.5" y="1777.4" width="63.2" height="52.2" rx="7" fill="#fff" stroke="#8a8a8a" stroke-width="1"/>
<text x="96.7" y="1811.7" font-size="23" textLength="28.3" lengthAdjust="spacingAndGlyphs">C5</text>
<rect x="386.2" y="1875.7" width="63.5" height="51.3" rx="7" fill="#fff" stroke="#8a8a8a" stroke-width="1"/>
<text x="401.6" y="1909.5" font-size="23" textLength="28.3" lengthAdjust="spacingAndGlyphs">C8</text>
<rect x="872" y="1764.1" width="78.5" height="51.6" rx="7" fill="#fff" stroke="#8a8a8a" stroke-width="1"/>
<text x="887.8" y="1798.1" font-size="23" textLength="42.5" lengthAdjust="spacingAndGlyphs">C10</text>
<rect x="876.2" y="1897.2" width="62.4" height="52.2" rx="7" fill="#fff" stroke="#8a8a8a" stroke-width="1"/>
<text x="891.1" y="1931.5" font-size="23" textLength="28.3" lengthAdjust="spacingAndGlyphs">C9</text>
<rect x="62.2" y="1112.7" width="4.2" height="862.3"/>
<rect x="62.2" y="1970.8" width="1005.8" height="4.0"/>
<text x="32.8" y="1551.0" font-size="24.7" text-anchor="middle" textLength="86.5" lengthAdjust="spacingAndGlyphs" transform="rotate(-90 32.8 1551.0)">UMAP 2</text>
<text x="514.5" y="2014.3" font-size="24.7" textLength="87.2" lengthAdjust="spacingAndGlyphs">UMAP 1</text>
<circle cx="175.7" cy="2083.9" r="13.8" fill="#1473b4" fill-opacity=".62" stroke="#1473b4" stroke-opacity=".8" stroke-width="2.2"/>
<text x="206.1" y="2092.9" font-size="24.7" textLength="104.4" lengthAdjust="spacingAndGlyphs">C1 (9.2%)</text>
<circle cx="175.7" cy="2117.3" r="13.8" fill="#46af0f" fill-opacity=".62" stroke="#46af0f" stroke-opacity=".8" stroke-width="2.2"/>
<text x="206.1" y="2126.3" font-size="24.7" textLength="118.8" lengthAdjust="spacingAndGlyphs">C10 (1.6%)</text>
<circle cx="175.7" cy="2150.7" r="13.8" fill="#d214d7" fill-opacity=".62" stroke="#d214d7" stroke-opacity=".8" stroke-width="2.2"/>
<text x="206.1" y="2159.7" font-size="24.7" textLength="118.8" lengthAdjust="spacingAndGlyphs">C11 (3.6%)</text>
<circle cx="375.6" cy="2083.9" r="13.8" fill="#8db54b" fill-opacity=".62" stroke="#8db54b" stroke-opacity=".8" stroke-width="2.2"/>
<text x="406.0" y="2092.9" font-size="24.7" textLength="118.8" lengthAdjust="spacingAndGlyphs">C2 (19.2%)</text>
<circle cx="375.6" cy="2117.3" r="13.8" fill="#9966ff" fill-opacity=".62" stroke="#9966ff" stroke-opacity=".8" stroke-width="2.2"/>
<text x="406.0" y="2126.3" font-size="24.7" textLength="104.4" lengthAdjust="spacingAndGlyphs">C3 (5.5%)</text>
<circle cx="375.6" cy="2150.7" r="13.8" fill="#f0930a" fill-opacity=".62" stroke="#f0930a" stroke-opacity=".8" stroke-width="2.2"/>
<text x="406.0" y="2159.7" font-size="24.7" textLength="104.4" lengthAdjust="spacingAndGlyphs">C4 (3.8%)</text>
<circle cx="575.5" cy="2083.9" r="13.8" fill="#5800b8" fill-opacity=".62" stroke="#5800b8" stroke-opacity=".8" stroke-width="2.2"/>
<text x="605.9" y="2092.9" font-size="24.7" textLength="118.8" lengthAdjust="spacingAndGlyphs">C5 (20.2%)</text>
<circle cx="575.5" cy="2117.3" r="13.8" fill="#e59a45" fill-opacity=".62" stroke="#e59a45" stroke-opacity=".8" stroke-width="2.2"/>
<text x="605.9" y="2126.3" font-size="24.7" textLength="104.4" lengthAdjust="spacingAndGlyphs">C6 (9.7%)</text>
<circle cx="575.5" cy="2150.7" r="13.8" fill="#0d8af5" fill-opacity=".62" stroke="#0d8af5" stroke-opacity=".8" stroke-width="2.2"/>
<text x="605.9" y="2159.7" font-size="24.7" textLength="118.8" lengthAdjust="spacingAndGlyphs">C7 (19.3%)</text>
<circle cx="775.4" cy="2083.9" r="13.8" fill="#ff8c42" fill-opacity=".62" stroke="#ff8c42" stroke-opacity=".8" stroke-width="2.2"/>
<text x="805.8" y="2092.9" font-size="24.7" textLength="84.5" lengthAdjust="spacingAndGlyphs">C8 (5%)</text>
<circle cx="775.4" cy="2117.3" r="13.8" fill="#3228a0" fill-opacity=".62" stroke="#3228a0" stroke-opacity=".8" stroke-width="2.2"/>
<text x="805.8" y="2126.3" font-size="24.7" textLength="104.4" lengthAdjust="spacingAndGlyphs">C9 (2.9%)</text>
</svg>
</body></html>
